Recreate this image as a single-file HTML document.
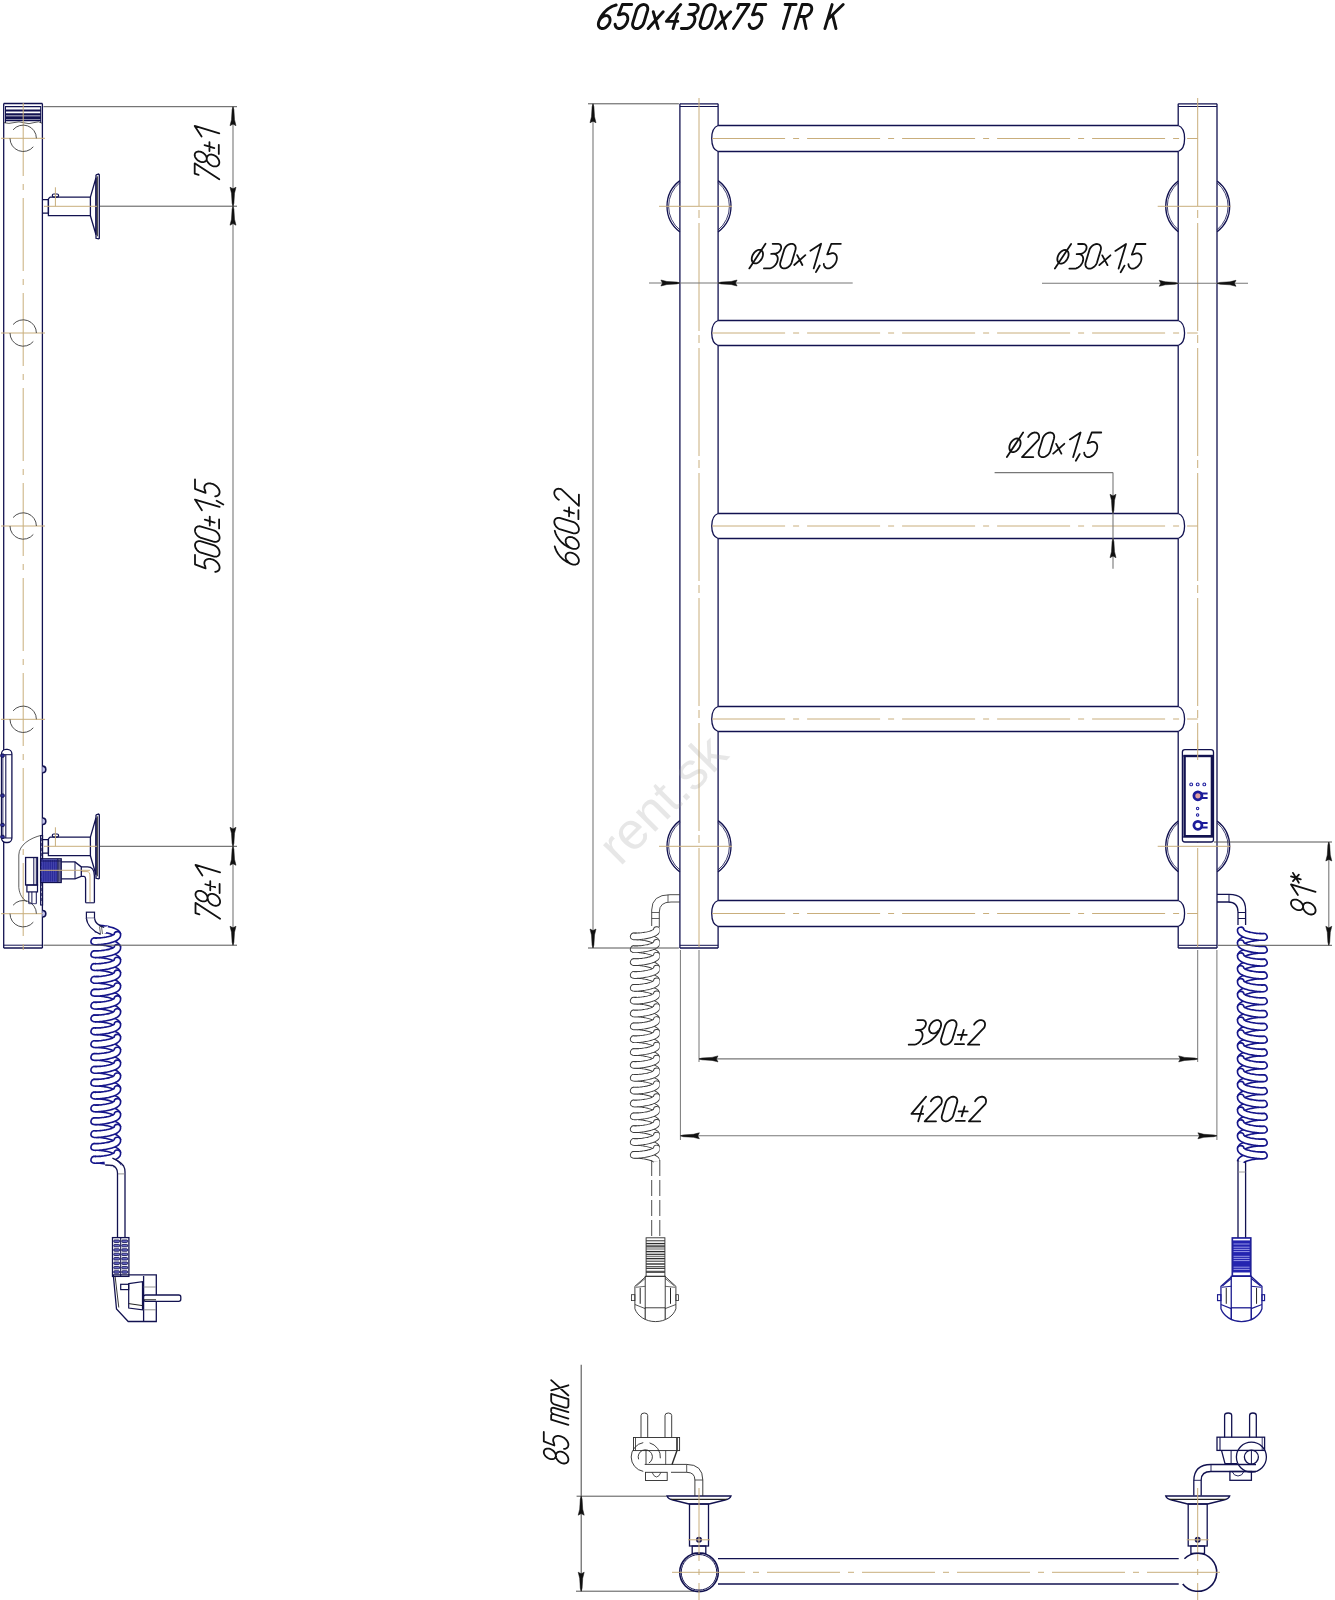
<!DOCTYPE html>
<html><head><meta charset="utf-8"><style>
html,body{margin:0;padding:0;background:#fff;overflow:hidden;}
svg{display:block;}
</style></head><body>
<svg width="1335" height="1600" viewBox="0 0 1335 1600">
<rect width="1335" height="1600" fill="#fff"/>
<defs><clipPath id="hidclip"><rect x="0" y="900" width="659.6" height="300"/></clipPath></defs>
<path d="M598.69,22.07 L599.02,21.17 L599.44,20.28 L599.96,19.43 L600.56,18.64 L601.24,17.90 L601.97,17.25 L602.74,16.70 L603.54,16.25 L604.36,15.91 L605.17,15.69 L605.96,15.59 L606.72,15.63 L607.44,15.78 L608.08,16.06 L608.66,16.46 L609.14,16.96 L609.54,17.57 L609.82,18.26 L610.00,19.03 L610.07,19.85 L610.02,20.72 L609.86,21.62 L609.58,22.52 L609.21,23.42 L608.74,24.29 L608.18,25.11 L607.54,25.88 L606.83,26.57 L606.08,27.18 L605.29,27.68 L604.48,28.08 L603.66,28.36 L602.86,28.51 L602.08,28.55 L601.34,28.45 L600.66,28.23 L600.05,27.89 L599.52,27.44 L599.08,26.89 L598.74,26.24 L598.50,25.50 L598.38,24.71 L598.37,23.86 L598.48,22.97 L598.69,22.07 M598.69,22.07 L599.65,19.46 L600.94,16.92 L602.54,14.48 L604.40,12.22 L606.49,10.17 L608.76,8.39 L611.16,6.91 L613.64,5.78 L616.14,5.00 M631.70,4.55 L622.42,4.55 L618.44,14.87 L620.75,14.46 L621.67,14.05 L622.59,13.78 L623.49,13.67 L624.34,13.72 L625.13,13.92 L625.84,14.28 L626.46,14.78 L626.97,15.41 L627.37,16.16 L627.64,17.02 L627.78,17.97 L627.78,18.98 L627.65,20.03 L627.39,21.11 L627.39,21.11 L627.01,22.17 L626.52,23.20 L625.93,24.19 L625.25,25.12 L624.49,25.97 L623.66,26.72 L622.79,27.36 L621.90,27.87 L620.99,28.24 L620.10,28.47 L619.23,28.55 L618.40,28.48 L617.64,28.26 L616.95,27.90 L616.35,27.39 L615.86,26.77 L615.48,26.02 L615.22,25.18 L615.08,24.25 M636.45,10.55 L632.85,22.55 L632.85,22.55 L632.65,23.40 L632.56,24.24 L632.60,25.04 L632.75,25.79 L633.02,26.48 L633.39,27.08 L633.87,27.60 L634.44,28.01 L635.09,28.31 L635.80,28.49 L636.57,28.55 L637.37,28.49 L638.20,28.31 L639.02,28.01 L639.84,27.60 L640.62,27.08 L641.36,26.48 L642.04,25.79 L642.64,25.04 L643.16,24.24 L643.58,23.40 L643.89,22.55 L647.49,10.55 L647.49,10.55 L647.69,9.70 L647.77,8.86 L647.74,8.06 L647.58,7.31 L647.32,6.62 L646.94,6.02 L646.47,5.50 L645.90,5.09 L645.25,4.79 L644.53,4.61 L643.77,4.55 L642.96,4.61 L642.14,4.79 L641.31,5.09 L640.50,5.50 L639.71,6.02 L638.97,6.62 L638.30,7.31 L637.69,8.06 L637.18,8.86 L636.76,9.70 L636.45,10.55 M653.24,11.75 L658.13,28.55 M663.17,11.75 L648.20,28.55 M680.71,4.55 L666.40,21.35 L677.88,21.35 M677.54,13.67 L673.07,28.55 M689.91,4.55 L694.77,4.55 L694.77,4.55 L695.42,4.60 L696.02,4.74 L696.57,4.98 L697.05,5.31 L697.46,5.72 L697.78,6.21 L698.01,6.75 L698.15,7.36 L698.19,8.00 L698.13,8.67 L697.97,9.35 L697.72,10.03 L697.38,10.70 L696.95,11.34 L696.45,11.95 L695.89,12.49 L695.28,12.98 L694.63,13.39 L693.95,13.72 L693.26,13.96 L692.57,14.10 L691.89,14.15 L688.51,14.39 M688.51,14.39 L690.50,14.39 L690.50,14.39 L691.35,14.46 L692.15,14.68 L692.87,15.03 L693.50,15.51 L694.03,16.12 L694.43,16.83 L694.72,17.64 L694.88,18.53 L694.90,19.48 L694.79,20.46 L694.55,21.47 L694.19,22.48 L693.71,23.46 L693.11,24.41 L692.42,25.30 L691.65,26.11 L690.81,26.82 L689.93,27.43 L689.01,27.91 L688.08,28.26 L687.15,28.48 L686.25,28.55 L681.39,28.55 M703.94,10.55 L700.34,22.55 L700.34,22.55 L700.14,23.40 L700.06,24.24 L700.09,25.04 L700.24,25.79 L700.51,26.48 L700.88,27.08 L701.36,27.60 L701.93,28.01 L702.58,28.31 L703.29,28.49 L704.06,28.55 L704.86,28.49 L705.69,28.31 L706.51,28.01 L707.33,27.60 L708.11,27.08 L708.85,26.48 L709.53,25.79 L710.13,25.04 L710.65,24.24 L711.07,23.40 L711.38,22.55 L714.98,10.55 L714.98,10.55 L715.18,9.70 L715.26,8.86 L715.23,8.06 L715.08,7.31 L714.81,6.62 L714.43,6.02 L713.96,5.50 L713.39,5.09 L712.74,4.79 L712.03,4.61 L711.26,4.55 L710.45,4.61 L709.63,4.79 L708.80,5.09 L707.99,5.50 L707.20,6.02 L706.47,6.62 L705.79,7.31 L705.19,8.06 L704.67,8.86 L704.25,9.70 L703.94,10.55 M720.73,11.75 L725.62,28.55 M730.66,11.75 L715.69,28.55 M737.78,8.39 L738.93,4.55 L749.09,4.55 L733.50,28.55 M765.80,4.55 L756.52,4.55 L752.54,14.87 L754.85,14.46 L755.77,14.05 L756.69,13.78 L757.59,13.67 L758.44,13.72 L759.23,13.92 L759.94,14.28 L760.56,14.78 L761.07,15.41 L761.47,16.16 L761.74,17.02 L761.88,17.97 L761.88,18.98 L761.75,20.03 L761.49,21.11 L761.49,21.11 L761.11,22.17 L760.62,23.20 L760.03,24.19 L759.35,25.12 L758.58,25.97 L757.76,26.72 L756.89,27.36 L756.00,27.87 L755.09,28.24 L754.19,28.47 L753.32,28.55 L752.50,28.48 L751.74,28.26 L751.05,27.90 L750.45,27.39 L749.96,26.77 L749.58,26.02 L749.32,25.18 L749.18,24.25 M785.08,4.55 L796.12,4.55 M790.60,4.55 L783.40,28.55 M795.03,28.55 L802.23,4.55 L807.75,4.55 L807.75,4.55 L808.52,4.61 L809.23,4.79 L809.88,5.09 L810.45,5.50 L810.92,6.02 L811.30,6.62 L811.57,7.31 L811.72,8.06 L811.75,8.86 L811.67,9.70 L811.47,10.55 L811.16,11.40 L810.74,12.24 L810.22,13.04 L809.62,13.79 L808.94,14.48 L808.20,15.08 L807.42,15.60 L806.60,16.01 L805.78,16.31 L804.95,16.49 L804.15,16.55 L798.63,16.55 M803.49,16.55 L806.07,28.55 M832.11,4.55 L824.91,28.55 M843.15,4.55 L827.65,19.43 M832.55,14.87 L835.95,28.55" stroke="#111" stroke-width="2.9" fill="none" stroke-linecap="round" stroke-linejoin="round"/>
<line x1="3.7" y1="103.5" x2="3.7" y2="948" stroke="#121250" stroke-width="1.3" />
<line x1="42.4" y1="103.5" x2="42.4" y2="948" stroke="#121250" stroke-width="1.3" />
<line x1="3.7" y1="103.5" x2="42.4" y2="103.5" stroke="#121250" stroke-width="1.3" />
<line x1="3.7" y1="948" x2="42.4" y2="948" stroke="#121250" stroke-width="1.3" />
<line x1="3.7" y1="945.2" x2="42.4" y2="945.2" stroke="#121250" stroke-width="1" />
<line x1="5.2" y1="106.6" x2="40.9" y2="106.6" stroke="#121250" stroke-width="1.3" />
<line x1="5.2" y1="110.5" x2="40.9" y2="110.5" stroke="#121250" stroke-width="2.2" />
<line x1="5.2" y1="114.4" x2="40.9" y2="114.4" stroke="#121250" stroke-width="2.2" />
<line x1="5.2" y1="117.8" x2="40.9" y2="117.8" stroke="#121250" stroke-width="3.2" />
<line x1="5.2" y1="120.7" x2="40.9" y2="120.7" stroke="#121250" stroke-width="1.3" />
<line x1="40.7" y1="106" x2="40.7" y2="123" stroke="#121250" stroke-width="1" />
<line x1="5.5" y1="106" x2="5.5" y2="123" stroke="#121250" stroke-width="1" />
<path d="M3.7,122.6 Q9,124.2 14,122.6 T24,122.8 T34,122.6 T42.4,123.4" stroke="#333" stroke-width="0.8" fill="none" />
<line x1="23.2" y1="103" x2="23.2" y2="955" stroke="#c9ae7c" stroke-width="1.0" stroke-dasharray="73 8 6 8"/>
<line x1="1" y1="138.3" x2="45" y2="138.3" stroke="#c9ae7c" stroke-width="1.0" stroke-dasharray="73 8 6 8"/>
<path d="M13.09,129.82 A13.2,13.2 0 0 1 36.4,138.3" stroke="#3a3a3a" stroke-width="0.9" fill="none" />
<path d="M33.31,146.78 A13.2,13.2 0 0 1 10,138.3" stroke="#3a3a3a" stroke-width="0.9" fill="none" />
<line x1="1" y1="333" x2="45" y2="333" stroke="#c9ae7c" stroke-width="1.0" stroke-dasharray="73 8 6 8"/>
<path d="M13.09,324.52 A13.2,13.2 0 0 1 36.4,333" stroke="#3a3a3a" stroke-width="0.9" fill="none" />
<path d="M33.31,341.48 A13.2,13.2 0 0 1 10,333" stroke="#3a3a3a" stroke-width="0.9" fill="none" />
<line x1="1" y1="526" x2="45" y2="526" stroke="#c9ae7c" stroke-width="1.0" stroke-dasharray="73 8 6 8"/>
<path d="M13.09,517.52 A13.2,13.2 0 0 1 36.4,526" stroke="#3a3a3a" stroke-width="0.9" fill="none" />
<path d="M33.31,534.48 A13.2,13.2 0 0 1 10,526" stroke="#3a3a3a" stroke-width="0.9" fill="none" />
<line x1="1" y1="719.3" x2="45" y2="719.3" stroke="#c9ae7c" stroke-width="1.0" stroke-dasharray="73 8 6 8"/>
<path d="M13.09,710.82 A13.2,13.2 0 0 1 36.4,719.3" stroke="#3a3a3a" stroke-width="0.9" fill="none" />
<path d="M33.31,727.78 A13.2,13.2 0 0 1 10,719.3" stroke="#3a3a3a" stroke-width="0.9" fill="none" />
<line x1="1" y1="913.7" x2="45" y2="913.7" stroke="#c9ae7c" stroke-width="1.0" stroke-dasharray="73 8 6 8"/>
<path d="M13.09,905.22 A13.2,13.2 0 0 1 36.4,913.7" stroke="#3a3a3a" stroke-width="0.9" fill="none" />
<path d="M33.31,922.18 A13.2,13.2 0 0 1 10,913.7" stroke="#3a3a3a" stroke-width="0.9" fill="none" />
<path d="M42.4,199.7 L48.4,199.7 L48.4,213.1 L42.4,213.1" stroke="#121250" stroke-width="1.3" fill="none" />
<path d="M48.4,198.7 L50.2,197.1 L90.4,197.1 L90.4,215.7 L48.4,215.7 L48.4,198.7" stroke="#121250" stroke-width="1.3" fill="none" />
<path d="M90.4,197.1 L96,177.8 L96,234.8 L90.4,215.7" stroke="#121250" stroke-width="1.3" fill="none" />
<path d="M96,174.8 L98.6,174.1 L99.3,174.8 L99.3,238.3 L98.6,238.8 L96,238.3 L96,174.8" stroke="#121250" stroke-width="1.3" fill="none" />
<line x1="97.4" y1="176.3" x2="97.4" y2="236.3" stroke="#222" stroke-width="0.9" />
<rect x="52.3" y="194" width="6.3" height="3.1" rx="1.5" stroke="#121250" stroke-width="1.2" fill="none"/>
<line x1="55.4" y1="187.3" x2="55.4" y2="206.3" stroke="#c9ae7c" stroke-width="1.0" stroke-dasharray="73 8 6 8"/>
<line x1="44" y1="206.3" x2="97" y2="206.3" stroke="#c9ae7c" stroke-width="1.0" stroke-dasharray="73 8 6 8"/>
<path d="M42.4,839.7 L48.4,839.7 L48.4,853.1 L42.4,853.1" stroke="#121250" stroke-width="1.3" fill="none" />
<path d="M48.4,838.7 L50.2,837.1 L90.4,837.1 L90.4,855.7 L48.4,855.7 L48.4,838.7" stroke="#121250" stroke-width="1.3" fill="none" />
<path d="M90.4,837.1 L96,817.8 L96,874.8 L90.4,855.7" stroke="#121250" stroke-width="1.3" fill="none" />
<path d="M96,814.8 L98.6,814.1 L99.3,814.8 L99.3,878.3 L98.6,878.8 L96,878.3 L96,814.8" stroke="#121250" stroke-width="1.3" fill="none" />
<line x1="97.4" y1="816.3" x2="97.4" y2="876.3" stroke="#222" stroke-width="0.9" />
<rect x="52.3" y="834" width="6.3" height="3.1" rx="1.5" stroke="#121250" stroke-width="1.2" fill="none"/>
<line x1="55.4" y1="827.3" x2="55.4" y2="846.3" stroke="#c9ae7c" stroke-width="1.0" stroke-dasharray="73 8 6 8"/>
<line x1="44" y1="846.3" x2="97" y2="846.3" stroke="#c9ae7c" stroke-width="1.0" stroke-dasharray="73 8 6 8"/>
<rect x="1.5" y="749.4" width="10.4" height="93.1" rx="4.5" stroke="#121250" stroke-width="1.3" fill="#fff"/>
<line x1="1.5" y1="754.7" x2="11.9" y2="754.7" stroke="#121250" stroke-width="1" />
<line x1="1.5" y1="838" x2="11.9" y2="838" stroke="#121250" stroke-width="1" />
<line x1="5.8" y1="754.7" x2="5.8" y2="838" stroke="#121250" stroke-width="1.1" />
<line x1="2.9" y1="754.7" x2="2.9" y2="838" stroke="#121250" stroke-width="0.8" />
<rect x="0.8" y="754" width="3.4" height="3.2" rx="0.8" stroke="#121250" stroke-width="1" fill="#3030a0"/>
<rect x="0.8" y="794" width="3.4" height="3.2" rx="0.8" stroke="#121250" stroke-width="1" fill="#3030a0"/>
<rect x="0.8" y="823.4" width="3.4" height="3.2" rx="0.8" stroke="#121250" stroke-width="1" fill="#3030a0"/>
<rect x="0.8" y="835.3" width="3.4" height="3.2" rx="0.8" stroke="#121250" stroke-width="1" fill="#3030a0"/>
<path d="M42.4,766.1 Q45.8,766.1 45.8,769.4 Q45.8,772.6999999999999 42.4,772.6999999999999" stroke="#121250" stroke-width="1.6" fill="#c8c8f0" />
<path d="M42.4,817.95 Q45.8,817.95 45.8,821.25 Q45.8,824.55 42.4,824.55" stroke="#121250" stroke-width="1.6" fill="#c8c8f0" />
<path d="M42.4,910.45 Q45.8,910.45 45.8,913.75 Q45.8,917.05 42.4,917.05" stroke="#121250" stroke-width="1.6" fill="#c8c8f0" />
<path d="M41.3,835.3 C30,838 19,845 18.8,855 L18.8,887.5 C19.5,895 23,899.5 27,901.5" stroke="#333" stroke-width="0.8" fill="none" />
<rect x="40.6" y="835.6" width="2" height="69.4" rx="0" stroke="#121250" stroke-width="1.1" fill="none"/>
<line x1="41.6" y1="838" x2="41.6" y2="903" stroke="#121250" stroke-width="0.7" stroke-dasharray="3 2"/>
<rect x="25.6" y="857.5" width="11.9" height="27.5" rx="0" stroke="#121250" stroke-width="1.3" fill="none"/>
<line x1="33.8" y1="857.5" x2="33.8" y2="885" stroke="#121250" stroke-width="1" />
<line x1="36.3" y1="857.5" x2="36.3" y2="885" stroke="#121250" stroke-width="1" />
<rect x="26.9" y="885" width="10.6" height="6.9" rx="0" stroke="#121250" stroke-width="1.2" fill="none"/>
<line x1="28.8" y1="891.9" x2="28.8" y2="903.7" stroke="#121250" stroke-width="1" />
<line x1="31.9" y1="891.9" x2="31.9" y2="903.7" stroke="#121250" stroke-width="1" />
<line x1="36.3" y1="891.9" x2="36.3" y2="903.7" stroke="#121250" stroke-width="1" />
<line x1="28.8" y1="903.7" x2="36.3" y2="903.7" stroke="#121250" stroke-width="0.8" />
<rect x="40.6" y="858.8" width="20.6" height="23.7" rx="0" stroke="#121250" stroke-width="1.3" fill="none"/>
<rect x="41.2" y="859.4" width="16.4" height="22.5" rx="0" stroke="none" stroke-width="0" fill="#2a2a98"/>
<line x1="42.6" y1="859.5" x2="42.6" y2="881.8" stroke="#5a5ac0" stroke-width="0.6" />
<line x1="44.8" y1="859.5" x2="44.8" y2="881.8" stroke="#5a5ac0" stroke-width="0.6" />
<line x1="47" y1="859.5" x2="47" y2="881.8" stroke="#5a5ac0" stroke-width="0.6" />
<line x1="49.2" y1="859.5" x2="49.2" y2="881.8" stroke="#5a5ac0" stroke-width="0.6" />
<line x1="51.4" y1="859.5" x2="51.4" y2="881.8" stroke="#5a5ac0" stroke-width="0.6" />
<line x1="53.6" y1="859.5" x2="53.6" y2="881.8" stroke="#5a5ac0" stroke-width="0.6" />
<line x1="55.8" y1="859.5" x2="55.8" y2="881.8" stroke="#5a5ac0" stroke-width="0.6" />
<line x1="58.6" y1="859.5" x2="58.6" y2="881.8" stroke="#121250" stroke-width="0.8" />
<line x1="59.7" y1="859.5" x2="59.7" y2="881.8" stroke="#121250" stroke-width="0.8" />
<line x1="60.8" y1="859.5" x2="60.8" y2="881.8" stroke="#121250" stroke-width="0.8" />
<line x1="57.8" y1="858.8" x2="57.8" y2="882.5" stroke="#121250" stroke-width="1" />
<line x1="40.6" y1="861" x2="61.2" y2="861" stroke="#121250" stroke-width="0.8" />
<path d="M61.2,861.9 L75,861.9 L81.3,866.9 L81.3,876.3 L75,878.8 L61.2,878.8" stroke="#121250" stroke-width="1.3" fill="none" />
<line x1="75" y1="861.9" x2="75" y2="878.8" stroke="#121250" stroke-width="1" />
<line x1="40" y1="870.3" x2="90" y2="870.3" stroke="#c9ae7c" stroke-width="1.0" stroke-dasharray="73 8 6 8"/>
<path d="M81.3,866.9 L87.5,866.9 Q94.4,866.9 94.4,876 L94.4,902.8" stroke="#121250" stroke-width="1.3" fill="none" />
<path d="M81.3,876.3 L84,876.3 Q85.6,876.6 85.6,879 L85.6,902.8" stroke="#121250" stroke-width="1.3" fill="none" />
<line x1="85.6" y1="902.8" x2="94.4" y2="902.8" stroke="#121250" stroke-width="1.1" />
<path d="M82,871.6 L87,871.6 Q90,871.6 90,876 L90,902" stroke="#c9ae7c" stroke-width="1" fill="none" />
<rect x="86.4" y="912.2" width="8.1" height="6.1" rx="0" stroke="#121250" stroke-width="1.2" fill="none"/>
<g>
<path d="M94.3,928.5 L94.36,928.48 L94.52,928.45 L94.8,928.43 L95.18,928.42 L95.66,928.42 L96.24,928.43 L96.91,928.45 L97.67,928.48 L98.5,928.53 L99.41,928.6 L100.38,928.68 L101.4,928.78 L102.46,928.91 L103.56,929.06 L104.67,929.22 L105.8,929.41 L106.93,929.62 L108.04,929.86 L109.14,930.11 L110.2,930.39 L111.22,930.69 L112.19,931 L113.1,931.34 L113.93,931.69 L114.69,932.06 L115.36,932.44 L115.94,932.84 L116.42,933.24 L116.8,933.66 L117.08,934.07 L117.24,934.5 L117.3,934.92" stroke="#15158a" stroke-width="8.2" fill="none" stroke-linecap="butt"/>
<path d="M94.3,941.35 L94.36,941.33 L94.52,941.3 L94.8,941.28 L95.18,941.27 L95.66,941.27 L96.24,941.28 L96.91,941.3 L97.67,941.33 L98.5,941.38 L99.41,941.45 L100.38,941.53 L101.4,941.63 L102.46,941.76 L103.56,941.91 L104.67,942.07 L105.8,942.26 L106.93,942.47 L108.04,942.71 L109.14,942.96 L110.2,943.24 L111.22,943.54 L112.19,943.85 L113.1,944.19 L113.93,944.54 L114.69,944.91 L115.36,945.29 L115.94,945.69 L116.42,946.09 L116.8,946.51 L117.08,946.92 L117.24,947.35 L117.3,947.77" stroke="#15158a" stroke-width="8.2" fill="none" stroke-linecap="butt"/>
<path d="M94.3,954.2 L94.36,954.18 L94.52,954.15 L94.8,954.13 L95.18,954.12 L95.66,954.12 L96.24,954.13 L96.91,954.15 L97.67,954.18 L98.5,954.23 L99.41,954.3 L100.38,954.38 L101.4,954.48 L102.46,954.61 L103.56,954.76 L104.67,954.92 L105.8,955.11 L106.93,955.32 L108.04,955.56 L109.14,955.81 L110.2,956.09 L111.22,956.39 L112.19,956.7 L113.1,957.04 L113.93,957.39 L114.69,957.76 L115.36,958.14 L115.94,958.54 L116.42,958.94 L116.8,959.36 L117.08,959.77 L117.24,960.2 L117.3,960.62" stroke="#15158a" stroke-width="8.2" fill="none" stroke-linecap="butt"/>
<path d="M94.3,967.05 L94.36,967.03 L94.52,967 L94.8,966.98 L95.18,966.97 L95.66,966.97 L96.24,966.98 L96.91,967 L97.67,967.03 L98.5,967.08 L99.41,967.15 L100.38,967.23 L101.4,967.33 L102.46,967.46 L103.56,967.61 L104.67,967.77 L105.8,967.96 L106.93,968.17 L108.04,968.41 L109.14,968.66 L110.2,968.94 L111.22,969.24 L112.19,969.55 L113.1,969.89 L113.93,970.24 L114.69,970.61 L115.36,970.99 L115.94,971.39 L116.42,971.79 L116.8,972.21 L117.08,972.62 L117.24,973.05 L117.3,973.48" stroke="#15158a" stroke-width="8.2" fill="none" stroke-linecap="butt"/>
<path d="M94.3,979.9 L94.36,979.88 L94.52,979.85 L94.8,979.83 L95.18,979.82 L95.66,979.82 L96.24,979.83 L96.91,979.85 L97.67,979.88 L98.5,979.93 L99.41,980 L100.38,980.08 L101.4,980.18 L102.46,980.31 L103.56,980.46 L104.67,980.62 L105.8,980.81 L106.93,981.02 L108.04,981.26 L109.14,981.51 L110.2,981.79 L111.22,982.09 L112.19,982.4 L113.1,982.74 L113.93,983.09 L114.69,983.46 L115.36,983.84 L115.94,984.24 L116.42,984.64 L116.8,985.06 L117.08,985.47 L117.24,985.9 L117.3,986.33" stroke="#15158a" stroke-width="8.2" fill="none" stroke-linecap="butt"/>
<path d="M94.3,992.75 L94.36,992.73 L94.52,992.7 L94.8,992.68 L95.18,992.67 L95.66,992.67 L96.24,992.68 L96.91,992.7 L97.67,992.73 L98.5,992.78 L99.41,992.85 L100.38,992.93 L101.4,993.03 L102.46,993.16 L103.56,993.31 L104.67,993.47 L105.8,993.66 L106.93,993.87 L108.04,994.11 L109.14,994.36 L110.2,994.64 L111.22,994.94 L112.19,995.25 L113.1,995.59 L113.93,995.94 L114.69,996.31 L115.36,996.69 L115.94,997.09 L116.42,997.49 L116.8,997.91 L117.08,998.32 L117.24,998.75 L117.3,999.17" stroke="#15158a" stroke-width="8.2" fill="none" stroke-linecap="butt"/>
<path d="M94.3,1005.6 L94.36,1005.58 L94.52,1005.55 L94.8,1005.53 L95.18,1005.52 L95.66,1005.52 L96.24,1005.53 L96.91,1005.55 L97.67,1005.58 L98.5,1005.63 L99.41,1005.7 L100.38,1005.78 L101.4,1005.88 L102.46,1006.01 L103.56,1006.16 L104.67,1006.32 L105.8,1006.51 L106.93,1006.72 L108.04,1006.96 L109.14,1007.21 L110.2,1007.49 L111.22,1007.79 L112.19,1008.1 L113.1,1008.44 L113.93,1008.79 L114.69,1009.16 L115.36,1009.54 L115.94,1009.94 L116.42,1010.34 L116.8,1010.76 L117.08,1011.17 L117.24,1011.6 L117.3,1012.02" stroke="#15158a" stroke-width="8.2" fill="none" stroke-linecap="butt"/>
<path d="M94.3,1018.45 L94.36,1018.43 L94.52,1018.4 L94.8,1018.38 L95.18,1018.37 L95.66,1018.37 L96.24,1018.38 L96.91,1018.4 L97.67,1018.43 L98.5,1018.48 L99.41,1018.55 L100.38,1018.63 L101.4,1018.73 L102.46,1018.86 L103.56,1019.01 L104.67,1019.17 L105.8,1019.36 L106.93,1019.57 L108.04,1019.81 L109.14,1020.06 L110.2,1020.34 L111.22,1020.64 L112.19,1020.95 L113.1,1021.29 L113.93,1021.64 L114.69,1022.01 L115.36,1022.39 L115.94,1022.79 L116.42,1023.19 L116.8,1023.61 L117.08,1024.02 L117.24,1024.45 L117.3,1024.88" stroke="#15158a" stroke-width="8.2" fill="none" stroke-linecap="butt"/>
<path d="M94.3,1031.3 L94.36,1031.28 L94.52,1031.25 L94.8,1031.23 L95.18,1031.22 L95.66,1031.22 L96.24,1031.23 L96.91,1031.25 L97.67,1031.28 L98.5,1031.33 L99.41,1031.4 L100.38,1031.48 L101.4,1031.58 L102.46,1031.71 L103.56,1031.86 L104.67,1032.02 L105.8,1032.21 L106.93,1032.42 L108.04,1032.66 L109.14,1032.91 L110.2,1033.19 L111.22,1033.49 L112.19,1033.8 L113.1,1034.14 L113.93,1034.49 L114.69,1034.86 L115.36,1035.24 L115.94,1035.64 L116.42,1036.04 L116.8,1036.46 L117.08,1036.87 L117.24,1037.3 L117.3,1037.72" stroke="#15158a" stroke-width="8.2" fill="none" stroke-linecap="butt"/>
<path d="M94.3,1044.15 L94.36,1044.13 L94.52,1044.1 L94.8,1044.08 L95.18,1044.07 L95.66,1044.07 L96.24,1044.08 L96.91,1044.1 L97.67,1044.13 L98.5,1044.18 L99.41,1044.25 L100.38,1044.33 L101.4,1044.43 L102.46,1044.56 L103.56,1044.71 L104.67,1044.87 L105.8,1045.06 L106.93,1045.27 L108.04,1045.51 L109.14,1045.76 L110.2,1046.04 L111.22,1046.34 L112.19,1046.65 L113.1,1046.99 L113.93,1047.34 L114.69,1047.71 L115.36,1048.09 L115.94,1048.49 L116.42,1048.89 L116.8,1049.31 L117.08,1049.72 L117.24,1050.15 L117.3,1050.58" stroke="#15158a" stroke-width="8.2" fill="none" stroke-linecap="butt"/>
<path d="M94.3,1057 L94.36,1056.98 L94.52,1056.95 L94.8,1056.93 L95.18,1056.92 L95.66,1056.92 L96.24,1056.93 L96.91,1056.95 L97.67,1056.98 L98.5,1057.03 L99.41,1057.1 L100.38,1057.18 L101.4,1057.28 L102.46,1057.41 L103.56,1057.56 L104.67,1057.72 L105.8,1057.91 L106.93,1058.12 L108.04,1058.36 L109.14,1058.61 L110.2,1058.89 L111.22,1059.19 L112.19,1059.5 L113.1,1059.84 L113.93,1060.19 L114.69,1060.56 L115.36,1060.94 L115.94,1061.34 L116.42,1061.74 L116.8,1062.16 L117.08,1062.57 L117.24,1063 L117.3,1063.42" stroke="#15158a" stroke-width="8.2" fill="none" stroke-linecap="butt"/>
<path d="M94.3,1069.85 L94.36,1069.83 L94.52,1069.8 L94.8,1069.78 L95.18,1069.77 L95.66,1069.77 L96.24,1069.78 L96.91,1069.8 L97.67,1069.83 L98.5,1069.88 L99.41,1069.95 L100.38,1070.03 L101.4,1070.13 L102.46,1070.26 L103.56,1070.41 L104.67,1070.57 L105.8,1070.76 L106.93,1070.97 L108.04,1071.21 L109.14,1071.46 L110.2,1071.74 L111.22,1072.04 L112.19,1072.35 L113.1,1072.69 L113.93,1073.04 L114.69,1073.41 L115.36,1073.79 L115.94,1074.19 L116.42,1074.59 L116.8,1075.01 L117.08,1075.42 L117.24,1075.85 L117.3,1076.28" stroke="#15158a" stroke-width="8.2" fill="none" stroke-linecap="butt"/>
<path d="M94.3,1082.7 L94.36,1082.68 L94.52,1082.65 L94.8,1082.63 L95.18,1082.62 L95.66,1082.62 L96.24,1082.63 L96.91,1082.65 L97.67,1082.68 L98.5,1082.73 L99.41,1082.8 L100.38,1082.88 L101.4,1082.98 L102.46,1083.11 L103.56,1083.26 L104.67,1083.42 L105.8,1083.61 L106.93,1083.82 L108.04,1084.06 L109.14,1084.31 L110.2,1084.59 L111.22,1084.89 L112.19,1085.2 L113.1,1085.54 L113.93,1085.89 L114.69,1086.26 L115.36,1086.64 L115.94,1087.04 L116.42,1087.44 L116.8,1087.86 L117.08,1088.27 L117.24,1088.7 L117.3,1089.12" stroke="#15158a" stroke-width="8.2" fill="none" stroke-linecap="butt"/>
<path d="M94.3,1095.55 L94.36,1095.53 L94.52,1095.5 L94.8,1095.48 L95.18,1095.47 L95.66,1095.47 L96.24,1095.48 L96.91,1095.5 L97.67,1095.53 L98.5,1095.58 L99.41,1095.65 L100.38,1095.73 L101.4,1095.83 L102.46,1095.96 L103.56,1096.11 L104.67,1096.27 L105.8,1096.46 L106.93,1096.67 L108.04,1096.91 L109.14,1097.16 L110.2,1097.44 L111.22,1097.74 L112.19,1098.05 L113.1,1098.39 L113.93,1098.74 L114.69,1099.11 L115.36,1099.49 L115.94,1099.89 L116.42,1100.29 L116.8,1100.71 L117.08,1101.12 L117.24,1101.55 L117.3,1101.97" stroke="#15158a" stroke-width="8.2" fill="none" stroke-linecap="butt"/>
<path d="M94.3,1108.4 L94.36,1108.38 L94.52,1108.35 L94.8,1108.33 L95.18,1108.32 L95.66,1108.32 L96.24,1108.33 L96.91,1108.35 L97.67,1108.38 L98.5,1108.43 L99.41,1108.5 L100.38,1108.58 L101.4,1108.68 L102.46,1108.81 L103.56,1108.96 L104.67,1109.12 L105.8,1109.31 L106.93,1109.52 L108.04,1109.76 L109.14,1110.01 L110.2,1110.29 L111.22,1110.59 L112.19,1110.9 L113.1,1111.24 L113.93,1111.59 L114.69,1111.96 L115.36,1112.34 L115.94,1112.74 L116.42,1113.14 L116.8,1113.56 L117.08,1113.97 L117.24,1114.4 L117.3,1114.83" stroke="#15158a" stroke-width="8.2" fill="none" stroke-linecap="butt"/>
<path d="M94.3,1121.25 L94.36,1121.23 L94.52,1121.2 L94.8,1121.18 L95.18,1121.17 L95.66,1121.17 L96.24,1121.18 L96.91,1121.2 L97.67,1121.23 L98.5,1121.28 L99.41,1121.35 L100.38,1121.43 L101.4,1121.53 L102.46,1121.66 L103.56,1121.81 L104.67,1121.97 L105.8,1122.16 L106.93,1122.37 L108.04,1122.61 L109.14,1122.86 L110.2,1123.14 L111.22,1123.44 L112.19,1123.75 L113.1,1124.09 L113.93,1124.44 L114.69,1124.81 L115.36,1125.19 L115.94,1125.59 L116.42,1125.99 L116.8,1126.41 L117.08,1126.82 L117.24,1127.25 L117.3,1127.67" stroke="#15158a" stroke-width="8.2" fill="none" stroke-linecap="butt"/>
<path d="M94.3,1134.1 L94.36,1134.08 L94.52,1134.05 L94.8,1134.03 L95.18,1134.02 L95.66,1134.02 L96.24,1134.03 L96.91,1134.05 L97.67,1134.08 L98.5,1134.13 L99.41,1134.2 L100.38,1134.28 L101.4,1134.38 L102.46,1134.51 L103.56,1134.66 L104.67,1134.82 L105.8,1135.01 L106.93,1135.22 L108.04,1135.46 L109.14,1135.71 L110.2,1135.99 L111.22,1136.29 L112.19,1136.6 L113.1,1136.94 L113.93,1137.29 L114.69,1137.66 L115.36,1138.04 L115.94,1138.44 L116.42,1138.84 L116.8,1139.26 L117.08,1139.67 L117.24,1140.1 L117.3,1140.53" stroke="#15158a" stroke-width="8.2" fill="none" stroke-linecap="butt"/>
<path d="M94.3,1146.95 L94.36,1146.93 L94.52,1146.9 L94.8,1146.88 L95.18,1146.87 L95.66,1146.87 L96.24,1146.88 L96.91,1146.9 L97.67,1146.93 L98.5,1146.98 L99.41,1147.05 L100.38,1147.13 L101.4,1147.23 L102.46,1147.36 L103.56,1147.51 L104.67,1147.67 L105.8,1147.86 L106.93,1148.07 L108.04,1148.31 L109.14,1148.56 L110.2,1148.84 L111.22,1149.14 L112.19,1149.45 L113.1,1149.79 L113.93,1150.14 L114.69,1150.51 L115.36,1150.89 L115.94,1151.29 L116.42,1151.69 L116.8,1152.11 L117.08,1152.52 L117.24,1152.95 L117.3,1153.38" stroke="#15158a" stroke-width="8.2" fill="none" stroke-linecap="butt"/>
<path d="M94.3,1159.8 L94.36,1159.78 L94.52,1159.75 L94.8,1159.73 L95.18,1159.72 L95.66,1159.72 L96.24,1159.73 L96.91,1159.75 L97.67,1159.78 L98.5,1159.83 L99.41,1159.9 L100.38,1159.98 L101.4,1160.08 L102.46,1160.21 L103.56,1160.36 L104.67,1160.52 L105.8,1160.71 L106.93,1160.92 L108.04,1161.16 L109.14,1161.41 L110.2,1161.69 L111.22,1161.99 L112.19,1162.3 L113.1,1162.64 L113.93,1162.99 L114.69,1163.36 L115.36,1163.74 L115.94,1164.14 L116.42,1164.54 L116.8,1164.96 L117.08,1165.37 L117.24,1165.8 L117.3,1166.22" stroke="#15158a" stroke-width="8.2" fill="none" stroke-linecap="butt"/>
<path d="M94.3,928.5 L94.36,928.48 L94.52,928.45 L94.8,928.43 L95.18,928.42 L95.66,928.42 L96.24,928.43 L96.91,928.45 L97.67,928.48 L98.5,928.53 L99.41,928.6 L100.38,928.68 L101.4,928.78 L102.46,928.91 L103.56,929.06 L104.67,929.22 L105.8,929.41 L106.93,929.62 L108.04,929.86 L109.14,930.11 L110.2,930.39 L111.22,930.69 L112.19,931 L113.1,931.34 L113.93,931.69 L114.69,932.06 L115.36,932.44 L115.94,932.84 L116.42,933.24 L116.8,933.66 L117.08,934.07 L117.24,934.5 L117.3,934.92" stroke="#fff" stroke-width="5.0" fill="none" stroke-linecap="butt"/>
<path d="M94.3,941.35 L94.36,941.33 L94.52,941.3 L94.8,941.28 L95.18,941.27 L95.66,941.27 L96.24,941.28 L96.91,941.3 L97.67,941.33 L98.5,941.38 L99.41,941.45 L100.38,941.53 L101.4,941.63 L102.46,941.76 L103.56,941.91 L104.67,942.07 L105.8,942.26 L106.93,942.47 L108.04,942.71 L109.14,942.96 L110.2,943.24 L111.22,943.54 L112.19,943.85 L113.1,944.19 L113.93,944.54 L114.69,944.91 L115.36,945.29 L115.94,945.69 L116.42,946.09 L116.8,946.51 L117.08,946.92 L117.24,947.35 L117.3,947.77" stroke="#fff" stroke-width="5.0" fill="none" stroke-linecap="butt"/>
<path d="M94.3,954.2 L94.36,954.18 L94.52,954.15 L94.8,954.13 L95.18,954.12 L95.66,954.12 L96.24,954.13 L96.91,954.15 L97.67,954.18 L98.5,954.23 L99.41,954.3 L100.38,954.38 L101.4,954.48 L102.46,954.61 L103.56,954.76 L104.67,954.92 L105.8,955.11 L106.93,955.32 L108.04,955.56 L109.14,955.81 L110.2,956.09 L111.22,956.39 L112.19,956.7 L113.1,957.04 L113.93,957.39 L114.69,957.76 L115.36,958.14 L115.94,958.54 L116.42,958.94 L116.8,959.36 L117.08,959.77 L117.24,960.2 L117.3,960.62" stroke="#fff" stroke-width="5.0" fill="none" stroke-linecap="butt"/>
<path d="M94.3,967.05 L94.36,967.03 L94.52,967 L94.8,966.98 L95.18,966.97 L95.66,966.97 L96.24,966.98 L96.91,967 L97.67,967.03 L98.5,967.08 L99.41,967.15 L100.38,967.23 L101.4,967.33 L102.46,967.46 L103.56,967.61 L104.67,967.77 L105.8,967.96 L106.93,968.17 L108.04,968.41 L109.14,968.66 L110.2,968.94 L111.22,969.24 L112.19,969.55 L113.1,969.89 L113.93,970.24 L114.69,970.61 L115.36,970.99 L115.94,971.39 L116.42,971.79 L116.8,972.21 L117.08,972.62 L117.24,973.05 L117.3,973.48" stroke="#fff" stroke-width="5.0" fill="none" stroke-linecap="butt"/>
<path d="M94.3,979.9 L94.36,979.88 L94.52,979.85 L94.8,979.83 L95.18,979.82 L95.66,979.82 L96.24,979.83 L96.91,979.85 L97.67,979.88 L98.5,979.93 L99.41,980 L100.38,980.08 L101.4,980.18 L102.46,980.31 L103.56,980.46 L104.67,980.62 L105.8,980.81 L106.93,981.02 L108.04,981.26 L109.14,981.51 L110.2,981.79 L111.22,982.09 L112.19,982.4 L113.1,982.74 L113.93,983.09 L114.69,983.46 L115.36,983.84 L115.94,984.24 L116.42,984.64 L116.8,985.06 L117.08,985.47 L117.24,985.9 L117.3,986.33" stroke="#fff" stroke-width="5.0" fill="none" stroke-linecap="butt"/>
<path d="M94.3,992.75 L94.36,992.73 L94.52,992.7 L94.8,992.68 L95.18,992.67 L95.66,992.67 L96.24,992.68 L96.91,992.7 L97.67,992.73 L98.5,992.78 L99.41,992.85 L100.38,992.93 L101.4,993.03 L102.46,993.16 L103.56,993.31 L104.67,993.47 L105.8,993.66 L106.93,993.87 L108.04,994.11 L109.14,994.36 L110.2,994.64 L111.22,994.94 L112.19,995.25 L113.1,995.59 L113.93,995.94 L114.69,996.31 L115.36,996.69 L115.94,997.09 L116.42,997.49 L116.8,997.91 L117.08,998.32 L117.24,998.75 L117.3,999.17" stroke="#fff" stroke-width="5.0" fill="none" stroke-linecap="butt"/>
<path d="M94.3,1005.6 L94.36,1005.58 L94.52,1005.55 L94.8,1005.53 L95.18,1005.52 L95.66,1005.52 L96.24,1005.53 L96.91,1005.55 L97.67,1005.58 L98.5,1005.63 L99.41,1005.7 L100.38,1005.78 L101.4,1005.88 L102.46,1006.01 L103.56,1006.16 L104.67,1006.32 L105.8,1006.51 L106.93,1006.72 L108.04,1006.96 L109.14,1007.21 L110.2,1007.49 L111.22,1007.79 L112.19,1008.1 L113.1,1008.44 L113.93,1008.79 L114.69,1009.16 L115.36,1009.54 L115.94,1009.94 L116.42,1010.34 L116.8,1010.76 L117.08,1011.17 L117.24,1011.6 L117.3,1012.02" stroke="#fff" stroke-width="5.0" fill="none" stroke-linecap="butt"/>
<path d="M94.3,1018.45 L94.36,1018.43 L94.52,1018.4 L94.8,1018.38 L95.18,1018.37 L95.66,1018.37 L96.24,1018.38 L96.91,1018.4 L97.67,1018.43 L98.5,1018.48 L99.41,1018.55 L100.38,1018.63 L101.4,1018.73 L102.46,1018.86 L103.56,1019.01 L104.67,1019.17 L105.8,1019.36 L106.93,1019.57 L108.04,1019.81 L109.14,1020.06 L110.2,1020.34 L111.22,1020.64 L112.19,1020.95 L113.1,1021.29 L113.93,1021.64 L114.69,1022.01 L115.36,1022.39 L115.94,1022.79 L116.42,1023.19 L116.8,1023.61 L117.08,1024.02 L117.24,1024.45 L117.3,1024.88" stroke="#fff" stroke-width="5.0" fill="none" stroke-linecap="butt"/>
<path d="M94.3,1031.3 L94.36,1031.28 L94.52,1031.25 L94.8,1031.23 L95.18,1031.22 L95.66,1031.22 L96.24,1031.23 L96.91,1031.25 L97.67,1031.28 L98.5,1031.33 L99.41,1031.4 L100.38,1031.48 L101.4,1031.58 L102.46,1031.71 L103.56,1031.86 L104.67,1032.02 L105.8,1032.21 L106.93,1032.42 L108.04,1032.66 L109.14,1032.91 L110.2,1033.19 L111.22,1033.49 L112.19,1033.8 L113.1,1034.14 L113.93,1034.49 L114.69,1034.86 L115.36,1035.24 L115.94,1035.64 L116.42,1036.04 L116.8,1036.46 L117.08,1036.87 L117.24,1037.3 L117.3,1037.72" stroke="#fff" stroke-width="5.0" fill="none" stroke-linecap="butt"/>
<path d="M94.3,1044.15 L94.36,1044.13 L94.52,1044.1 L94.8,1044.08 L95.18,1044.07 L95.66,1044.07 L96.24,1044.08 L96.91,1044.1 L97.67,1044.13 L98.5,1044.18 L99.41,1044.25 L100.38,1044.33 L101.4,1044.43 L102.46,1044.56 L103.56,1044.71 L104.67,1044.87 L105.8,1045.06 L106.93,1045.27 L108.04,1045.51 L109.14,1045.76 L110.2,1046.04 L111.22,1046.34 L112.19,1046.65 L113.1,1046.99 L113.93,1047.34 L114.69,1047.71 L115.36,1048.09 L115.94,1048.49 L116.42,1048.89 L116.8,1049.31 L117.08,1049.72 L117.24,1050.15 L117.3,1050.58" stroke="#fff" stroke-width="5.0" fill="none" stroke-linecap="butt"/>
<path d="M94.3,1057 L94.36,1056.98 L94.52,1056.95 L94.8,1056.93 L95.18,1056.92 L95.66,1056.92 L96.24,1056.93 L96.91,1056.95 L97.67,1056.98 L98.5,1057.03 L99.41,1057.1 L100.38,1057.18 L101.4,1057.28 L102.46,1057.41 L103.56,1057.56 L104.67,1057.72 L105.8,1057.91 L106.93,1058.12 L108.04,1058.36 L109.14,1058.61 L110.2,1058.89 L111.22,1059.19 L112.19,1059.5 L113.1,1059.84 L113.93,1060.19 L114.69,1060.56 L115.36,1060.94 L115.94,1061.34 L116.42,1061.74 L116.8,1062.16 L117.08,1062.57 L117.24,1063 L117.3,1063.42" stroke="#fff" stroke-width="5.0" fill="none" stroke-linecap="butt"/>
<path d="M94.3,1069.85 L94.36,1069.83 L94.52,1069.8 L94.8,1069.78 L95.18,1069.77 L95.66,1069.77 L96.24,1069.78 L96.91,1069.8 L97.67,1069.83 L98.5,1069.88 L99.41,1069.95 L100.38,1070.03 L101.4,1070.13 L102.46,1070.26 L103.56,1070.41 L104.67,1070.57 L105.8,1070.76 L106.93,1070.97 L108.04,1071.21 L109.14,1071.46 L110.2,1071.74 L111.22,1072.04 L112.19,1072.35 L113.1,1072.69 L113.93,1073.04 L114.69,1073.41 L115.36,1073.79 L115.94,1074.19 L116.42,1074.59 L116.8,1075.01 L117.08,1075.42 L117.24,1075.85 L117.3,1076.28" stroke="#fff" stroke-width="5.0" fill="none" stroke-linecap="butt"/>
<path d="M94.3,1082.7 L94.36,1082.68 L94.52,1082.65 L94.8,1082.63 L95.18,1082.62 L95.66,1082.62 L96.24,1082.63 L96.91,1082.65 L97.67,1082.68 L98.5,1082.73 L99.41,1082.8 L100.38,1082.88 L101.4,1082.98 L102.46,1083.11 L103.56,1083.26 L104.67,1083.42 L105.8,1083.61 L106.93,1083.82 L108.04,1084.06 L109.14,1084.31 L110.2,1084.59 L111.22,1084.89 L112.19,1085.2 L113.1,1085.54 L113.93,1085.89 L114.69,1086.26 L115.36,1086.64 L115.94,1087.04 L116.42,1087.44 L116.8,1087.86 L117.08,1088.27 L117.24,1088.7 L117.3,1089.12" stroke="#fff" stroke-width="5.0" fill="none" stroke-linecap="butt"/>
<path d="M94.3,1095.55 L94.36,1095.53 L94.52,1095.5 L94.8,1095.48 L95.18,1095.47 L95.66,1095.47 L96.24,1095.48 L96.91,1095.5 L97.67,1095.53 L98.5,1095.58 L99.41,1095.65 L100.38,1095.73 L101.4,1095.83 L102.46,1095.96 L103.56,1096.11 L104.67,1096.27 L105.8,1096.46 L106.93,1096.67 L108.04,1096.91 L109.14,1097.16 L110.2,1097.44 L111.22,1097.74 L112.19,1098.05 L113.1,1098.39 L113.93,1098.74 L114.69,1099.11 L115.36,1099.49 L115.94,1099.89 L116.42,1100.29 L116.8,1100.71 L117.08,1101.12 L117.24,1101.55 L117.3,1101.97" stroke="#fff" stroke-width="5.0" fill="none" stroke-linecap="butt"/>
<path d="M94.3,1108.4 L94.36,1108.38 L94.52,1108.35 L94.8,1108.33 L95.18,1108.32 L95.66,1108.32 L96.24,1108.33 L96.91,1108.35 L97.67,1108.38 L98.5,1108.43 L99.41,1108.5 L100.38,1108.58 L101.4,1108.68 L102.46,1108.81 L103.56,1108.96 L104.67,1109.12 L105.8,1109.31 L106.93,1109.52 L108.04,1109.76 L109.14,1110.01 L110.2,1110.29 L111.22,1110.59 L112.19,1110.9 L113.1,1111.24 L113.93,1111.59 L114.69,1111.96 L115.36,1112.34 L115.94,1112.74 L116.42,1113.14 L116.8,1113.56 L117.08,1113.97 L117.24,1114.4 L117.3,1114.83" stroke="#fff" stroke-width="5.0" fill="none" stroke-linecap="butt"/>
<path d="M94.3,1121.25 L94.36,1121.23 L94.52,1121.2 L94.8,1121.18 L95.18,1121.17 L95.66,1121.17 L96.24,1121.18 L96.91,1121.2 L97.67,1121.23 L98.5,1121.28 L99.41,1121.35 L100.38,1121.43 L101.4,1121.53 L102.46,1121.66 L103.56,1121.81 L104.67,1121.97 L105.8,1122.16 L106.93,1122.37 L108.04,1122.61 L109.14,1122.86 L110.2,1123.14 L111.22,1123.44 L112.19,1123.75 L113.1,1124.09 L113.93,1124.44 L114.69,1124.81 L115.36,1125.19 L115.94,1125.59 L116.42,1125.99 L116.8,1126.41 L117.08,1126.82 L117.24,1127.25 L117.3,1127.67" stroke="#fff" stroke-width="5.0" fill="none" stroke-linecap="butt"/>
<path d="M94.3,1134.1 L94.36,1134.08 L94.52,1134.05 L94.8,1134.03 L95.18,1134.02 L95.66,1134.02 L96.24,1134.03 L96.91,1134.05 L97.67,1134.08 L98.5,1134.13 L99.41,1134.2 L100.38,1134.28 L101.4,1134.38 L102.46,1134.51 L103.56,1134.66 L104.67,1134.82 L105.8,1135.01 L106.93,1135.22 L108.04,1135.46 L109.14,1135.71 L110.2,1135.99 L111.22,1136.29 L112.19,1136.6 L113.1,1136.94 L113.93,1137.29 L114.69,1137.66 L115.36,1138.04 L115.94,1138.44 L116.42,1138.84 L116.8,1139.26 L117.08,1139.67 L117.24,1140.1 L117.3,1140.53" stroke="#fff" stroke-width="5.0" fill="none" stroke-linecap="butt"/>
<path d="M94.3,1146.95 L94.36,1146.93 L94.52,1146.9 L94.8,1146.88 L95.18,1146.87 L95.66,1146.87 L96.24,1146.88 L96.91,1146.9 L97.67,1146.93 L98.5,1146.98 L99.41,1147.05 L100.38,1147.13 L101.4,1147.23 L102.46,1147.36 L103.56,1147.51 L104.67,1147.67 L105.8,1147.86 L106.93,1148.07 L108.04,1148.31 L109.14,1148.56 L110.2,1148.84 L111.22,1149.14 L112.19,1149.45 L113.1,1149.79 L113.93,1150.14 L114.69,1150.51 L115.36,1150.89 L115.94,1151.29 L116.42,1151.69 L116.8,1152.11 L117.08,1152.52 L117.24,1152.95 L117.3,1153.38" stroke="#fff" stroke-width="5.0" fill="none" stroke-linecap="butt"/>
<path d="M94.3,1159.8 L94.36,1159.78 L94.52,1159.75 L94.8,1159.73 L95.18,1159.72 L95.66,1159.72 L96.24,1159.73 L96.91,1159.75 L97.67,1159.78 L98.5,1159.83 L99.41,1159.9 L100.38,1159.98 L101.4,1160.08 L102.46,1160.21 L103.56,1160.36 L104.67,1160.52 L105.8,1160.71 L106.93,1160.92 L108.04,1161.16 L109.14,1161.41 L110.2,1161.69 L111.22,1161.99 L112.19,1162.3 L113.1,1162.64 L113.93,1162.99 L114.69,1163.36 L115.36,1163.74 L115.94,1164.14 L116.42,1164.54 L116.8,1164.96 L117.08,1165.37 L117.24,1165.8 L117.3,1166.22" stroke="#fff" stroke-width="5.0" fill="none" stroke-linecap="butt"/>
<path d="M117.3,934.92 L117.24,935.35 L117.08,935.78 L116.8,936.19 L116.42,936.61 L115.94,937.01 L115.36,937.41 L114.69,937.79 L113.93,938.16 L113.1,938.51 L112.19,938.85 L111.22,939.16 L110.2,939.46 L109.14,939.74 L108.04,939.99 L106.93,940.23 L105.8,940.44 L104.67,940.63 L103.56,940.79 L102.46,940.94 L101.4,941.07 L100.38,941.17 L99.41,941.25 L98.5,941.32 L97.67,941.37 L96.91,941.4 L96.24,941.42 L95.66,941.43 L95.18,941.43 L94.8,941.42 L94.52,941.4 L94.36,941.37 L94.3,941.35" stroke="#15158a" stroke-width="8.2" fill="none" stroke-linecap="round"/>
<path d="M117.3,934.92 L117.24,935.35 L117.08,935.78 L116.8,936.19 L116.42,936.61 L115.94,937.01 L115.36,937.41 L114.69,937.79 L113.93,938.16 L113.1,938.51 L112.19,938.85 L111.22,939.16 L110.2,939.46 L109.14,939.74 L108.04,939.99 L106.93,940.23 L105.8,940.44 L104.67,940.63 L103.56,940.79 L102.46,940.94 L101.4,941.07 L100.38,941.17 L99.41,941.25 L98.5,941.32 L97.67,941.37 L96.91,941.4 L96.24,941.42 L95.66,941.43 L95.18,941.43 L94.8,941.42 L94.52,941.4 L94.36,941.37 L94.3,941.35" stroke="#fff" stroke-width="5.0" fill="none" stroke-linecap="round"/>
<path d="M117.3,947.77 L117.24,948.2 L117.08,948.63 L116.8,949.04 L116.42,949.46 L115.94,949.86 L115.36,950.26 L114.69,950.64 L113.93,951.01 L113.1,951.36 L112.19,951.7 L111.22,952.01 L110.2,952.31 L109.14,952.59 L108.04,952.84 L106.93,953.08 L105.8,953.29 L104.67,953.48 L103.56,953.64 L102.46,953.79 L101.4,953.92 L100.38,954.02 L99.41,954.1 L98.5,954.17 L97.67,954.22 L96.91,954.25 L96.24,954.27 L95.66,954.28 L95.18,954.28 L94.8,954.27 L94.52,954.25 L94.36,954.22 L94.3,954.2" stroke="#15158a" stroke-width="8.2" fill="none" stroke-linecap="round"/>
<path d="M117.3,947.77 L117.24,948.2 L117.08,948.63 L116.8,949.04 L116.42,949.46 L115.94,949.86 L115.36,950.26 L114.69,950.64 L113.93,951.01 L113.1,951.36 L112.19,951.7 L111.22,952.01 L110.2,952.31 L109.14,952.59 L108.04,952.84 L106.93,953.08 L105.8,953.29 L104.67,953.48 L103.56,953.64 L102.46,953.79 L101.4,953.92 L100.38,954.02 L99.41,954.1 L98.5,954.17 L97.67,954.22 L96.91,954.25 L96.24,954.27 L95.66,954.28 L95.18,954.28 L94.8,954.27 L94.52,954.25 L94.36,954.22 L94.3,954.2" stroke="#fff" stroke-width="5.0" fill="none" stroke-linecap="round"/>
<path d="M117.3,960.62 L117.24,961.05 L117.08,961.48 L116.8,961.89 L116.42,962.31 L115.94,962.71 L115.36,963.11 L114.69,963.49 L113.93,963.86 L113.1,964.21 L112.19,964.55 L111.22,964.86 L110.2,965.16 L109.14,965.44 L108.04,965.69 L106.93,965.93 L105.8,966.14 L104.67,966.33 L103.56,966.49 L102.46,966.64 L101.4,966.77 L100.38,966.87 L99.41,966.95 L98.5,967.02 L97.67,967.07 L96.91,967.1 L96.24,967.12 L95.66,967.13 L95.18,967.13 L94.8,967.12 L94.52,967.1 L94.36,967.07 L94.3,967.05" stroke="#15158a" stroke-width="8.2" fill="none" stroke-linecap="round"/>
<path d="M117.3,960.62 L117.24,961.05 L117.08,961.48 L116.8,961.89 L116.42,962.31 L115.94,962.71 L115.36,963.11 L114.69,963.49 L113.93,963.86 L113.1,964.21 L112.19,964.55 L111.22,964.86 L110.2,965.16 L109.14,965.44 L108.04,965.69 L106.93,965.93 L105.8,966.14 L104.67,966.33 L103.56,966.49 L102.46,966.64 L101.4,966.77 L100.38,966.87 L99.41,966.95 L98.5,967.02 L97.67,967.07 L96.91,967.1 L96.24,967.12 L95.66,967.13 L95.18,967.13 L94.8,967.12 L94.52,967.1 L94.36,967.07 L94.3,967.05" stroke="#fff" stroke-width="5.0" fill="none" stroke-linecap="round"/>
<path d="M117.3,973.48 L117.24,973.9 L117.08,974.33 L116.8,974.74 L116.42,975.16 L115.94,975.56 L115.36,975.96 L114.69,976.34 L113.93,976.71 L113.1,977.06 L112.19,977.4 L111.22,977.71 L110.2,978.01 L109.14,978.29 L108.04,978.54 L106.93,978.78 L105.8,978.99 L104.67,979.18 L103.56,979.34 L102.46,979.49 L101.4,979.62 L100.38,979.72 L99.41,979.8 L98.5,979.87 L97.67,979.92 L96.91,979.95 L96.24,979.97 L95.66,979.98 L95.18,979.98 L94.8,979.97 L94.52,979.95 L94.36,979.92 L94.3,979.9" stroke="#15158a" stroke-width="8.2" fill="none" stroke-linecap="round"/>
<path d="M117.3,973.48 L117.24,973.9 L117.08,974.33 L116.8,974.74 L116.42,975.16 L115.94,975.56 L115.36,975.96 L114.69,976.34 L113.93,976.71 L113.1,977.06 L112.19,977.4 L111.22,977.71 L110.2,978.01 L109.14,978.29 L108.04,978.54 L106.93,978.78 L105.8,978.99 L104.67,979.18 L103.56,979.34 L102.46,979.49 L101.4,979.62 L100.38,979.72 L99.41,979.8 L98.5,979.87 L97.67,979.92 L96.91,979.95 L96.24,979.97 L95.66,979.98 L95.18,979.98 L94.8,979.97 L94.52,979.95 L94.36,979.92 L94.3,979.9" stroke="#fff" stroke-width="5.0" fill="none" stroke-linecap="round"/>
<path d="M117.3,986.33 L117.24,986.75 L117.08,987.18 L116.8,987.59 L116.42,988.01 L115.94,988.41 L115.36,988.81 L114.69,989.19 L113.93,989.56 L113.1,989.91 L112.19,990.25 L111.22,990.56 L110.2,990.86 L109.14,991.14 L108.04,991.39 L106.93,991.63 L105.8,991.84 L104.67,992.03 L103.56,992.19 L102.46,992.34 L101.4,992.47 L100.38,992.57 L99.41,992.65 L98.5,992.72 L97.67,992.77 L96.91,992.8 L96.24,992.82 L95.66,992.83 L95.18,992.83 L94.8,992.82 L94.52,992.8 L94.36,992.77 L94.3,992.75" stroke="#15158a" stroke-width="8.2" fill="none" stroke-linecap="round"/>
<path d="M117.3,986.33 L117.24,986.75 L117.08,987.18 L116.8,987.59 L116.42,988.01 L115.94,988.41 L115.36,988.81 L114.69,989.19 L113.93,989.56 L113.1,989.91 L112.19,990.25 L111.22,990.56 L110.2,990.86 L109.14,991.14 L108.04,991.39 L106.93,991.63 L105.8,991.84 L104.67,992.03 L103.56,992.19 L102.46,992.34 L101.4,992.47 L100.38,992.57 L99.41,992.65 L98.5,992.72 L97.67,992.77 L96.91,992.8 L96.24,992.82 L95.66,992.83 L95.18,992.83 L94.8,992.82 L94.52,992.8 L94.36,992.77 L94.3,992.75" stroke="#fff" stroke-width="5.0" fill="none" stroke-linecap="round"/>
<path d="M117.3,999.17 L117.24,999.6 L117.08,1000.03 L116.8,1000.44 L116.42,1000.86 L115.94,1001.26 L115.36,1001.66 L114.69,1002.04 L113.93,1002.41 L113.1,1002.76 L112.19,1003.1 L111.22,1003.41 L110.2,1003.71 L109.14,1003.99 L108.04,1004.24 L106.93,1004.48 L105.8,1004.69 L104.67,1004.88 L103.56,1005.04 L102.46,1005.19 L101.4,1005.32 L100.38,1005.42 L99.41,1005.5 L98.5,1005.57 L97.67,1005.62 L96.91,1005.65 L96.24,1005.67 L95.66,1005.68 L95.18,1005.68 L94.8,1005.67 L94.52,1005.65 L94.36,1005.62 L94.3,1005.6" stroke="#15158a" stroke-width="8.2" fill="none" stroke-linecap="round"/>
<path d="M117.3,999.17 L117.24,999.6 L117.08,1000.03 L116.8,1000.44 L116.42,1000.86 L115.94,1001.26 L115.36,1001.66 L114.69,1002.04 L113.93,1002.41 L113.1,1002.76 L112.19,1003.1 L111.22,1003.41 L110.2,1003.71 L109.14,1003.99 L108.04,1004.24 L106.93,1004.48 L105.8,1004.69 L104.67,1004.88 L103.56,1005.04 L102.46,1005.19 L101.4,1005.32 L100.38,1005.42 L99.41,1005.5 L98.5,1005.57 L97.67,1005.62 L96.91,1005.65 L96.24,1005.67 L95.66,1005.68 L95.18,1005.68 L94.8,1005.67 L94.52,1005.65 L94.36,1005.62 L94.3,1005.6" stroke="#fff" stroke-width="5.0" fill="none" stroke-linecap="round"/>
<path d="M117.3,1012.02 L117.24,1012.45 L117.08,1012.88 L116.8,1013.29 L116.42,1013.71 L115.94,1014.11 L115.36,1014.51 L114.69,1014.89 L113.93,1015.26 L113.1,1015.61 L112.19,1015.95 L111.22,1016.26 L110.2,1016.56 L109.14,1016.84 L108.04,1017.09 L106.93,1017.33 L105.8,1017.54 L104.67,1017.73 L103.56,1017.89 L102.46,1018.04 L101.4,1018.17 L100.38,1018.27 L99.41,1018.35 L98.5,1018.42 L97.67,1018.47 L96.91,1018.5 L96.24,1018.52 L95.66,1018.53 L95.18,1018.53 L94.8,1018.52 L94.52,1018.5 L94.36,1018.47 L94.3,1018.45" stroke="#15158a" stroke-width="8.2" fill="none" stroke-linecap="round"/>
<path d="M117.3,1012.02 L117.24,1012.45 L117.08,1012.88 L116.8,1013.29 L116.42,1013.71 L115.94,1014.11 L115.36,1014.51 L114.69,1014.89 L113.93,1015.26 L113.1,1015.61 L112.19,1015.95 L111.22,1016.26 L110.2,1016.56 L109.14,1016.84 L108.04,1017.09 L106.93,1017.33 L105.8,1017.54 L104.67,1017.73 L103.56,1017.89 L102.46,1018.04 L101.4,1018.17 L100.38,1018.27 L99.41,1018.35 L98.5,1018.42 L97.67,1018.47 L96.91,1018.5 L96.24,1018.52 L95.66,1018.53 L95.18,1018.53 L94.8,1018.52 L94.52,1018.5 L94.36,1018.47 L94.3,1018.45" stroke="#fff" stroke-width="5.0" fill="none" stroke-linecap="round"/>
<path d="M117.3,1024.88 L117.24,1025.3 L117.08,1025.73 L116.8,1026.14 L116.42,1026.56 L115.94,1026.96 L115.36,1027.36 L114.69,1027.74 L113.93,1028.11 L113.1,1028.46 L112.19,1028.8 L111.22,1029.11 L110.2,1029.41 L109.14,1029.69 L108.04,1029.94 L106.93,1030.18 L105.8,1030.39 L104.67,1030.58 L103.56,1030.74 L102.46,1030.89 L101.4,1031.02 L100.38,1031.12 L99.41,1031.2 L98.5,1031.27 L97.67,1031.32 L96.91,1031.35 L96.24,1031.37 L95.66,1031.38 L95.18,1031.38 L94.8,1031.37 L94.52,1031.35 L94.36,1031.32 L94.3,1031.3" stroke="#15158a" stroke-width="8.2" fill="none" stroke-linecap="round"/>
<path d="M117.3,1024.88 L117.24,1025.3 L117.08,1025.73 L116.8,1026.14 L116.42,1026.56 L115.94,1026.96 L115.36,1027.36 L114.69,1027.74 L113.93,1028.11 L113.1,1028.46 L112.19,1028.8 L111.22,1029.11 L110.2,1029.41 L109.14,1029.69 L108.04,1029.94 L106.93,1030.18 L105.8,1030.39 L104.67,1030.58 L103.56,1030.74 L102.46,1030.89 L101.4,1031.02 L100.38,1031.12 L99.41,1031.2 L98.5,1031.27 L97.67,1031.32 L96.91,1031.35 L96.24,1031.37 L95.66,1031.38 L95.18,1031.38 L94.8,1031.37 L94.52,1031.35 L94.36,1031.32 L94.3,1031.3" stroke="#fff" stroke-width="5.0" fill="none" stroke-linecap="round"/>
<path d="M117.3,1037.72 L117.24,1038.15 L117.08,1038.58 L116.8,1038.99 L116.42,1039.41 L115.94,1039.81 L115.36,1040.21 L114.69,1040.59 L113.93,1040.96 L113.1,1041.31 L112.19,1041.65 L111.22,1041.96 L110.2,1042.26 L109.14,1042.54 L108.04,1042.79 L106.93,1043.03 L105.8,1043.24 L104.67,1043.43 L103.56,1043.59 L102.46,1043.74 L101.4,1043.87 L100.38,1043.97 L99.41,1044.05 L98.5,1044.12 L97.67,1044.17 L96.91,1044.2 L96.24,1044.22 L95.66,1044.23 L95.18,1044.23 L94.8,1044.22 L94.52,1044.2 L94.36,1044.17 L94.3,1044.15" stroke="#15158a" stroke-width="8.2" fill="none" stroke-linecap="round"/>
<path d="M117.3,1037.72 L117.24,1038.15 L117.08,1038.58 L116.8,1038.99 L116.42,1039.41 L115.94,1039.81 L115.36,1040.21 L114.69,1040.59 L113.93,1040.96 L113.1,1041.31 L112.19,1041.65 L111.22,1041.96 L110.2,1042.26 L109.14,1042.54 L108.04,1042.79 L106.93,1043.03 L105.8,1043.24 L104.67,1043.43 L103.56,1043.59 L102.46,1043.74 L101.4,1043.87 L100.38,1043.97 L99.41,1044.05 L98.5,1044.12 L97.67,1044.17 L96.91,1044.2 L96.24,1044.22 L95.66,1044.23 L95.18,1044.23 L94.8,1044.22 L94.52,1044.2 L94.36,1044.17 L94.3,1044.15" stroke="#fff" stroke-width="5.0" fill="none" stroke-linecap="round"/>
<path d="M117.3,1050.58 L117.24,1051 L117.08,1051.43 L116.8,1051.84 L116.42,1052.26 L115.94,1052.66 L115.36,1053.06 L114.69,1053.44 L113.93,1053.81 L113.1,1054.16 L112.19,1054.5 L111.22,1054.81 L110.2,1055.11 L109.14,1055.39 L108.04,1055.64 L106.93,1055.88 L105.8,1056.09 L104.67,1056.28 L103.56,1056.44 L102.46,1056.59 L101.4,1056.72 L100.38,1056.82 L99.41,1056.9 L98.5,1056.97 L97.67,1057.02 L96.91,1057.05 L96.24,1057.07 L95.66,1057.08 L95.18,1057.08 L94.8,1057.07 L94.52,1057.05 L94.36,1057.02 L94.3,1057" stroke="#15158a" stroke-width="8.2" fill="none" stroke-linecap="round"/>
<path d="M117.3,1050.58 L117.24,1051 L117.08,1051.43 L116.8,1051.84 L116.42,1052.26 L115.94,1052.66 L115.36,1053.06 L114.69,1053.44 L113.93,1053.81 L113.1,1054.16 L112.19,1054.5 L111.22,1054.81 L110.2,1055.11 L109.14,1055.39 L108.04,1055.64 L106.93,1055.88 L105.8,1056.09 L104.67,1056.28 L103.56,1056.44 L102.46,1056.59 L101.4,1056.72 L100.38,1056.82 L99.41,1056.9 L98.5,1056.97 L97.67,1057.02 L96.91,1057.05 L96.24,1057.07 L95.66,1057.08 L95.18,1057.08 L94.8,1057.07 L94.52,1057.05 L94.36,1057.02 L94.3,1057" stroke="#fff" stroke-width="5.0" fill="none" stroke-linecap="round"/>
<path d="M117.3,1063.42 L117.24,1063.85 L117.08,1064.28 L116.8,1064.69 L116.42,1065.11 L115.94,1065.51 L115.36,1065.91 L114.69,1066.29 L113.93,1066.66 L113.1,1067.01 L112.19,1067.35 L111.22,1067.66 L110.2,1067.96 L109.14,1068.24 L108.04,1068.49 L106.93,1068.73 L105.8,1068.94 L104.67,1069.13 L103.56,1069.29 L102.46,1069.44 L101.4,1069.57 L100.38,1069.67 L99.41,1069.75 L98.5,1069.82 L97.67,1069.87 L96.91,1069.9 L96.24,1069.92 L95.66,1069.93 L95.18,1069.93 L94.8,1069.92 L94.52,1069.9 L94.36,1069.87 L94.3,1069.85" stroke="#15158a" stroke-width="8.2" fill="none" stroke-linecap="round"/>
<path d="M117.3,1063.42 L117.24,1063.85 L117.08,1064.28 L116.8,1064.69 L116.42,1065.11 L115.94,1065.51 L115.36,1065.91 L114.69,1066.29 L113.93,1066.66 L113.1,1067.01 L112.19,1067.35 L111.22,1067.66 L110.2,1067.96 L109.14,1068.24 L108.04,1068.49 L106.93,1068.73 L105.8,1068.94 L104.67,1069.13 L103.56,1069.29 L102.46,1069.44 L101.4,1069.57 L100.38,1069.67 L99.41,1069.75 L98.5,1069.82 L97.67,1069.87 L96.91,1069.9 L96.24,1069.92 L95.66,1069.93 L95.18,1069.93 L94.8,1069.92 L94.52,1069.9 L94.36,1069.87 L94.3,1069.85" stroke="#fff" stroke-width="5.0" fill="none" stroke-linecap="round"/>
<path d="M117.3,1076.28 L117.24,1076.7 L117.08,1077.13 L116.8,1077.54 L116.42,1077.96 L115.94,1078.36 L115.36,1078.76 L114.69,1079.14 L113.93,1079.51 L113.1,1079.86 L112.19,1080.2 L111.22,1080.51 L110.2,1080.81 L109.14,1081.09 L108.04,1081.34 L106.93,1081.58 L105.8,1081.79 L104.67,1081.98 L103.56,1082.14 L102.46,1082.29 L101.4,1082.42 L100.38,1082.52 L99.41,1082.6 L98.5,1082.67 L97.67,1082.72 L96.91,1082.75 L96.24,1082.77 L95.66,1082.78 L95.18,1082.78 L94.8,1082.77 L94.52,1082.75 L94.36,1082.72 L94.3,1082.7" stroke="#15158a" stroke-width="8.2" fill="none" stroke-linecap="round"/>
<path d="M117.3,1076.28 L117.24,1076.7 L117.08,1077.13 L116.8,1077.54 L116.42,1077.96 L115.94,1078.36 L115.36,1078.76 L114.69,1079.14 L113.93,1079.51 L113.1,1079.86 L112.19,1080.2 L111.22,1080.51 L110.2,1080.81 L109.14,1081.09 L108.04,1081.34 L106.93,1081.58 L105.8,1081.79 L104.67,1081.98 L103.56,1082.14 L102.46,1082.29 L101.4,1082.42 L100.38,1082.52 L99.41,1082.6 L98.5,1082.67 L97.67,1082.72 L96.91,1082.75 L96.24,1082.77 L95.66,1082.78 L95.18,1082.78 L94.8,1082.77 L94.52,1082.75 L94.36,1082.72 L94.3,1082.7" stroke="#fff" stroke-width="5.0" fill="none" stroke-linecap="round"/>
<path d="M117.3,1089.12 L117.24,1089.55 L117.08,1089.98 L116.8,1090.39 L116.42,1090.81 L115.94,1091.21 L115.36,1091.61 L114.69,1091.99 L113.93,1092.36 L113.1,1092.71 L112.19,1093.05 L111.22,1093.36 L110.2,1093.66 L109.14,1093.94 L108.04,1094.19 L106.93,1094.43 L105.8,1094.64 L104.67,1094.83 L103.56,1094.99 L102.46,1095.14 L101.4,1095.27 L100.38,1095.37 L99.41,1095.45 L98.5,1095.52 L97.67,1095.57 L96.91,1095.6 L96.24,1095.62 L95.66,1095.63 L95.18,1095.63 L94.8,1095.62 L94.52,1095.6 L94.36,1095.57 L94.3,1095.55" stroke="#15158a" stroke-width="8.2" fill="none" stroke-linecap="round"/>
<path d="M117.3,1089.12 L117.24,1089.55 L117.08,1089.98 L116.8,1090.39 L116.42,1090.81 L115.94,1091.21 L115.36,1091.61 L114.69,1091.99 L113.93,1092.36 L113.1,1092.71 L112.19,1093.05 L111.22,1093.36 L110.2,1093.66 L109.14,1093.94 L108.04,1094.19 L106.93,1094.43 L105.8,1094.64 L104.67,1094.83 L103.56,1094.99 L102.46,1095.14 L101.4,1095.27 L100.38,1095.37 L99.41,1095.45 L98.5,1095.52 L97.67,1095.57 L96.91,1095.6 L96.24,1095.62 L95.66,1095.63 L95.18,1095.63 L94.8,1095.62 L94.52,1095.6 L94.36,1095.57 L94.3,1095.55" stroke="#fff" stroke-width="5.0" fill="none" stroke-linecap="round"/>
<path d="M117.3,1101.97 L117.24,1102.4 L117.08,1102.83 L116.8,1103.24 L116.42,1103.66 L115.94,1104.06 L115.36,1104.46 L114.69,1104.84 L113.93,1105.21 L113.1,1105.56 L112.19,1105.9 L111.22,1106.21 L110.2,1106.51 L109.14,1106.79 L108.04,1107.04 L106.93,1107.28 L105.8,1107.49 L104.67,1107.68 L103.56,1107.84 L102.46,1107.99 L101.4,1108.12 L100.38,1108.22 L99.41,1108.3 L98.5,1108.37 L97.67,1108.42 L96.91,1108.45 L96.24,1108.47 L95.66,1108.48 L95.18,1108.48 L94.8,1108.47 L94.52,1108.45 L94.36,1108.42 L94.3,1108.4" stroke="#15158a" stroke-width="8.2" fill="none" stroke-linecap="round"/>
<path d="M117.3,1101.97 L117.24,1102.4 L117.08,1102.83 L116.8,1103.24 L116.42,1103.66 L115.94,1104.06 L115.36,1104.46 L114.69,1104.84 L113.93,1105.21 L113.1,1105.56 L112.19,1105.9 L111.22,1106.21 L110.2,1106.51 L109.14,1106.79 L108.04,1107.04 L106.93,1107.28 L105.8,1107.49 L104.67,1107.68 L103.56,1107.84 L102.46,1107.99 L101.4,1108.12 L100.38,1108.22 L99.41,1108.3 L98.5,1108.37 L97.67,1108.42 L96.91,1108.45 L96.24,1108.47 L95.66,1108.48 L95.18,1108.48 L94.8,1108.47 L94.52,1108.45 L94.36,1108.42 L94.3,1108.4" stroke="#fff" stroke-width="5.0" fill="none" stroke-linecap="round"/>
<path d="M117.3,1114.83 L117.24,1115.25 L117.08,1115.68 L116.8,1116.09 L116.42,1116.51 L115.94,1116.91 L115.36,1117.31 L114.69,1117.69 L113.93,1118.06 L113.1,1118.41 L112.19,1118.75 L111.22,1119.06 L110.2,1119.36 L109.14,1119.64 L108.04,1119.89 L106.93,1120.13 L105.8,1120.34 L104.67,1120.53 L103.56,1120.69 L102.46,1120.84 L101.4,1120.97 L100.38,1121.07 L99.41,1121.15 L98.5,1121.22 L97.67,1121.27 L96.91,1121.3 L96.24,1121.32 L95.66,1121.33 L95.18,1121.33 L94.8,1121.32 L94.52,1121.3 L94.36,1121.27 L94.3,1121.25" stroke="#15158a" stroke-width="8.2" fill="none" stroke-linecap="round"/>
<path d="M117.3,1114.83 L117.24,1115.25 L117.08,1115.68 L116.8,1116.09 L116.42,1116.51 L115.94,1116.91 L115.36,1117.31 L114.69,1117.69 L113.93,1118.06 L113.1,1118.41 L112.19,1118.75 L111.22,1119.06 L110.2,1119.36 L109.14,1119.64 L108.04,1119.89 L106.93,1120.13 L105.8,1120.34 L104.67,1120.53 L103.56,1120.69 L102.46,1120.84 L101.4,1120.97 L100.38,1121.07 L99.41,1121.15 L98.5,1121.22 L97.67,1121.27 L96.91,1121.3 L96.24,1121.32 L95.66,1121.33 L95.18,1121.33 L94.8,1121.32 L94.52,1121.3 L94.36,1121.27 L94.3,1121.25" stroke="#fff" stroke-width="5.0" fill="none" stroke-linecap="round"/>
<path d="M117.3,1127.67 L117.24,1128.1 L117.08,1128.53 L116.8,1128.94 L116.42,1129.36 L115.94,1129.76 L115.36,1130.16 L114.69,1130.54 L113.93,1130.91 L113.1,1131.26 L112.19,1131.6 L111.22,1131.91 L110.2,1132.21 L109.14,1132.49 L108.04,1132.74 L106.93,1132.98 L105.8,1133.19 L104.67,1133.38 L103.56,1133.54 L102.46,1133.69 L101.4,1133.82 L100.38,1133.92 L99.41,1134 L98.5,1134.07 L97.67,1134.12 L96.91,1134.15 L96.24,1134.17 L95.66,1134.18 L95.18,1134.18 L94.8,1134.17 L94.52,1134.15 L94.36,1134.12 L94.3,1134.1" stroke="#15158a" stroke-width="8.2" fill="none" stroke-linecap="round"/>
<path d="M117.3,1127.67 L117.24,1128.1 L117.08,1128.53 L116.8,1128.94 L116.42,1129.36 L115.94,1129.76 L115.36,1130.16 L114.69,1130.54 L113.93,1130.91 L113.1,1131.26 L112.19,1131.6 L111.22,1131.91 L110.2,1132.21 L109.14,1132.49 L108.04,1132.74 L106.93,1132.98 L105.8,1133.19 L104.67,1133.38 L103.56,1133.54 L102.46,1133.69 L101.4,1133.82 L100.38,1133.92 L99.41,1134 L98.5,1134.07 L97.67,1134.12 L96.91,1134.15 L96.24,1134.17 L95.66,1134.18 L95.18,1134.18 L94.8,1134.17 L94.52,1134.15 L94.36,1134.12 L94.3,1134.1" stroke="#fff" stroke-width="5.0" fill="none" stroke-linecap="round"/>
<path d="M117.3,1140.53 L117.24,1140.95 L117.08,1141.38 L116.8,1141.79 L116.42,1142.21 L115.94,1142.61 L115.36,1143.01 L114.69,1143.39 L113.93,1143.76 L113.1,1144.11 L112.19,1144.45 L111.22,1144.76 L110.2,1145.06 L109.14,1145.34 L108.04,1145.59 L106.93,1145.83 L105.8,1146.04 L104.67,1146.23 L103.56,1146.39 L102.46,1146.54 L101.4,1146.67 L100.38,1146.77 L99.41,1146.85 L98.5,1146.92 L97.67,1146.97 L96.91,1147 L96.24,1147.02 L95.66,1147.03 L95.18,1147.03 L94.8,1147.02 L94.52,1147 L94.36,1146.97 L94.3,1146.95" stroke="#15158a" stroke-width="8.2" fill="none" stroke-linecap="round"/>
<path d="M117.3,1140.53 L117.24,1140.95 L117.08,1141.38 L116.8,1141.79 L116.42,1142.21 L115.94,1142.61 L115.36,1143.01 L114.69,1143.39 L113.93,1143.76 L113.1,1144.11 L112.19,1144.45 L111.22,1144.76 L110.2,1145.06 L109.14,1145.34 L108.04,1145.59 L106.93,1145.83 L105.8,1146.04 L104.67,1146.23 L103.56,1146.39 L102.46,1146.54 L101.4,1146.67 L100.38,1146.77 L99.41,1146.85 L98.5,1146.92 L97.67,1146.97 L96.91,1147 L96.24,1147.02 L95.66,1147.03 L95.18,1147.03 L94.8,1147.02 L94.52,1147 L94.36,1146.97 L94.3,1146.95" stroke="#fff" stroke-width="5.0" fill="none" stroke-linecap="round"/>
<path d="M117.3,1153.38 L117.24,1153.8 L117.08,1154.23 L116.8,1154.64 L116.42,1155.06 L115.94,1155.46 L115.36,1155.86 L114.69,1156.24 L113.93,1156.61 L113.1,1156.96 L112.19,1157.3 L111.22,1157.61 L110.2,1157.91 L109.14,1158.19 L108.04,1158.44 L106.93,1158.68 L105.8,1158.89 L104.67,1159.08 L103.56,1159.24 L102.46,1159.39 L101.4,1159.52 L100.38,1159.62 L99.41,1159.7 L98.5,1159.77 L97.67,1159.82 L96.91,1159.85 L96.24,1159.87 L95.66,1159.88 L95.18,1159.88 L94.8,1159.87 L94.52,1159.85 L94.36,1159.82 L94.3,1159.8" stroke="#15158a" stroke-width="8.2" fill="none" stroke-linecap="round"/>
<path d="M117.3,1153.38 L117.24,1153.8 L117.08,1154.23 L116.8,1154.64 L116.42,1155.06 L115.94,1155.46 L115.36,1155.86 L114.69,1156.24 L113.93,1156.61 L113.1,1156.96 L112.19,1157.3 L111.22,1157.61 L110.2,1157.91 L109.14,1158.19 L108.04,1158.44 L106.93,1158.68 L105.8,1158.89 L104.67,1159.08 L103.56,1159.24 L102.46,1159.39 L101.4,1159.52 L100.38,1159.62 L99.41,1159.7 L98.5,1159.77 L97.67,1159.82 L96.91,1159.85 L96.24,1159.87 L95.66,1159.88 L95.18,1159.88 L94.8,1159.87 L94.52,1159.85 L94.36,1159.82 L94.3,1159.8" stroke="#fff" stroke-width="5.0" fill="none" stroke-linecap="round"/>
</g>
<path d="M86.4,918.3 C87,925 93,931 101,934.5 L106,933 L108,926 L104,927.3 C98,925.5 95,922 94.5,918.3 Z" fill="#fff" stroke="none"/>
<path d="M86.4,918.3 C87,925 93,931 100.6,934.3" stroke="#121250" stroke-width="1.3" fill="none" />
<path d="M94.5,918.3 C95,922 97.5,925.5 104.2,927.3" stroke="#121250" stroke-width="1.3" fill="none" />
<line x1="99.5" y1="926.5" x2="100.5" y2="934" stroke="#444" stroke-width="0.8" />
<line x1="101.5" y1="926.8" x2="102.5" y2="934" stroke="#444" stroke-width="0.8" />
<path d="M104,1158 L112.4,1158.2 Q120.4,1162.2 124.9,1171.7 L124.9,1238 L117.5,1238 L117.5,1172 Q115,1166 105,1165 Z" fill="#fff" stroke="none"/>
<path d="M112.4,1158.2 Q120.4,1161.5 123.6,1166 Q125,1168.5 125,1172 L125,1237.6" stroke="#121250" stroke-width="1.3" fill="none" />
<path d="M105.2,1165 L112.4,1165.4 Q117.5,1167.5 117.5,1173 L117.5,1237.6" stroke="#121250" stroke-width="1.3" fill="none" />
<line x1="118" y1="1173.9" x2="124.4" y2="1173.9" stroke="#888" stroke-width="0.9" />
<rect x="112.5" y="1237.6" width="16.4" height="38.8" rx="0" stroke="#121250" stroke-width="1.3" fill="none"/>
<line x1="120.7" y1="1237.6" x2="120.7" y2="1276.4" stroke="#121250" stroke-width="1.1" />
<rect x="113.8" y="1240" width="5.8" height="2.4" rx="0.8" stroke="#121250" stroke-width="0.9" fill="#6a6ac8"/>
<rect x="121.8" y="1240" width="5.8" height="2.4" rx="0.8" stroke="#121250" stroke-width="0.9" fill="#6a6ac8"/>
<rect x="113.8" y="1244.4" width="5.8" height="2.4" rx="0.8" stroke="#121250" stroke-width="0.9" fill="#6a6ac8"/>
<rect x="121.8" y="1244.4" width="5.8" height="2.4" rx="0.8" stroke="#121250" stroke-width="0.9" fill="#6a6ac8"/>
<rect x="113.8" y="1248.8" width="5.8" height="2.4" rx="0.8" stroke="#121250" stroke-width="0.9" fill="#6a6ac8"/>
<rect x="121.8" y="1248.8" width="5.8" height="2.4" rx="0.8" stroke="#121250" stroke-width="0.9" fill="#6a6ac8"/>
<rect x="113.8" y="1253.2" width="5.8" height="2.4" rx="0.8" stroke="#121250" stroke-width="0.9" fill="#6a6ac8"/>
<rect x="121.8" y="1253.2" width="5.8" height="2.4" rx="0.8" stroke="#121250" stroke-width="0.9" fill="#6a6ac8"/>
<rect x="113.8" y="1257.6" width="5.8" height="2.4" rx="0.8" stroke="#121250" stroke-width="0.9" fill="#6a6ac8"/>
<rect x="121.8" y="1257.6" width="5.8" height="2.4" rx="0.8" stroke="#121250" stroke-width="0.9" fill="#6a6ac8"/>
<rect x="113.8" y="1262" width="5.8" height="2.4" rx="0.8" stroke="#121250" stroke-width="0.9" fill="#6a6ac8"/>
<rect x="121.8" y="1262" width="5.8" height="2.4" rx="0.8" stroke="#121250" stroke-width="0.9" fill="#6a6ac8"/>
<rect x="113.8" y="1266.4" width="5.8" height="2.4" rx="0.8" stroke="#121250" stroke-width="0.9" fill="#6a6ac8"/>
<rect x="121.8" y="1266.4" width="5.8" height="2.4" rx="0.8" stroke="#121250" stroke-width="0.9" fill="#6a6ac8"/>
<rect x="113.8" y="1270.8" width="5.8" height="2.4" rx="0.8" stroke="#121250" stroke-width="0.9" fill="#6a6ac8"/>
<rect x="121.8" y="1270.8" width="5.8" height="2.4" rx="0.8" stroke="#121250" stroke-width="0.9" fill="#6a6ac8"/>
<path d="M113.3,1274.8 L156.3,1274.8 L156.3,1321.5 L128.2,1321.5 L116.5,1309 L113.3,1274.8 Z" stroke="#121250" stroke-width="1.3" fill="none" />
<line x1="115.2" y1="1277" x2="118.8" y2="1307.5" stroke="#222" stroke-width="0.9" />
<line x1="143.6" y1="1276" x2="143.6" y2="1321.5" stroke="#121250" stroke-width="1.3" />
<path d="M128.7,1283.6 L142.5,1281.6 L142.5,1309.8 L128.7,1308 Z" stroke="#121250" stroke-width="1.2" fill="none" />
<rect x="120.7" y="1284.3" width="8" height="5.3" rx="0" stroke="#121250" stroke-width="1.2" fill="none"/>
<line x1="128.7" y1="1303.6" x2="142.5" y2="1305.6" stroke="#222" stroke-width="1" />
<line x1="143.6" y1="1287" x2="156" y2="1287" stroke="#888" stroke-width="0.9" />
<line x1="143.6" y1="1309.8" x2="156" y2="1309.8" stroke="#888" stroke-width="0.9" />
<rect x="143.6" y="1295" width="37.2" height="6.3" rx="2" stroke="#121250" stroke-width="1.3" fill="#fff"/>
<line x1="143.6" y1="1299.8" x2="156" y2="1299.8" stroke="#222" stroke-width="1" />
<line x1="43.4" y1="106.7" x2="237" y2="106.7" stroke="#555" stroke-width="1" />
<line x1="100" y1="206.2" x2="237" y2="206.2" stroke="#555" stroke-width="1" />
<line x1="100" y1="846.3" x2="237" y2="846.3" stroke="#555" stroke-width="1" />
<line x1="43.4" y1="945.2" x2="237" y2="945.2" stroke="#555" stroke-width="1" />
<line x1="233" y1="106.7" x2="233" y2="945.2" stroke="#777" stroke-width="1.1" />
<path d="M233,106.7 L232.1,109.7 L231.5,119.7 L230.3,124.5 L230,125.7 L233,124.1 L236,125.7 L235.7,124.5 L234.5,119.7 L233.9,109.7 Z" stroke="#111" stroke-width="0.5" fill="#111" />
<path d="M233,206.2 L232.1,203.2 L231.5,193.2 L230.3,188.4 L230,187.2 L233,188.8 L236,187.2 L235.7,188.4 L234.5,193.2 L233.9,203.2 Z" stroke="#111" stroke-width="0.5" fill="#111" />
<path d="M233,206.2 L232.1,209.2 L231.5,219.2 L230.3,224 L230,225.2 L233,223.6 L236,225.2 L235.7,224 L234.5,219.2 L233.9,209.2 Z" stroke="#111" stroke-width="0.5" fill="#111" />
<path d="M233,846.3 L232.1,843.3 L231.5,833.3 L230.3,828.5 L230,827.3 L233,828.9 L236,827.3 L235.7,828.5 L234.5,833.3 L233.9,843.3 Z" stroke="#111" stroke-width="0.5" fill="#111" />
<path d="M233,846.3 L232.1,849.3 L231.5,859.3 L230.3,864.1 L230,865.3 L233,863.7 L236,865.3 L235.7,864.1 L234.5,859.3 L233.9,849.3 Z" stroke="#111" stroke-width="0.5" fill="#111" />
<path d="M233,945.2 L232.1,942.2 L231.5,932.2 L230.3,927.4 L230,926.2 L233,927.8 L236,926.2 L235.7,927.4 L234.5,932.2 L233.9,942.2 Z" stroke="#111" stroke-width="0.5" fill="#111" />
<path d="M198.64,174.90 L194.70,173.72 L194.70,163.31 L219.30,179.29 M206.75,158.60 L206.70,159.28 L206.52,159.91 L206.23,160.47 L205.84,160.97 L205.34,161.38 L204.76,161.71 L204.10,161.94 L203.37,162.06 L202.59,162.09 L201.77,162.01 L200.94,161.84 L200.10,161.56 L199.27,161.19 L198.47,160.74 L197.71,160.20 L197.02,159.61 L196.39,158.95 L195.85,158.26 L195.41,157.54 L195.06,156.80 L194.83,156.06 L194.71,155.34 L194.71,154.65 L194.83,153.99 L195.06,153.39 L195.41,152.86 L195.85,152.41 L196.39,152.04 L197.02,151.76 L197.71,151.58 L198.47,151.50 L199.27,151.53 L200.10,151.66 L200.94,151.88 L201.77,152.21 L202.59,152.62 L203.37,153.11 L204.10,153.68 L204.76,154.31 L205.34,154.98 L205.84,155.69 L206.23,156.42 L206.52,157.16 L206.70,157.89 L206.75,158.60 M206.75,158.60 L206.82,157.84 L207.00,157.12 L207.30,156.47 L207.71,155.89 L208.22,155.41 L208.83,155.02 L209.52,154.74 L210.28,154.58 L211.09,154.52 L211.94,154.59 L212.81,154.77 L213.68,155.06 L214.54,155.45 L215.38,155.95 L216.16,156.53 L216.89,157.19 L217.54,157.91 L218.10,158.68 L218.57,159.49 L218.92,160.32 L219.16,161.15 L219.28,161.97 L219.28,162.76 L219.16,163.50 L218.92,164.19 L218.57,164.80 L218.10,165.33 L217.54,165.77 L216.89,166.10 L216.16,166.33 L215.38,166.44 L214.54,166.43 L213.68,166.31 L212.81,166.08 L211.94,165.73 L211.09,165.29 L210.28,164.75 L209.52,164.13 L208.83,163.43 L208.22,162.68 L207.71,161.89 L207.30,161.07 L207.00,160.24 L206.82,159.41 L206.75,158.60 M204.54,145.09 L214.38,148.05 M209.46,151.10 L209.46,142.04 M218.81,153.90 L218.81,144.85 M201.59,136.57 L194.70,125.90 L219.30,133.28" stroke="#111" stroke-width="1.8" fill="none" stroke-linecap="round" stroke-linejoin="round"/>
<path d="M195.00,554.86 L195.00,564.36 L205.58,568.44 L205.16,566.08 L204.74,565.13 L204.46,564.19 L204.35,563.27 L204.40,562.40 L204.61,561.59 L204.97,560.86 L205.48,560.23 L206.13,559.70 L206.90,559.29 L207.78,559.02 L208.75,558.88 L209.79,558.87 L210.87,559.00 L211.97,559.27 L211.97,559.27 L213.06,559.66 L214.12,560.16 L215.13,560.77 L216.09,561.47 L216.96,562.25 L217.72,563.09 L218.38,563.98 L218.90,564.90 L219.28,565.83 L219.52,566.75 L219.60,567.64 L219.53,568.49 L219.30,569.27 L218.93,569.97 L218.42,570.58 L217.77,571.09 L217.01,571.48 L216.15,571.75 L215.20,571.89 M201.15,552.72 L213.45,556.41 L213.45,556.41 L214.33,556.61 L215.18,556.70 L216.00,556.66 L216.77,556.51 L217.48,556.23 L218.10,555.85 L218.62,555.36 L219.04,554.78 L219.35,554.11 L219.54,553.38 L219.60,552.59 L219.54,551.77 L219.35,550.93 L219.04,550.08 L218.62,549.24 L218.10,548.44 L217.48,547.68 L216.77,546.99 L216.00,546.37 L215.18,545.84 L214.33,545.41 L213.45,545.09 L201.15,541.40 L201.15,541.40 L200.27,541.20 L199.42,541.11 L198.60,541.15 L197.83,541.30 L197.12,541.58 L196.50,541.96 L195.98,542.45 L195.56,543.03 L195.25,543.70 L195.06,544.43 L195.00,545.21 L195.06,546.04 L195.25,546.88 L195.56,547.73 L195.98,548.57 L196.50,549.37 L197.12,550.13 L197.83,550.82 L198.60,551.44 L199.42,551.97 L200.27,552.40 L201.15,552.72 M201.15,537.87 L213.45,541.56 L213.45,541.56 L214.33,541.77 L215.18,541.85 L216.00,541.82 L216.77,541.66 L217.48,541.39 L218.10,541.00 L218.62,540.51 L219.04,539.93 L219.35,539.27 L219.54,538.53 L219.60,537.75 L219.54,536.92 L219.35,536.08 L219.04,535.23 L218.62,534.40 L218.10,533.59 L217.48,532.83 L216.77,532.14 L216.00,531.52 L215.18,530.99 L214.33,530.56 L213.45,530.24 L201.15,526.55 L201.15,526.55 L200.27,526.35 L199.42,526.26 L198.60,526.30 L197.83,526.46 L197.12,526.73 L196.50,527.11 L195.98,527.60 L195.56,528.18 L195.25,528.85 L195.06,529.58 L195.00,530.37 L195.06,531.19 L195.25,532.04 L195.56,532.88 L195.98,533.72 L196.50,534.52 L197.12,535.28 L197.83,535.97 L198.60,536.59 L199.42,537.12 L200.27,537.55 L201.15,537.87 M204.84,519.60 L214.68,522.56 M209.76,525.61 L209.76,516.55 M219.11,528.41 L219.11,519.36 M201.89,510.21 L195.00,499.54 L219.60,506.92 M216.65,500.69 L223.29,504.50 M195.00,479.35 L195.00,488.86 L205.58,492.94 L205.16,490.57 L204.74,489.63 L204.46,488.68 L204.35,487.77 L204.40,486.89 L204.61,486.09 L204.97,485.36 L205.48,484.72 L206.13,484.20 L206.90,483.79 L207.78,483.51 L208.75,483.37 L209.79,483.37 L210.87,483.50 L211.97,483.77 L211.97,483.77 L213.06,484.15 L214.12,484.65 L215.13,485.26 L216.09,485.96 L216.96,486.74 L217.72,487.59 L218.38,488.48 L218.90,489.40 L219.28,490.33 L219.52,491.24 L219.60,492.14 L219.53,492.98 L219.30,493.76 L218.93,494.47 L218.42,495.08 L217.77,495.59 L217.01,495.98 L216.15,496.24 L215.20,496.38" stroke="#111" stroke-width="1.8" fill="none" stroke-linecap="round" stroke-linejoin="round"/>
<path d="M199.44,914.40 L195.50,913.22 L195.50,902.81 L220.10,918.79 M207.55,897.94 L207.50,898.61 L207.32,899.24 L207.03,899.81 L206.64,900.30 L206.14,900.72 L205.56,901.04 L204.90,901.27 L204.17,901.40 L203.39,901.42 L202.57,901.35 L201.74,901.17 L200.90,900.89 L200.07,900.52 L199.27,900.07 L198.51,899.54 L197.82,898.94 L197.19,898.29 L196.65,897.59 L196.21,896.87 L195.86,896.13 L195.63,895.40 L195.51,894.67 L195.51,893.98 L195.63,893.33 L195.86,892.73 L196.21,892.20 L196.65,891.74 L197.19,891.37 L197.82,891.09 L198.51,890.91 L199.27,890.84 L200.07,890.86 L200.90,890.99 L201.74,891.22 L202.57,891.54 L203.39,891.95 L204.17,892.45 L204.90,893.01 L205.56,893.64 L206.14,894.31 L206.64,895.03 L207.03,895.76 L207.32,896.50 L207.50,897.23 L207.55,897.94 M207.55,897.94 L207.62,897.17 L207.80,896.45 L208.10,895.80 L208.51,895.23 L209.02,894.74 L209.63,894.36 L210.32,894.08 L211.08,893.91 L211.89,893.86 L212.74,893.92 L213.61,894.10 L214.48,894.39 L215.34,894.79 L216.18,895.28 L216.96,895.86 L217.69,896.52 L218.34,897.24 L218.90,898.02 L219.37,898.83 L219.72,899.65 L219.96,900.48 L220.08,901.30 L220.08,902.09 L219.96,902.84 L219.72,903.52 L219.37,904.14 L218.90,904.67 L218.34,905.10 L217.69,905.44 L216.96,905.66 L216.18,905.77 L215.34,905.77 L214.48,905.64 L213.61,905.41 L212.74,905.07 L211.89,904.62 L211.08,904.08 L210.32,903.46 L209.63,902.77 L209.02,902.02 L208.51,901.22 L208.10,900.40 L207.80,899.57 L207.62,898.74 L207.55,897.94 M205.34,884.26 L215.18,887.21 M210.26,890.26 L210.26,881.21 M219.61,893.07 L219.61,884.01 M202.39,875.57 L195.50,864.90 L220.10,872.28" stroke="#111" stroke-width="1.8" fill="none" stroke-linecap="round" stroke-linejoin="round"/>
<line x1="679.9" y1="103.8" x2="679.9" y2="948" stroke="#121250" stroke-width="1.3" />
<line x1="718.1" y1="103.8" x2="718.1" y2="125.5" stroke="#121250" stroke-width="1.3" />
<line x1="718.1" y1="151.5" x2="718.1" y2="320.5" stroke="#121250" stroke-width="1.3" />
<line x1="718.1" y1="345.5" x2="718.1" y2="513.5" stroke="#121250" stroke-width="1.3" />
<line x1="718.1" y1="538.5" x2="718.1" y2="706.5" stroke="#121250" stroke-width="1.3" />
<line x1="718.1" y1="731.5" x2="718.1" y2="900.5" stroke="#121250" stroke-width="1.3" />
<line x1="718.1" y1="926.5" x2="718.1" y2="948" stroke="#121250" stroke-width="1.3" />
<line x1="679.9" y1="103.8" x2="718.1" y2="103.8" stroke="#121250" stroke-width="1.3" />
<line x1="679.9" y1="106.5" x2="718.1" y2="106.5" stroke="#121250" stroke-width="1" />
<line x1="679.9" y1="948" x2="718.1" y2="948" stroke="#121250" stroke-width="1.3" />
<line x1="679.9" y1="945.3" x2="718.1" y2="945.3" stroke="#121250" stroke-width="1" />
<line x1="1217" y1="103.8" x2="1217" y2="948" stroke="#121250" stroke-width="1.3" />
<line x1="1178.2" y1="103.8" x2="1178.2" y2="125.5" stroke="#121250" stroke-width="1.3" />
<line x1="1178.2" y1="151.5" x2="1178.2" y2="320.5" stroke="#121250" stroke-width="1.3" />
<line x1="1178.2" y1="345.5" x2="1178.2" y2="513.5" stroke="#121250" stroke-width="1.3" />
<line x1="1178.2" y1="538.5" x2="1178.2" y2="706.5" stroke="#121250" stroke-width="1.3" />
<line x1="1178.2" y1="731.5" x2="1178.2" y2="900.5" stroke="#121250" stroke-width="1.3" />
<line x1="1178.2" y1="926.5" x2="1178.2" y2="948" stroke="#121250" stroke-width="1.3" />
<line x1="1178.2" y1="103.8" x2="1217" y2="103.8" stroke="#121250" stroke-width="1.3" />
<line x1="1178.2" y1="106.5" x2="1217" y2="106.5" stroke="#121250" stroke-width="1" />
<line x1="1178.2" y1="948" x2="1217" y2="948" stroke="#121250" stroke-width="1.3" />
<line x1="1178.2" y1="945.3" x2="1217" y2="945.3" stroke="#121250" stroke-width="1" />
<line x1="699" y1="98" x2="699" y2="947" stroke="#c9ae7c" stroke-width="1.0" stroke-dasharray="108 4 8 5"/>
<line x1="1197.7" y1="98" x2="1197.7" y2="947" stroke="#c9ae7c" stroke-width="1.0" stroke-dasharray="108 4 8 5"/>
<line x1="718.1" y1="125.5" x2="1178.2" y2="125.5" stroke="#121250" stroke-width="1.3" />
<line x1="718.1" y1="151.5" x2="1178.2" y2="151.5" stroke="#121250" stroke-width="1.3" />
<path d="M718.1,125.5 C709.6,128.5 709.6,148.5 718.1,151.5" stroke="#121250" stroke-width="1.3" fill="none" />
<path d="M1178.2,125.5 C1186.7,128.5 1186.7,148.5 1178.2,151.5" stroke="#121250" stroke-width="1.3" fill="none" />
<line x1="712.1" y1="138.5" x2="1197.7" y2="138.5" stroke="#c9ae7c" stroke-width="1.0" stroke-dasharray="73 8 6 8"/>
<line x1="718.1" y1="320.5" x2="1178.2" y2="320.5" stroke="#121250" stroke-width="1.3" />
<line x1="718.1" y1="345.5" x2="1178.2" y2="345.5" stroke="#121250" stroke-width="1.3" />
<path d="M718.1,320.5 C709.6,323.5 709.6,342.5 718.1,345.5" stroke="#121250" stroke-width="1.3" fill="none" />
<path d="M1178.2,320.5 C1186.7,323.5 1186.7,342.5 1178.2,345.5" stroke="#121250" stroke-width="1.3" fill="none" />
<line x1="712.1" y1="333" x2="1197.7" y2="333" stroke="#c9ae7c" stroke-width="1.0" stroke-dasharray="73 8 6 8"/>
<line x1="718.1" y1="513.5" x2="1178.2" y2="513.5" stroke="#121250" stroke-width="1.3" />
<line x1="718.1" y1="538.5" x2="1178.2" y2="538.5" stroke="#121250" stroke-width="1.3" />
<path d="M718.1,513.5 C709.6,516.5 709.6,535.5 718.1,538.5" stroke="#121250" stroke-width="1.3" fill="none" />
<path d="M1178.2,513.5 C1186.7,516.5 1186.7,535.5 1178.2,538.5" stroke="#121250" stroke-width="1.3" fill="none" />
<line x1="712.1" y1="526" x2="1197.7" y2="526" stroke="#c9ae7c" stroke-width="1.0" stroke-dasharray="73 8 6 8"/>
<line x1="718.1" y1="706.5" x2="1178.2" y2="706.5" stroke="#121250" stroke-width="1.3" />
<line x1="718.1" y1="731.5" x2="1178.2" y2="731.5" stroke="#121250" stroke-width="1.3" />
<path d="M718.1,706.5 C709.6,709.5 709.6,728.5 718.1,731.5" stroke="#121250" stroke-width="1.3" fill="none" />
<path d="M1178.2,706.5 C1186.7,709.5 1186.7,728.5 1178.2,731.5" stroke="#121250" stroke-width="1.3" fill="none" />
<line x1="712.1" y1="719" x2="1197.7" y2="719" stroke="#c9ae7c" stroke-width="1.0" stroke-dasharray="73 8 6 8"/>
<line x1="718.1" y1="900.5" x2="1178.2" y2="900.5" stroke="#121250" stroke-width="1.3" />
<line x1="718.1" y1="926.5" x2="1178.2" y2="926.5" stroke="#121250" stroke-width="1.3" />
<path d="M718.1,900.5 C709.6,903.5 709.6,923.5 718.1,926.5" stroke="#121250" stroke-width="1.3" fill="none" />
<path d="M1178.2,900.5 C1186.7,903.5 1186.7,923.5 1178.2,926.5" stroke="#121250" stroke-width="1.3" fill="none" />
<line x1="712.1" y1="913.5" x2="1197.7" y2="913.5" stroke="#c9ae7c" stroke-width="1.0" stroke-dasharray="73 8 6 8"/>
<path d="M679.9,231.97 A32,32 0 0 1 679.9,180.63" stroke="#121250" stroke-width="1.3" fill="none" />
<path d="M718.1,180.63 A32,32 0 0 1 718.1,231.97" stroke="#121250" stroke-width="1.3" fill="none" />
<path d="M679.9,229.95 A30.4,30.4 0 0 1 679.9,182.65" stroke="#121250" stroke-width="0.8" fill="none" />
<path d="M718.1,182.65 A30.4,30.4 0 0 1 718.1,229.95" stroke="#121250" stroke-width="0.8" fill="none" />
<line x1="659" y1="206.3" x2="739" y2="206.3" stroke="#c9ae7c" stroke-width="1.0" stroke-dasharray="73 8 6 8"/>
<path d="M1178.2,231.67 A32,32 0 0 1 1178.2,180.93" stroke="#121250" stroke-width="1.3" fill="none" />
<path d="M1217.2,180.93 A32,32 0 0 1 1217.2,231.67" stroke="#121250" stroke-width="1.3" fill="none" />
<path d="M1178.2,229.62 A30.4,30.4 0 0 1 1178.2,182.98" stroke="#121250" stroke-width="0.8" fill="none" />
<path d="M1217.2,182.98 A30.4,30.4 0 0 1 1217.2,229.62" stroke="#121250" stroke-width="0.8" fill="none" />
<line x1="1157.7" y1="206.3" x2="1237.7" y2="206.3" stroke="#c9ae7c" stroke-width="1.0" stroke-dasharray="73 8 6 8"/>
<path d="M679.9,871.97 A32,32 0 0 1 679.9,820.63" stroke="#121250" stroke-width="1.3" fill="none" />
<path d="M718.1,820.63 A32,32 0 0 1 718.1,871.97" stroke="#121250" stroke-width="1.3" fill="none" />
<path d="M679.9,869.95 A30.4,30.4 0 0 1 679.9,822.65" stroke="#121250" stroke-width="0.8" fill="none" />
<path d="M718.1,822.65 A30.4,30.4 0 0 1 718.1,869.95" stroke="#121250" stroke-width="0.8" fill="none" />
<line x1="659" y1="846.3" x2="739" y2="846.3" stroke="#c9ae7c" stroke-width="1.0" stroke-dasharray="73 8 6 8"/>
<path d="M1178.2,871.67 A32,32 0 0 1 1178.2,820.93" stroke="#121250" stroke-width="1.3" fill="none" />
<path d="M1217.2,820.93 A32,32 0 0 1 1217.2,871.67" stroke="#121250" stroke-width="1.3" fill="none" />
<path d="M1178.2,869.62 A30.4,30.4 0 0 1 1178.2,822.98" stroke="#121250" stroke-width="0.8" fill="none" />
<path d="M1217.2,822.98 A30.4,30.4 0 0 1 1217.2,869.62" stroke="#121250" stroke-width="0.8" fill="none" />
<line x1="1157.7" y1="846.3" x2="1237.7" y2="846.3" stroke="#c9ae7c" stroke-width="1.0" stroke-dasharray="73 8 6 8"/>
<rect x="1182.4" y="749.6" width="31.1" height="92.4" rx="2.5" stroke="#121250" stroke-width="1.3" fill="#fff"/>
<rect x="1184.6" y="756" width="27.3" height="80.2" rx="0" stroke="#121250" stroke-width="2.4" fill="none"/>
<line x1="1182.4" y1="756" x2="1213.5" y2="756" stroke="#121250" stroke-width="1" />
<line x1="1182.4" y1="837" x2="1213.5" y2="837" stroke="#121250" stroke-width="1" />
<circle cx="1191.2" cy="784.4" r="1.4" stroke="#2020a0" stroke-width="1.1" fill="none"/>
<circle cx="1197.7" cy="784.4" r="1.4" stroke="#2020a0" stroke-width="1.1" fill="none"/>
<circle cx="1204.3" cy="784.4" r="1.4" stroke="#2020a0" stroke-width="1.1" fill="none"/>
<circle cx="1197.9" cy="795.8" r="4" stroke="#1c1c9a" stroke-width="2.8" fill="#e0a0a0"/>
<path d="M1200.5,793.5999999999999 L1207.6,793.5999999999999 M1200.5,798.0 L1207.6,798.0" stroke="#1c1c9a" stroke-width="2.0" fill="none" />
<circle cx="1197.9" cy="825.3" r="4" stroke="#1c1c9a" stroke-width="2.8" fill="#ffffff"/>
<path d="M1200.5,823.0999999999999 L1207.6,823.0999999999999 M1200.5,827.5 L1207.6,827.5" stroke="#1c1c9a" stroke-width="2.0" fill="none" />
<circle cx="1197.6" cy="808.5" r="1.2" stroke="#2020a0" stroke-width="1.1" fill="none"/>
<circle cx="1197.6" cy="815" r="1.2" stroke="#2020a0" stroke-width="1.1" fill="none"/>
<line x1="1197.7" y1="740" x2="1197.7" y2="760" stroke="#c9ae7c" stroke-width="1.0" stroke-dasharray="73 8 6 8"/>
<path d="M1217,894.3 L1229,894.3 Q1245.6,894.3 1245.6,910 L1245.6,925" stroke="#121250" stroke-width="1.3" fill="none" />
<path d="M1217,902 L1228,902 Q1238,902 1238,912 L1238,925" stroke="#121250" stroke-width="1.3" fill="none" />
<line x1="1229" y1="894.3" x2="1229" y2="902" stroke="#121250" stroke-width="1" />
<line x1="1238" y1="912.5" x2="1245.6" y2="912.5" stroke="#121250" stroke-width="1" />
<line x1="1238" y1="918.5" x2="1245.6" y2="918.5" stroke="#121250" stroke-width="1" />
<g>
<path d="M1263.8,936.92 L1263.74,936.9 L1263.58,936.88 L1263.3,936.86 L1262.92,936.85 L1262.44,936.84 L1261.86,936.85 L1261.19,936.87 L1260.43,936.9 L1259.6,936.95 L1258.69,937.02 L1257.72,937.11 L1256.7,937.21 L1255.64,937.33 L1254.54,937.48 L1253.43,937.65 L1252.3,937.84 L1251.17,938.05 L1250.06,938.28 L1248.96,938.54 L1247.9,938.82 L1246.88,939.11 L1245.91,939.43 L1245,939.77 L1244.17,940.12 L1243.41,940.49 L1242.74,940.87 L1242.16,941.26 L1241.68,941.67 L1241.3,942.08 L1241.02,942.5 L1240.86,942.92 L1240.8,943.35" stroke="#15158a" stroke-width="8.2" fill="none" stroke-linecap="butt"/>
<path d="M1263.8,949.77 L1263.74,949.75 L1263.58,949.73 L1263.3,949.71 L1262.92,949.7 L1262.44,949.69 L1261.86,949.7 L1261.19,949.72 L1260.43,949.75 L1259.6,949.8 L1258.69,949.87 L1257.72,949.96 L1256.7,950.06 L1255.64,950.18 L1254.54,950.33 L1253.43,950.5 L1252.3,950.69 L1251.17,950.9 L1250.06,951.13 L1248.96,951.39 L1247.9,951.67 L1246.88,951.96 L1245.91,952.28 L1245,952.62 L1244.17,952.97 L1243.41,953.34 L1242.74,953.72 L1242.16,954.11 L1241.68,954.52 L1241.3,954.93 L1241.02,955.35 L1240.86,955.77 L1240.8,956.2" stroke="#15158a" stroke-width="8.2" fill="none" stroke-linecap="butt"/>
<path d="M1263.8,962.62 L1263.74,962.6 L1263.58,962.58 L1263.3,962.56 L1262.92,962.55 L1262.44,962.54 L1261.86,962.55 L1261.19,962.57 L1260.43,962.6 L1259.6,962.65 L1258.69,962.72 L1257.72,962.81 L1256.7,962.91 L1255.64,963.03 L1254.54,963.18 L1253.43,963.35 L1252.3,963.54 L1251.17,963.75 L1250.06,963.98 L1248.96,964.24 L1247.9,964.52 L1246.88,964.81 L1245.91,965.13 L1245,965.47 L1244.17,965.82 L1243.41,966.19 L1242.74,966.57 L1242.16,966.96 L1241.68,967.37 L1241.3,967.78 L1241.02,968.2 L1240.86,968.62 L1240.8,969.05" stroke="#15158a" stroke-width="8.2" fill="none" stroke-linecap="butt"/>
<path d="M1263.8,975.48 L1263.74,975.45 L1263.58,975.43 L1263.3,975.41 L1262.92,975.4 L1262.44,975.39 L1261.86,975.4 L1261.19,975.42 L1260.43,975.45 L1259.6,975.5 L1258.69,975.57 L1257.72,975.66 L1256.7,975.76 L1255.64,975.88 L1254.54,976.03 L1253.43,976.2 L1252.3,976.39 L1251.17,976.6 L1250.06,976.83 L1248.96,977.09 L1247.9,977.37 L1246.88,977.66 L1245.91,977.98 L1245,978.32 L1244.17,978.67 L1243.41,979.04 L1242.74,979.42 L1242.16,979.81 L1241.68,980.22 L1241.3,980.63 L1241.02,981.05 L1240.86,981.47 L1240.8,981.9" stroke="#15158a" stroke-width="8.2" fill="none" stroke-linecap="butt"/>
<path d="M1263.8,988.33 L1263.74,988.3 L1263.58,988.28 L1263.3,988.26 L1262.92,988.25 L1262.44,988.24 L1261.86,988.25 L1261.19,988.27 L1260.43,988.3 L1259.6,988.35 L1258.69,988.42 L1257.72,988.51 L1256.7,988.61 L1255.64,988.73 L1254.54,988.88 L1253.43,989.05 L1252.3,989.24 L1251.17,989.45 L1250.06,989.68 L1248.96,989.94 L1247.9,990.22 L1246.88,990.51 L1245.91,990.83 L1245,991.17 L1244.17,991.52 L1243.41,991.89 L1242.74,992.27 L1242.16,992.66 L1241.68,993.07 L1241.3,993.48 L1241.02,993.9 L1240.86,994.32 L1240.8,994.75" stroke="#15158a" stroke-width="8.2" fill="none" stroke-linecap="butt"/>
<path d="M1263.8,1001.17 L1263.74,1001.15 L1263.58,1001.13 L1263.3,1001.11 L1262.92,1001.1 L1262.44,1001.09 L1261.86,1001.1 L1261.19,1001.12 L1260.43,1001.15 L1259.6,1001.2 L1258.69,1001.27 L1257.72,1001.36 L1256.7,1001.46 L1255.64,1001.58 L1254.54,1001.73 L1253.43,1001.9 L1252.3,1002.09 L1251.17,1002.3 L1250.06,1002.53 L1248.96,1002.79 L1247.9,1003.07 L1246.88,1003.36 L1245.91,1003.68 L1245,1004.02 L1244.17,1004.37 L1243.41,1004.74 L1242.74,1005.12 L1242.16,1005.51 L1241.68,1005.92 L1241.3,1006.33 L1241.02,1006.75 L1240.86,1007.17 L1240.8,1007.6" stroke="#15158a" stroke-width="8.2" fill="none" stroke-linecap="butt"/>
<path d="M1263.8,1014.02 L1263.74,1014 L1263.58,1013.98 L1263.3,1013.96 L1262.92,1013.95 L1262.44,1013.94 L1261.86,1013.95 L1261.19,1013.97 L1260.43,1014 L1259.6,1014.05 L1258.69,1014.12 L1257.72,1014.21 L1256.7,1014.31 L1255.64,1014.43 L1254.54,1014.58 L1253.43,1014.75 L1252.3,1014.94 L1251.17,1015.15 L1250.06,1015.38 L1248.96,1015.64 L1247.9,1015.92 L1246.88,1016.21 L1245.91,1016.53 L1245,1016.87 L1244.17,1017.22 L1243.41,1017.59 L1242.74,1017.97 L1242.16,1018.36 L1241.68,1018.77 L1241.3,1019.18 L1241.02,1019.6 L1240.86,1020.02 L1240.8,1020.45" stroke="#15158a" stroke-width="8.2" fill="none" stroke-linecap="butt"/>
<path d="M1263.8,1026.88 L1263.74,1026.85 L1263.58,1026.83 L1263.3,1026.81 L1262.92,1026.8 L1262.44,1026.79 L1261.86,1026.8 L1261.19,1026.82 L1260.43,1026.85 L1259.6,1026.9 L1258.69,1026.97 L1257.72,1027.06 L1256.7,1027.16 L1255.64,1027.28 L1254.54,1027.43 L1253.43,1027.6 L1252.3,1027.79 L1251.17,1028 L1250.06,1028.23 L1248.96,1028.49 L1247.9,1028.77 L1246.88,1029.06 L1245.91,1029.38 L1245,1029.72 L1244.17,1030.07 L1243.41,1030.44 L1242.74,1030.82 L1242.16,1031.21 L1241.68,1031.62 L1241.3,1032.03 L1241.02,1032.45 L1240.86,1032.87 L1240.8,1033.3" stroke="#15158a" stroke-width="8.2" fill="none" stroke-linecap="butt"/>
<path d="M1263.8,1039.72 L1263.74,1039.7 L1263.58,1039.68 L1263.3,1039.66 L1262.92,1039.65 L1262.44,1039.64 L1261.86,1039.65 L1261.19,1039.67 L1260.43,1039.7 L1259.6,1039.75 L1258.69,1039.82 L1257.72,1039.91 L1256.7,1040.01 L1255.64,1040.13 L1254.54,1040.28 L1253.43,1040.45 L1252.3,1040.64 L1251.17,1040.85 L1250.06,1041.08 L1248.96,1041.34 L1247.9,1041.62 L1246.88,1041.91 L1245.91,1042.23 L1245,1042.57 L1244.17,1042.92 L1243.41,1043.29 L1242.74,1043.67 L1242.16,1044.06 L1241.68,1044.47 L1241.3,1044.88 L1241.02,1045.3 L1240.86,1045.72 L1240.8,1046.15" stroke="#15158a" stroke-width="8.2" fill="none" stroke-linecap="butt"/>
<path d="M1263.8,1052.58 L1263.74,1052.55 L1263.58,1052.53 L1263.3,1052.51 L1262.92,1052.5 L1262.44,1052.49 L1261.86,1052.5 L1261.19,1052.52 L1260.43,1052.55 L1259.6,1052.6 L1258.69,1052.67 L1257.72,1052.76 L1256.7,1052.86 L1255.64,1052.98 L1254.54,1053.13 L1253.43,1053.3 L1252.3,1053.49 L1251.17,1053.7 L1250.06,1053.93 L1248.96,1054.19 L1247.9,1054.47 L1246.88,1054.76 L1245.91,1055.08 L1245,1055.42 L1244.17,1055.77 L1243.41,1056.14 L1242.74,1056.52 L1242.16,1056.91 L1241.68,1057.32 L1241.3,1057.73 L1241.02,1058.15 L1240.86,1058.57 L1240.8,1059" stroke="#15158a" stroke-width="8.2" fill="none" stroke-linecap="butt"/>
<path d="M1263.8,1065.42 L1263.74,1065.4 L1263.58,1065.38 L1263.3,1065.36 L1262.92,1065.35 L1262.44,1065.34 L1261.86,1065.35 L1261.19,1065.37 L1260.43,1065.4 L1259.6,1065.45 L1258.69,1065.52 L1257.72,1065.61 L1256.7,1065.71 L1255.64,1065.83 L1254.54,1065.98 L1253.43,1066.15 L1252.3,1066.34 L1251.17,1066.55 L1250.06,1066.78 L1248.96,1067.04 L1247.9,1067.32 L1246.88,1067.61 L1245.91,1067.93 L1245,1068.27 L1244.17,1068.62 L1243.41,1068.99 L1242.74,1069.37 L1242.16,1069.76 L1241.68,1070.17 L1241.3,1070.58 L1241.02,1071 L1240.86,1071.42 L1240.8,1071.85" stroke="#15158a" stroke-width="8.2" fill="none" stroke-linecap="butt"/>
<path d="M1263.8,1078.28 L1263.74,1078.25 L1263.58,1078.23 L1263.3,1078.21 L1262.92,1078.2 L1262.44,1078.19 L1261.86,1078.2 L1261.19,1078.22 L1260.43,1078.25 L1259.6,1078.3 L1258.69,1078.37 L1257.72,1078.46 L1256.7,1078.56 L1255.64,1078.68 L1254.54,1078.83 L1253.43,1079 L1252.3,1079.19 L1251.17,1079.4 L1250.06,1079.63 L1248.96,1079.89 L1247.9,1080.17 L1246.88,1080.46 L1245.91,1080.78 L1245,1081.12 L1244.17,1081.47 L1243.41,1081.84 L1242.74,1082.22 L1242.16,1082.61 L1241.68,1083.02 L1241.3,1083.43 L1241.02,1083.85 L1240.86,1084.27 L1240.8,1084.7" stroke="#15158a" stroke-width="8.2" fill="none" stroke-linecap="butt"/>
<path d="M1263.8,1091.12 L1263.74,1091.1 L1263.58,1091.08 L1263.3,1091.06 L1262.92,1091.05 L1262.44,1091.04 L1261.86,1091.05 L1261.19,1091.07 L1260.43,1091.1 L1259.6,1091.15 L1258.69,1091.22 L1257.72,1091.31 L1256.7,1091.41 L1255.64,1091.53 L1254.54,1091.68 L1253.43,1091.85 L1252.3,1092.04 L1251.17,1092.25 L1250.06,1092.48 L1248.96,1092.74 L1247.9,1093.02 L1246.88,1093.31 L1245.91,1093.63 L1245,1093.97 L1244.17,1094.32 L1243.41,1094.69 L1242.74,1095.07 L1242.16,1095.46 L1241.68,1095.87 L1241.3,1096.28 L1241.02,1096.7 L1240.86,1097.12 L1240.8,1097.55" stroke="#15158a" stroke-width="8.2" fill="none" stroke-linecap="butt"/>
<path d="M1263.8,1103.97 L1263.74,1103.95 L1263.58,1103.93 L1263.3,1103.91 L1262.92,1103.9 L1262.44,1103.89 L1261.86,1103.9 L1261.19,1103.92 L1260.43,1103.95 L1259.6,1104 L1258.69,1104.07 L1257.72,1104.16 L1256.7,1104.26 L1255.64,1104.38 L1254.54,1104.53 L1253.43,1104.7 L1252.3,1104.89 L1251.17,1105.1 L1250.06,1105.33 L1248.96,1105.59 L1247.9,1105.87 L1246.88,1106.16 L1245.91,1106.48 L1245,1106.82 L1244.17,1107.17 L1243.41,1107.54 L1242.74,1107.92 L1242.16,1108.31 L1241.68,1108.72 L1241.3,1109.13 L1241.02,1109.55 L1240.86,1109.97 L1240.8,1110.4" stroke="#15158a" stroke-width="8.2" fill="none" stroke-linecap="butt"/>
<path d="M1263.8,1116.83 L1263.74,1116.8 L1263.58,1116.78 L1263.3,1116.76 L1262.92,1116.75 L1262.44,1116.74 L1261.86,1116.75 L1261.19,1116.77 L1260.43,1116.8 L1259.6,1116.85 L1258.69,1116.92 L1257.72,1117.01 L1256.7,1117.11 L1255.64,1117.23 L1254.54,1117.38 L1253.43,1117.55 L1252.3,1117.74 L1251.17,1117.95 L1250.06,1118.18 L1248.96,1118.44 L1247.9,1118.72 L1246.88,1119.01 L1245.91,1119.33 L1245,1119.67 L1244.17,1120.02 L1243.41,1120.39 L1242.74,1120.77 L1242.16,1121.16 L1241.68,1121.57 L1241.3,1121.98 L1241.02,1122.4 L1240.86,1122.82 L1240.8,1123.25" stroke="#15158a" stroke-width="8.2" fill="none" stroke-linecap="butt"/>
<path d="M1263.8,1129.67 L1263.74,1129.65 L1263.58,1129.63 L1263.3,1129.61 L1262.92,1129.6 L1262.44,1129.59 L1261.86,1129.6 L1261.19,1129.62 L1260.43,1129.65 L1259.6,1129.7 L1258.69,1129.77 L1257.72,1129.86 L1256.7,1129.96 L1255.64,1130.08 L1254.54,1130.23 L1253.43,1130.4 L1252.3,1130.59 L1251.17,1130.8 L1250.06,1131.03 L1248.96,1131.29 L1247.9,1131.57 L1246.88,1131.86 L1245.91,1132.18 L1245,1132.52 L1244.17,1132.87 L1243.41,1133.24 L1242.74,1133.62 L1242.16,1134.01 L1241.68,1134.42 L1241.3,1134.83 L1241.02,1135.25 L1240.86,1135.67 L1240.8,1136.1" stroke="#15158a" stroke-width="8.2" fill="none" stroke-linecap="butt"/>
<path d="M1263.8,1142.53 L1263.74,1142.5 L1263.58,1142.48 L1263.3,1142.46 L1262.92,1142.45 L1262.44,1142.44 L1261.86,1142.45 L1261.19,1142.47 L1260.43,1142.5 L1259.6,1142.55 L1258.69,1142.62 L1257.72,1142.71 L1256.7,1142.81 L1255.64,1142.93 L1254.54,1143.08 L1253.43,1143.25 L1252.3,1143.44 L1251.17,1143.65 L1250.06,1143.88 L1248.96,1144.14 L1247.9,1144.42 L1246.88,1144.71 L1245.91,1145.03 L1245,1145.37 L1244.17,1145.72 L1243.41,1146.09 L1242.74,1146.47 L1242.16,1146.86 L1241.68,1147.27 L1241.3,1147.68 L1241.02,1148.1 L1240.86,1148.52 L1240.8,1148.95" stroke="#15158a" stroke-width="8.2" fill="none" stroke-linecap="butt"/>
<path d="M1263.8,1155.38 L1263.74,1155.35 L1263.58,1155.33 L1263.3,1155.31 L1262.92,1155.3 L1262.44,1155.29 L1261.86,1155.3 L1261.19,1155.32 L1260.43,1155.35 L1259.6,1155.4 L1258.69,1155.47 L1257.72,1155.56 L1256.7,1155.66 L1255.64,1155.78 L1254.54,1155.93 L1253.43,1156.1 L1252.3,1156.29 L1251.17,1156.5 L1250.06,1156.73 L1248.96,1156.99 L1247.9,1157.27 L1246.88,1157.56 L1245.91,1157.88 L1245,1158.22 L1244.17,1158.57 L1243.41,1158.94 L1242.74,1159.32 L1242.16,1159.71 L1241.68,1160.12 L1241.3,1160.53 L1241.02,1160.95 L1240.86,1161.37 L1240.8,1161.8" stroke="#15158a" stroke-width="8.2" fill="none" stroke-linecap="butt"/>
<path d="M1263.8,936.92 L1263.74,936.9 L1263.58,936.88 L1263.3,936.86 L1262.92,936.85 L1262.44,936.84 L1261.86,936.85 L1261.19,936.87 L1260.43,936.9 L1259.6,936.95 L1258.69,937.02 L1257.72,937.11 L1256.7,937.21 L1255.64,937.33 L1254.54,937.48 L1253.43,937.65 L1252.3,937.84 L1251.17,938.05 L1250.06,938.28 L1248.96,938.54 L1247.9,938.82 L1246.88,939.11 L1245.91,939.43 L1245,939.77 L1244.17,940.12 L1243.41,940.49 L1242.74,940.87 L1242.16,941.26 L1241.68,941.67 L1241.3,942.08 L1241.02,942.5 L1240.86,942.92 L1240.8,943.35" stroke="#fff" stroke-width="5.0" fill="none" stroke-linecap="butt"/>
<path d="M1263.8,949.77 L1263.74,949.75 L1263.58,949.73 L1263.3,949.71 L1262.92,949.7 L1262.44,949.69 L1261.86,949.7 L1261.19,949.72 L1260.43,949.75 L1259.6,949.8 L1258.69,949.87 L1257.72,949.96 L1256.7,950.06 L1255.64,950.18 L1254.54,950.33 L1253.43,950.5 L1252.3,950.69 L1251.17,950.9 L1250.06,951.13 L1248.96,951.39 L1247.9,951.67 L1246.88,951.96 L1245.91,952.28 L1245,952.62 L1244.17,952.97 L1243.41,953.34 L1242.74,953.72 L1242.16,954.11 L1241.68,954.52 L1241.3,954.93 L1241.02,955.35 L1240.86,955.77 L1240.8,956.2" stroke="#fff" stroke-width="5.0" fill="none" stroke-linecap="butt"/>
<path d="M1263.8,962.62 L1263.74,962.6 L1263.58,962.58 L1263.3,962.56 L1262.92,962.55 L1262.44,962.54 L1261.86,962.55 L1261.19,962.57 L1260.43,962.6 L1259.6,962.65 L1258.69,962.72 L1257.72,962.81 L1256.7,962.91 L1255.64,963.03 L1254.54,963.18 L1253.43,963.35 L1252.3,963.54 L1251.17,963.75 L1250.06,963.98 L1248.96,964.24 L1247.9,964.52 L1246.88,964.81 L1245.91,965.13 L1245,965.47 L1244.17,965.82 L1243.41,966.19 L1242.74,966.57 L1242.16,966.96 L1241.68,967.37 L1241.3,967.78 L1241.02,968.2 L1240.86,968.62 L1240.8,969.05" stroke="#fff" stroke-width="5.0" fill="none" stroke-linecap="butt"/>
<path d="M1263.8,975.48 L1263.74,975.45 L1263.58,975.43 L1263.3,975.41 L1262.92,975.4 L1262.44,975.39 L1261.86,975.4 L1261.19,975.42 L1260.43,975.45 L1259.6,975.5 L1258.69,975.57 L1257.72,975.66 L1256.7,975.76 L1255.64,975.88 L1254.54,976.03 L1253.43,976.2 L1252.3,976.39 L1251.17,976.6 L1250.06,976.83 L1248.96,977.09 L1247.9,977.37 L1246.88,977.66 L1245.91,977.98 L1245,978.32 L1244.17,978.67 L1243.41,979.04 L1242.74,979.42 L1242.16,979.81 L1241.68,980.22 L1241.3,980.63 L1241.02,981.05 L1240.86,981.47 L1240.8,981.9" stroke="#fff" stroke-width="5.0" fill="none" stroke-linecap="butt"/>
<path d="M1263.8,988.33 L1263.74,988.3 L1263.58,988.28 L1263.3,988.26 L1262.92,988.25 L1262.44,988.24 L1261.86,988.25 L1261.19,988.27 L1260.43,988.3 L1259.6,988.35 L1258.69,988.42 L1257.72,988.51 L1256.7,988.61 L1255.64,988.73 L1254.54,988.88 L1253.43,989.05 L1252.3,989.24 L1251.17,989.45 L1250.06,989.68 L1248.96,989.94 L1247.9,990.22 L1246.88,990.51 L1245.91,990.83 L1245,991.17 L1244.17,991.52 L1243.41,991.89 L1242.74,992.27 L1242.16,992.66 L1241.68,993.07 L1241.3,993.48 L1241.02,993.9 L1240.86,994.32 L1240.8,994.75" stroke="#fff" stroke-width="5.0" fill="none" stroke-linecap="butt"/>
<path d="M1263.8,1001.17 L1263.74,1001.15 L1263.58,1001.13 L1263.3,1001.11 L1262.92,1001.1 L1262.44,1001.09 L1261.86,1001.1 L1261.19,1001.12 L1260.43,1001.15 L1259.6,1001.2 L1258.69,1001.27 L1257.72,1001.36 L1256.7,1001.46 L1255.64,1001.58 L1254.54,1001.73 L1253.43,1001.9 L1252.3,1002.09 L1251.17,1002.3 L1250.06,1002.53 L1248.96,1002.79 L1247.9,1003.07 L1246.88,1003.36 L1245.91,1003.68 L1245,1004.02 L1244.17,1004.37 L1243.41,1004.74 L1242.74,1005.12 L1242.16,1005.51 L1241.68,1005.92 L1241.3,1006.33 L1241.02,1006.75 L1240.86,1007.17 L1240.8,1007.6" stroke="#fff" stroke-width="5.0" fill="none" stroke-linecap="butt"/>
<path d="M1263.8,1014.02 L1263.74,1014 L1263.58,1013.98 L1263.3,1013.96 L1262.92,1013.95 L1262.44,1013.94 L1261.86,1013.95 L1261.19,1013.97 L1260.43,1014 L1259.6,1014.05 L1258.69,1014.12 L1257.72,1014.21 L1256.7,1014.31 L1255.64,1014.43 L1254.54,1014.58 L1253.43,1014.75 L1252.3,1014.94 L1251.17,1015.15 L1250.06,1015.38 L1248.96,1015.64 L1247.9,1015.92 L1246.88,1016.21 L1245.91,1016.53 L1245,1016.87 L1244.17,1017.22 L1243.41,1017.59 L1242.74,1017.97 L1242.16,1018.36 L1241.68,1018.77 L1241.3,1019.18 L1241.02,1019.6 L1240.86,1020.02 L1240.8,1020.45" stroke="#fff" stroke-width="5.0" fill="none" stroke-linecap="butt"/>
<path d="M1263.8,1026.88 L1263.74,1026.85 L1263.58,1026.83 L1263.3,1026.81 L1262.92,1026.8 L1262.44,1026.79 L1261.86,1026.8 L1261.19,1026.82 L1260.43,1026.85 L1259.6,1026.9 L1258.69,1026.97 L1257.72,1027.06 L1256.7,1027.16 L1255.64,1027.28 L1254.54,1027.43 L1253.43,1027.6 L1252.3,1027.79 L1251.17,1028 L1250.06,1028.23 L1248.96,1028.49 L1247.9,1028.77 L1246.88,1029.06 L1245.91,1029.38 L1245,1029.72 L1244.17,1030.07 L1243.41,1030.44 L1242.74,1030.82 L1242.16,1031.21 L1241.68,1031.62 L1241.3,1032.03 L1241.02,1032.45 L1240.86,1032.87 L1240.8,1033.3" stroke="#fff" stroke-width="5.0" fill="none" stroke-linecap="butt"/>
<path d="M1263.8,1039.72 L1263.74,1039.7 L1263.58,1039.68 L1263.3,1039.66 L1262.92,1039.65 L1262.44,1039.64 L1261.86,1039.65 L1261.19,1039.67 L1260.43,1039.7 L1259.6,1039.75 L1258.69,1039.82 L1257.72,1039.91 L1256.7,1040.01 L1255.64,1040.13 L1254.54,1040.28 L1253.43,1040.45 L1252.3,1040.64 L1251.17,1040.85 L1250.06,1041.08 L1248.96,1041.34 L1247.9,1041.62 L1246.88,1041.91 L1245.91,1042.23 L1245,1042.57 L1244.17,1042.92 L1243.41,1043.29 L1242.74,1043.67 L1242.16,1044.06 L1241.68,1044.47 L1241.3,1044.88 L1241.02,1045.3 L1240.86,1045.72 L1240.8,1046.15" stroke="#fff" stroke-width="5.0" fill="none" stroke-linecap="butt"/>
<path d="M1263.8,1052.58 L1263.74,1052.55 L1263.58,1052.53 L1263.3,1052.51 L1262.92,1052.5 L1262.44,1052.49 L1261.86,1052.5 L1261.19,1052.52 L1260.43,1052.55 L1259.6,1052.6 L1258.69,1052.67 L1257.72,1052.76 L1256.7,1052.86 L1255.64,1052.98 L1254.54,1053.13 L1253.43,1053.3 L1252.3,1053.49 L1251.17,1053.7 L1250.06,1053.93 L1248.96,1054.19 L1247.9,1054.47 L1246.88,1054.76 L1245.91,1055.08 L1245,1055.42 L1244.17,1055.77 L1243.41,1056.14 L1242.74,1056.52 L1242.16,1056.91 L1241.68,1057.32 L1241.3,1057.73 L1241.02,1058.15 L1240.86,1058.57 L1240.8,1059" stroke="#fff" stroke-width="5.0" fill="none" stroke-linecap="butt"/>
<path d="M1263.8,1065.42 L1263.74,1065.4 L1263.58,1065.38 L1263.3,1065.36 L1262.92,1065.35 L1262.44,1065.34 L1261.86,1065.35 L1261.19,1065.37 L1260.43,1065.4 L1259.6,1065.45 L1258.69,1065.52 L1257.72,1065.61 L1256.7,1065.71 L1255.64,1065.83 L1254.54,1065.98 L1253.43,1066.15 L1252.3,1066.34 L1251.17,1066.55 L1250.06,1066.78 L1248.96,1067.04 L1247.9,1067.32 L1246.88,1067.61 L1245.91,1067.93 L1245,1068.27 L1244.17,1068.62 L1243.41,1068.99 L1242.74,1069.37 L1242.16,1069.76 L1241.68,1070.17 L1241.3,1070.58 L1241.02,1071 L1240.86,1071.42 L1240.8,1071.85" stroke="#fff" stroke-width="5.0" fill="none" stroke-linecap="butt"/>
<path d="M1263.8,1078.28 L1263.74,1078.25 L1263.58,1078.23 L1263.3,1078.21 L1262.92,1078.2 L1262.44,1078.19 L1261.86,1078.2 L1261.19,1078.22 L1260.43,1078.25 L1259.6,1078.3 L1258.69,1078.37 L1257.72,1078.46 L1256.7,1078.56 L1255.64,1078.68 L1254.54,1078.83 L1253.43,1079 L1252.3,1079.19 L1251.17,1079.4 L1250.06,1079.63 L1248.96,1079.89 L1247.9,1080.17 L1246.88,1080.46 L1245.91,1080.78 L1245,1081.12 L1244.17,1081.47 L1243.41,1081.84 L1242.74,1082.22 L1242.16,1082.61 L1241.68,1083.02 L1241.3,1083.43 L1241.02,1083.85 L1240.86,1084.27 L1240.8,1084.7" stroke="#fff" stroke-width="5.0" fill="none" stroke-linecap="butt"/>
<path d="M1263.8,1091.12 L1263.74,1091.1 L1263.58,1091.08 L1263.3,1091.06 L1262.92,1091.05 L1262.44,1091.04 L1261.86,1091.05 L1261.19,1091.07 L1260.43,1091.1 L1259.6,1091.15 L1258.69,1091.22 L1257.72,1091.31 L1256.7,1091.41 L1255.64,1091.53 L1254.54,1091.68 L1253.43,1091.85 L1252.3,1092.04 L1251.17,1092.25 L1250.06,1092.48 L1248.96,1092.74 L1247.9,1093.02 L1246.88,1093.31 L1245.91,1093.63 L1245,1093.97 L1244.17,1094.32 L1243.41,1094.69 L1242.74,1095.07 L1242.16,1095.46 L1241.68,1095.87 L1241.3,1096.28 L1241.02,1096.7 L1240.86,1097.12 L1240.8,1097.55" stroke="#fff" stroke-width="5.0" fill="none" stroke-linecap="butt"/>
<path d="M1263.8,1103.97 L1263.74,1103.95 L1263.58,1103.93 L1263.3,1103.91 L1262.92,1103.9 L1262.44,1103.89 L1261.86,1103.9 L1261.19,1103.92 L1260.43,1103.95 L1259.6,1104 L1258.69,1104.07 L1257.72,1104.16 L1256.7,1104.26 L1255.64,1104.38 L1254.54,1104.53 L1253.43,1104.7 L1252.3,1104.89 L1251.17,1105.1 L1250.06,1105.33 L1248.96,1105.59 L1247.9,1105.87 L1246.88,1106.16 L1245.91,1106.48 L1245,1106.82 L1244.17,1107.17 L1243.41,1107.54 L1242.74,1107.92 L1242.16,1108.31 L1241.68,1108.72 L1241.3,1109.13 L1241.02,1109.55 L1240.86,1109.97 L1240.8,1110.4" stroke="#fff" stroke-width="5.0" fill="none" stroke-linecap="butt"/>
<path d="M1263.8,1116.83 L1263.74,1116.8 L1263.58,1116.78 L1263.3,1116.76 L1262.92,1116.75 L1262.44,1116.74 L1261.86,1116.75 L1261.19,1116.77 L1260.43,1116.8 L1259.6,1116.85 L1258.69,1116.92 L1257.72,1117.01 L1256.7,1117.11 L1255.64,1117.23 L1254.54,1117.38 L1253.43,1117.55 L1252.3,1117.74 L1251.17,1117.95 L1250.06,1118.18 L1248.96,1118.44 L1247.9,1118.72 L1246.88,1119.01 L1245.91,1119.33 L1245,1119.67 L1244.17,1120.02 L1243.41,1120.39 L1242.74,1120.77 L1242.16,1121.16 L1241.68,1121.57 L1241.3,1121.98 L1241.02,1122.4 L1240.86,1122.82 L1240.8,1123.25" stroke="#fff" stroke-width="5.0" fill="none" stroke-linecap="butt"/>
<path d="M1263.8,1129.67 L1263.74,1129.65 L1263.58,1129.63 L1263.3,1129.61 L1262.92,1129.6 L1262.44,1129.59 L1261.86,1129.6 L1261.19,1129.62 L1260.43,1129.65 L1259.6,1129.7 L1258.69,1129.77 L1257.72,1129.86 L1256.7,1129.96 L1255.64,1130.08 L1254.54,1130.23 L1253.43,1130.4 L1252.3,1130.59 L1251.17,1130.8 L1250.06,1131.03 L1248.96,1131.29 L1247.9,1131.57 L1246.88,1131.86 L1245.91,1132.18 L1245,1132.52 L1244.17,1132.87 L1243.41,1133.24 L1242.74,1133.62 L1242.16,1134.01 L1241.68,1134.42 L1241.3,1134.83 L1241.02,1135.25 L1240.86,1135.67 L1240.8,1136.1" stroke="#fff" stroke-width="5.0" fill="none" stroke-linecap="butt"/>
<path d="M1263.8,1142.53 L1263.74,1142.5 L1263.58,1142.48 L1263.3,1142.46 L1262.92,1142.45 L1262.44,1142.44 L1261.86,1142.45 L1261.19,1142.47 L1260.43,1142.5 L1259.6,1142.55 L1258.69,1142.62 L1257.72,1142.71 L1256.7,1142.81 L1255.64,1142.93 L1254.54,1143.08 L1253.43,1143.25 L1252.3,1143.44 L1251.17,1143.65 L1250.06,1143.88 L1248.96,1144.14 L1247.9,1144.42 L1246.88,1144.71 L1245.91,1145.03 L1245,1145.37 L1244.17,1145.72 L1243.41,1146.09 L1242.74,1146.47 L1242.16,1146.86 L1241.68,1147.27 L1241.3,1147.68 L1241.02,1148.1 L1240.86,1148.52 L1240.8,1148.95" stroke="#fff" stroke-width="5.0" fill="none" stroke-linecap="butt"/>
<path d="M1263.8,1155.38 L1263.74,1155.35 L1263.58,1155.33 L1263.3,1155.31 L1262.92,1155.3 L1262.44,1155.29 L1261.86,1155.3 L1261.19,1155.32 L1260.43,1155.35 L1259.6,1155.4 L1258.69,1155.47 L1257.72,1155.56 L1256.7,1155.66 L1255.64,1155.78 L1254.54,1155.93 L1253.43,1156.1 L1252.3,1156.29 L1251.17,1156.5 L1250.06,1156.73 L1248.96,1156.99 L1247.9,1157.27 L1246.88,1157.56 L1245.91,1157.88 L1245,1158.22 L1244.17,1158.57 L1243.41,1158.94 L1242.74,1159.32 L1242.16,1159.71 L1241.68,1160.12 L1241.3,1160.53 L1241.02,1160.95 L1240.86,1161.37 L1240.8,1161.8" stroke="#fff" stroke-width="5.0" fill="none" stroke-linecap="butt"/>
<path d="M1240.8,930.5 L1240.86,930.93 L1241.02,931.35 L1241.3,931.77 L1241.68,932.18 L1242.16,932.59 L1242.74,932.98 L1243.41,933.36 L1244.17,933.73 L1245,934.08 L1245.91,934.42 L1246.88,934.74 L1247.9,935.03 L1248.96,935.31 L1250.06,935.57 L1251.17,935.8 L1252.3,936.01 L1253.43,936.2 L1254.54,936.37 L1255.64,936.52 L1256.7,936.64 L1257.72,936.74 L1258.69,936.83 L1259.6,936.9 L1260.43,936.95 L1261.19,936.98 L1261.86,937 L1262.44,937.01 L1262.92,937 L1263.3,936.99 L1263.58,936.97 L1263.74,936.95 L1263.8,936.92" stroke="#15158a" stroke-width="8.2" fill="none" stroke-linecap="round"/>
<path d="M1240.8,930.5 L1240.86,930.93 L1241.02,931.35 L1241.3,931.77 L1241.68,932.18 L1242.16,932.59 L1242.74,932.98 L1243.41,933.36 L1244.17,933.73 L1245,934.08 L1245.91,934.42 L1246.88,934.74 L1247.9,935.03 L1248.96,935.31 L1250.06,935.57 L1251.17,935.8 L1252.3,936.01 L1253.43,936.2 L1254.54,936.37 L1255.64,936.52 L1256.7,936.64 L1257.72,936.74 L1258.69,936.83 L1259.6,936.9 L1260.43,936.95 L1261.19,936.98 L1261.86,937 L1262.44,937.01 L1262.92,937 L1263.3,936.99 L1263.58,936.97 L1263.74,936.95 L1263.8,936.92" stroke="#fff" stroke-width="5.0" fill="none" stroke-linecap="round"/>
<path d="M1240.8,943.35 L1240.86,943.78 L1241.02,944.2 L1241.3,944.62 L1241.68,945.03 L1242.16,945.44 L1242.74,945.83 L1243.41,946.21 L1244.17,946.58 L1245,946.93 L1245.91,947.27 L1246.88,947.59 L1247.9,947.88 L1248.96,948.16 L1250.06,948.42 L1251.17,948.65 L1252.3,948.86 L1253.43,949.05 L1254.54,949.22 L1255.64,949.37 L1256.7,949.49 L1257.72,949.59 L1258.69,949.68 L1259.6,949.75 L1260.43,949.8 L1261.19,949.83 L1261.86,949.85 L1262.44,949.86 L1262.92,949.85 L1263.3,949.84 L1263.58,949.82 L1263.74,949.8 L1263.8,949.77" stroke="#15158a" stroke-width="8.2" fill="none" stroke-linecap="round"/>
<path d="M1240.8,943.35 L1240.86,943.78 L1241.02,944.2 L1241.3,944.62 L1241.68,945.03 L1242.16,945.44 L1242.74,945.83 L1243.41,946.21 L1244.17,946.58 L1245,946.93 L1245.91,947.27 L1246.88,947.59 L1247.9,947.88 L1248.96,948.16 L1250.06,948.42 L1251.17,948.65 L1252.3,948.86 L1253.43,949.05 L1254.54,949.22 L1255.64,949.37 L1256.7,949.49 L1257.72,949.59 L1258.69,949.68 L1259.6,949.75 L1260.43,949.8 L1261.19,949.83 L1261.86,949.85 L1262.44,949.86 L1262.92,949.85 L1263.3,949.84 L1263.58,949.82 L1263.74,949.8 L1263.8,949.77" stroke="#fff" stroke-width="5.0" fill="none" stroke-linecap="round"/>
<path d="M1240.8,956.2 L1240.86,956.63 L1241.02,957.05 L1241.3,957.47 L1241.68,957.88 L1242.16,958.29 L1242.74,958.68 L1243.41,959.06 L1244.17,959.43 L1245,959.78 L1245.91,960.12 L1246.88,960.44 L1247.9,960.73 L1248.96,961.01 L1250.06,961.27 L1251.17,961.5 L1252.3,961.71 L1253.43,961.9 L1254.54,962.07 L1255.64,962.22 L1256.7,962.34 L1257.72,962.44 L1258.69,962.53 L1259.6,962.6 L1260.43,962.65 L1261.19,962.68 L1261.86,962.7 L1262.44,962.71 L1262.92,962.7 L1263.3,962.69 L1263.58,962.67 L1263.74,962.65 L1263.8,962.62" stroke="#15158a" stroke-width="8.2" fill="none" stroke-linecap="round"/>
<path d="M1240.8,956.2 L1240.86,956.63 L1241.02,957.05 L1241.3,957.47 L1241.68,957.88 L1242.16,958.29 L1242.74,958.68 L1243.41,959.06 L1244.17,959.43 L1245,959.78 L1245.91,960.12 L1246.88,960.44 L1247.9,960.73 L1248.96,961.01 L1250.06,961.27 L1251.17,961.5 L1252.3,961.71 L1253.43,961.9 L1254.54,962.07 L1255.64,962.22 L1256.7,962.34 L1257.72,962.44 L1258.69,962.53 L1259.6,962.6 L1260.43,962.65 L1261.19,962.68 L1261.86,962.7 L1262.44,962.71 L1262.92,962.7 L1263.3,962.69 L1263.58,962.67 L1263.74,962.65 L1263.8,962.62" stroke="#fff" stroke-width="5.0" fill="none" stroke-linecap="round"/>
<path d="M1240.8,969.05 L1240.86,969.48 L1241.02,969.9 L1241.3,970.32 L1241.68,970.73 L1242.16,971.14 L1242.74,971.53 L1243.41,971.91 L1244.17,972.28 L1245,972.63 L1245.91,972.97 L1246.88,973.29 L1247.9,973.58 L1248.96,973.86 L1250.06,974.12 L1251.17,974.35 L1252.3,974.56 L1253.43,974.75 L1254.54,974.92 L1255.64,975.07 L1256.7,975.19 L1257.72,975.29 L1258.69,975.38 L1259.6,975.45 L1260.43,975.5 L1261.19,975.53 L1261.86,975.55 L1262.44,975.56 L1262.92,975.55 L1263.3,975.54 L1263.58,975.52 L1263.74,975.5 L1263.8,975.48" stroke="#15158a" stroke-width="8.2" fill="none" stroke-linecap="round"/>
<path d="M1240.8,969.05 L1240.86,969.48 L1241.02,969.9 L1241.3,970.32 L1241.68,970.73 L1242.16,971.14 L1242.74,971.53 L1243.41,971.91 L1244.17,972.28 L1245,972.63 L1245.91,972.97 L1246.88,973.29 L1247.9,973.58 L1248.96,973.86 L1250.06,974.12 L1251.17,974.35 L1252.3,974.56 L1253.43,974.75 L1254.54,974.92 L1255.64,975.07 L1256.7,975.19 L1257.72,975.29 L1258.69,975.38 L1259.6,975.45 L1260.43,975.5 L1261.19,975.53 L1261.86,975.55 L1262.44,975.56 L1262.92,975.55 L1263.3,975.54 L1263.58,975.52 L1263.74,975.5 L1263.8,975.48" stroke="#fff" stroke-width="5.0" fill="none" stroke-linecap="round"/>
<path d="M1240.8,981.9 L1240.86,982.33 L1241.02,982.75 L1241.3,983.17 L1241.68,983.58 L1242.16,983.99 L1242.74,984.38 L1243.41,984.76 L1244.17,985.13 L1245,985.48 L1245.91,985.82 L1246.88,986.14 L1247.9,986.43 L1248.96,986.71 L1250.06,986.97 L1251.17,987.2 L1252.3,987.41 L1253.43,987.6 L1254.54,987.77 L1255.64,987.92 L1256.7,988.04 L1257.72,988.14 L1258.69,988.23 L1259.6,988.3 L1260.43,988.35 L1261.19,988.38 L1261.86,988.4 L1262.44,988.41 L1262.92,988.4 L1263.3,988.39 L1263.58,988.37 L1263.74,988.35 L1263.8,988.33" stroke="#15158a" stroke-width="8.2" fill="none" stroke-linecap="round"/>
<path d="M1240.8,981.9 L1240.86,982.33 L1241.02,982.75 L1241.3,983.17 L1241.68,983.58 L1242.16,983.99 L1242.74,984.38 L1243.41,984.76 L1244.17,985.13 L1245,985.48 L1245.91,985.82 L1246.88,986.14 L1247.9,986.43 L1248.96,986.71 L1250.06,986.97 L1251.17,987.2 L1252.3,987.41 L1253.43,987.6 L1254.54,987.77 L1255.64,987.92 L1256.7,988.04 L1257.72,988.14 L1258.69,988.23 L1259.6,988.3 L1260.43,988.35 L1261.19,988.38 L1261.86,988.4 L1262.44,988.41 L1262.92,988.4 L1263.3,988.39 L1263.58,988.37 L1263.74,988.35 L1263.8,988.33" stroke="#fff" stroke-width="5.0" fill="none" stroke-linecap="round"/>
<path d="M1240.8,994.75 L1240.86,995.18 L1241.02,995.6 L1241.3,996.02 L1241.68,996.43 L1242.16,996.84 L1242.74,997.23 L1243.41,997.61 L1244.17,997.98 L1245,998.33 L1245.91,998.67 L1246.88,998.99 L1247.9,999.28 L1248.96,999.56 L1250.06,999.82 L1251.17,1000.05 L1252.3,1000.26 L1253.43,1000.45 L1254.54,1000.62 L1255.64,1000.77 L1256.7,1000.89 L1257.72,1000.99 L1258.69,1001.08 L1259.6,1001.15 L1260.43,1001.2 L1261.19,1001.23 L1261.86,1001.25 L1262.44,1001.26 L1262.92,1001.25 L1263.3,1001.24 L1263.58,1001.22 L1263.74,1001.2 L1263.8,1001.17" stroke="#15158a" stroke-width="8.2" fill="none" stroke-linecap="round"/>
<path d="M1240.8,994.75 L1240.86,995.18 L1241.02,995.6 L1241.3,996.02 L1241.68,996.43 L1242.16,996.84 L1242.74,997.23 L1243.41,997.61 L1244.17,997.98 L1245,998.33 L1245.91,998.67 L1246.88,998.99 L1247.9,999.28 L1248.96,999.56 L1250.06,999.82 L1251.17,1000.05 L1252.3,1000.26 L1253.43,1000.45 L1254.54,1000.62 L1255.64,1000.77 L1256.7,1000.89 L1257.72,1000.99 L1258.69,1001.08 L1259.6,1001.15 L1260.43,1001.2 L1261.19,1001.23 L1261.86,1001.25 L1262.44,1001.26 L1262.92,1001.25 L1263.3,1001.24 L1263.58,1001.22 L1263.74,1001.2 L1263.8,1001.17" stroke="#fff" stroke-width="5.0" fill="none" stroke-linecap="round"/>
<path d="M1240.8,1007.6 L1240.86,1008.03 L1241.02,1008.45 L1241.3,1008.87 L1241.68,1009.28 L1242.16,1009.69 L1242.74,1010.08 L1243.41,1010.46 L1244.17,1010.83 L1245,1011.18 L1245.91,1011.52 L1246.88,1011.84 L1247.9,1012.13 L1248.96,1012.41 L1250.06,1012.67 L1251.17,1012.9 L1252.3,1013.11 L1253.43,1013.3 L1254.54,1013.47 L1255.64,1013.62 L1256.7,1013.74 L1257.72,1013.84 L1258.69,1013.93 L1259.6,1014 L1260.43,1014.05 L1261.19,1014.08 L1261.86,1014.1 L1262.44,1014.11 L1262.92,1014.1 L1263.3,1014.09 L1263.58,1014.07 L1263.74,1014.05 L1263.8,1014.02" stroke="#15158a" stroke-width="8.2" fill="none" stroke-linecap="round"/>
<path d="M1240.8,1007.6 L1240.86,1008.03 L1241.02,1008.45 L1241.3,1008.87 L1241.68,1009.28 L1242.16,1009.69 L1242.74,1010.08 L1243.41,1010.46 L1244.17,1010.83 L1245,1011.18 L1245.91,1011.52 L1246.88,1011.84 L1247.9,1012.13 L1248.96,1012.41 L1250.06,1012.67 L1251.17,1012.9 L1252.3,1013.11 L1253.43,1013.3 L1254.54,1013.47 L1255.64,1013.62 L1256.7,1013.74 L1257.72,1013.84 L1258.69,1013.93 L1259.6,1014 L1260.43,1014.05 L1261.19,1014.08 L1261.86,1014.1 L1262.44,1014.11 L1262.92,1014.1 L1263.3,1014.09 L1263.58,1014.07 L1263.74,1014.05 L1263.8,1014.02" stroke="#fff" stroke-width="5.0" fill="none" stroke-linecap="round"/>
<path d="M1240.8,1020.45 L1240.86,1020.88 L1241.02,1021.3 L1241.3,1021.72 L1241.68,1022.13 L1242.16,1022.54 L1242.74,1022.93 L1243.41,1023.31 L1244.17,1023.68 L1245,1024.03 L1245.91,1024.37 L1246.88,1024.69 L1247.9,1024.98 L1248.96,1025.26 L1250.06,1025.52 L1251.17,1025.75 L1252.3,1025.96 L1253.43,1026.15 L1254.54,1026.32 L1255.64,1026.47 L1256.7,1026.59 L1257.72,1026.69 L1258.69,1026.78 L1259.6,1026.85 L1260.43,1026.9 L1261.19,1026.93 L1261.86,1026.95 L1262.44,1026.96 L1262.92,1026.95 L1263.3,1026.94 L1263.58,1026.92 L1263.74,1026.9 L1263.8,1026.88" stroke="#15158a" stroke-width="8.2" fill="none" stroke-linecap="round"/>
<path d="M1240.8,1020.45 L1240.86,1020.88 L1241.02,1021.3 L1241.3,1021.72 L1241.68,1022.13 L1242.16,1022.54 L1242.74,1022.93 L1243.41,1023.31 L1244.17,1023.68 L1245,1024.03 L1245.91,1024.37 L1246.88,1024.69 L1247.9,1024.98 L1248.96,1025.26 L1250.06,1025.52 L1251.17,1025.75 L1252.3,1025.96 L1253.43,1026.15 L1254.54,1026.32 L1255.64,1026.47 L1256.7,1026.59 L1257.72,1026.69 L1258.69,1026.78 L1259.6,1026.85 L1260.43,1026.9 L1261.19,1026.93 L1261.86,1026.95 L1262.44,1026.96 L1262.92,1026.95 L1263.3,1026.94 L1263.58,1026.92 L1263.74,1026.9 L1263.8,1026.88" stroke="#fff" stroke-width="5.0" fill="none" stroke-linecap="round"/>
<path d="M1240.8,1033.3 L1240.86,1033.73 L1241.02,1034.15 L1241.3,1034.57 L1241.68,1034.98 L1242.16,1035.39 L1242.74,1035.78 L1243.41,1036.16 L1244.17,1036.53 L1245,1036.88 L1245.91,1037.22 L1246.88,1037.54 L1247.9,1037.83 L1248.96,1038.11 L1250.06,1038.37 L1251.17,1038.6 L1252.3,1038.81 L1253.43,1039 L1254.54,1039.17 L1255.64,1039.32 L1256.7,1039.44 L1257.72,1039.54 L1258.69,1039.63 L1259.6,1039.7 L1260.43,1039.75 L1261.19,1039.78 L1261.86,1039.8 L1262.44,1039.81 L1262.92,1039.8 L1263.3,1039.79 L1263.58,1039.77 L1263.74,1039.75 L1263.8,1039.72" stroke="#15158a" stroke-width="8.2" fill="none" stroke-linecap="round"/>
<path d="M1240.8,1033.3 L1240.86,1033.73 L1241.02,1034.15 L1241.3,1034.57 L1241.68,1034.98 L1242.16,1035.39 L1242.74,1035.78 L1243.41,1036.16 L1244.17,1036.53 L1245,1036.88 L1245.91,1037.22 L1246.88,1037.54 L1247.9,1037.83 L1248.96,1038.11 L1250.06,1038.37 L1251.17,1038.6 L1252.3,1038.81 L1253.43,1039 L1254.54,1039.17 L1255.64,1039.32 L1256.7,1039.44 L1257.72,1039.54 L1258.69,1039.63 L1259.6,1039.7 L1260.43,1039.75 L1261.19,1039.78 L1261.86,1039.8 L1262.44,1039.81 L1262.92,1039.8 L1263.3,1039.79 L1263.58,1039.77 L1263.74,1039.75 L1263.8,1039.72" stroke="#fff" stroke-width="5.0" fill="none" stroke-linecap="round"/>
<path d="M1240.8,1046.15 L1240.86,1046.58 L1241.02,1047 L1241.3,1047.42 L1241.68,1047.83 L1242.16,1048.24 L1242.74,1048.63 L1243.41,1049.01 L1244.17,1049.38 L1245,1049.73 L1245.91,1050.07 L1246.88,1050.39 L1247.9,1050.68 L1248.96,1050.96 L1250.06,1051.22 L1251.17,1051.45 L1252.3,1051.66 L1253.43,1051.85 L1254.54,1052.02 L1255.64,1052.17 L1256.7,1052.29 L1257.72,1052.39 L1258.69,1052.48 L1259.6,1052.55 L1260.43,1052.6 L1261.19,1052.63 L1261.86,1052.65 L1262.44,1052.66 L1262.92,1052.65 L1263.3,1052.64 L1263.58,1052.62 L1263.74,1052.6 L1263.8,1052.58" stroke="#15158a" stroke-width="8.2" fill="none" stroke-linecap="round"/>
<path d="M1240.8,1046.15 L1240.86,1046.58 L1241.02,1047 L1241.3,1047.42 L1241.68,1047.83 L1242.16,1048.24 L1242.74,1048.63 L1243.41,1049.01 L1244.17,1049.38 L1245,1049.73 L1245.91,1050.07 L1246.88,1050.39 L1247.9,1050.68 L1248.96,1050.96 L1250.06,1051.22 L1251.17,1051.45 L1252.3,1051.66 L1253.43,1051.85 L1254.54,1052.02 L1255.64,1052.17 L1256.7,1052.29 L1257.72,1052.39 L1258.69,1052.48 L1259.6,1052.55 L1260.43,1052.6 L1261.19,1052.63 L1261.86,1052.65 L1262.44,1052.66 L1262.92,1052.65 L1263.3,1052.64 L1263.58,1052.62 L1263.74,1052.6 L1263.8,1052.58" stroke="#fff" stroke-width="5.0" fill="none" stroke-linecap="round"/>
<path d="M1240.8,1059 L1240.86,1059.43 L1241.02,1059.85 L1241.3,1060.27 L1241.68,1060.68 L1242.16,1061.09 L1242.74,1061.48 L1243.41,1061.86 L1244.17,1062.23 L1245,1062.58 L1245.91,1062.92 L1246.88,1063.24 L1247.9,1063.53 L1248.96,1063.81 L1250.06,1064.07 L1251.17,1064.3 L1252.3,1064.51 L1253.43,1064.7 L1254.54,1064.87 L1255.64,1065.02 L1256.7,1065.14 L1257.72,1065.24 L1258.69,1065.33 L1259.6,1065.4 L1260.43,1065.45 L1261.19,1065.48 L1261.86,1065.5 L1262.44,1065.51 L1262.92,1065.5 L1263.3,1065.49 L1263.58,1065.47 L1263.74,1065.45 L1263.8,1065.42" stroke="#15158a" stroke-width="8.2" fill="none" stroke-linecap="round"/>
<path d="M1240.8,1059 L1240.86,1059.43 L1241.02,1059.85 L1241.3,1060.27 L1241.68,1060.68 L1242.16,1061.09 L1242.74,1061.48 L1243.41,1061.86 L1244.17,1062.23 L1245,1062.58 L1245.91,1062.92 L1246.88,1063.24 L1247.9,1063.53 L1248.96,1063.81 L1250.06,1064.07 L1251.17,1064.3 L1252.3,1064.51 L1253.43,1064.7 L1254.54,1064.87 L1255.64,1065.02 L1256.7,1065.14 L1257.72,1065.24 L1258.69,1065.33 L1259.6,1065.4 L1260.43,1065.45 L1261.19,1065.48 L1261.86,1065.5 L1262.44,1065.51 L1262.92,1065.5 L1263.3,1065.49 L1263.58,1065.47 L1263.74,1065.45 L1263.8,1065.42" stroke="#fff" stroke-width="5.0" fill="none" stroke-linecap="round"/>
<path d="M1240.8,1071.85 L1240.86,1072.28 L1241.02,1072.7 L1241.3,1073.12 L1241.68,1073.53 L1242.16,1073.94 L1242.74,1074.33 L1243.41,1074.71 L1244.17,1075.08 L1245,1075.43 L1245.91,1075.77 L1246.88,1076.09 L1247.9,1076.38 L1248.96,1076.66 L1250.06,1076.92 L1251.17,1077.15 L1252.3,1077.36 L1253.43,1077.55 L1254.54,1077.72 L1255.64,1077.87 L1256.7,1077.99 L1257.72,1078.09 L1258.69,1078.18 L1259.6,1078.25 L1260.43,1078.3 L1261.19,1078.33 L1261.86,1078.35 L1262.44,1078.36 L1262.92,1078.35 L1263.3,1078.34 L1263.58,1078.32 L1263.74,1078.3 L1263.8,1078.28" stroke="#15158a" stroke-width="8.2" fill="none" stroke-linecap="round"/>
<path d="M1240.8,1071.85 L1240.86,1072.28 L1241.02,1072.7 L1241.3,1073.12 L1241.68,1073.53 L1242.16,1073.94 L1242.74,1074.33 L1243.41,1074.71 L1244.17,1075.08 L1245,1075.43 L1245.91,1075.77 L1246.88,1076.09 L1247.9,1076.38 L1248.96,1076.66 L1250.06,1076.92 L1251.17,1077.15 L1252.3,1077.36 L1253.43,1077.55 L1254.54,1077.72 L1255.64,1077.87 L1256.7,1077.99 L1257.72,1078.09 L1258.69,1078.18 L1259.6,1078.25 L1260.43,1078.3 L1261.19,1078.33 L1261.86,1078.35 L1262.44,1078.36 L1262.92,1078.35 L1263.3,1078.34 L1263.58,1078.32 L1263.74,1078.3 L1263.8,1078.28" stroke="#fff" stroke-width="5.0" fill="none" stroke-linecap="round"/>
<path d="M1240.8,1084.7 L1240.86,1085.13 L1241.02,1085.55 L1241.3,1085.97 L1241.68,1086.38 L1242.16,1086.79 L1242.74,1087.18 L1243.41,1087.56 L1244.17,1087.93 L1245,1088.28 L1245.91,1088.62 L1246.88,1088.94 L1247.9,1089.23 L1248.96,1089.51 L1250.06,1089.77 L1251.17,1090 L1252.3,1090.21 L1253.43,1090.4 L1254.54,1090.57 L1255.64,1090.72 L1256.7,1090.84 L1257.72,1090.94 L1258.69,1091.03 L1259.6,1091.1 L1260.43,1091.15 L1261.19,1091.18 L1261.86,1091.2 L1262.44,1091.21 L1262.92,1091.2 L1263.3,1091.19 L1263.58,1091.17 L1263.74,1091.15 L1263.8,1091.12" stroke="#15158a" stroke-width="8.2" fill="none" stroke-linecap="round"/>
<path d="M1240.8,1084.7 L1240.86,1085.13 L1241.02,1085.55 L1241.3,1085.97 L1241.68,1086.38 L1242.16,1086.79 L1242.74,1087.18 L1243.41,1087.56 L1244.17,1087.93 L1245,1088.28 L1245.91,1088.62 L1246.88,1088.94 L1247.9,1089.23 L1248.96,1089.51 L1250.06,1089.77 L1251.17,1090 L1252.3,1090.21 L1253.43,1090.4 L1254.54,1090.57 L1255.64,1090.72 L1256.7,1090.84 L1257.72,1090.94 L1258.69,1091.03 L1259.6,1091.1 L1260.43,1091.15 L1261.19,1091.18 L1261.86,1091.2 L1262.44,1091.21 L1262.92,1091.2 L1263.3,1091.19 L1263.58,1091.17 L1263.74,1091.15 L1263.8,1091.12" stroke="#fff" stroke-width="5.0" fill="none" stroke-linecap="round"/>
<path d="M1240.8,1097.55 L1240.86,1097.98 L1241.02,1098.4 L1241.3,1098.82 L1241.68,1099.23 L1242.16,1099.64 L1242.74,1100.03 L1243.41,1100.41 L1244.17,1100.78 L1245,1101.13 L1245.91,1101.47 L1246.88,1101.79 L1247.9,1102.08 L1248.96,1102.36 L1250.06,1102.62 L1251.17,1102.85 L1252.3,1103.06 L1253.43,1103.25 L1254.54,1103.42 L1255.64,1103.57 L1256.7,1103.69 L1257.72,1103.79 L1258.69,1103.88 L1259.6,1103.95 L1260.43,1104 L1261.19,1104.03 L1261.86,1104.05 L1262.44,1104.06 L1262.92,1104.05 L1263.3,1104.04 L1263.58,1104.02 L1263.74,1104 L1263.8,1103.97" stroke="#15158a" stroke-width="8.2" fill="none" stroke-linecap="round"/>
<path d="M1240.8,1097.55 L1240.86,1097.98 L1241.02,1098.4 L1241.3,1098.82 L1241.68,1099.23 L1242.16,1099.64 L1242.74,1100.03 L1243.41,1100.41 L1244.17,1100.78 L1245,1101.13 L1245.91,1101.47 L1246.88,1101.79 L1247.9,1102.08 L1248.96,1102.36 L1250.06,1102.62 L1251.17,1102.85 L1252.3,1103.06 L1253.43,1103.25 L1254.54,1103.42 L1255.64,1103.57 L1256.7,1103.69 L1257.72,1103.79 L1258.69,1103.88 L1259.6,1103.95 L1260.43,1104 L1261.19,1104.03 L1261.86,1104.05 L1262.44,1104.06 L1262.92,1104.05 L1263.3,1104.04 L1263.58,1104.02 L1263.74,1104 L1263.8,1103.97" stroke="#fff" stroke-width="5.0" fill="none" stroke-linecap="round"/>
<path d="M1240.8,1110.4 L1240.86,1110.83 L1241.02,1111.25 L1241.3,1111.67 L1241.68,1112.08 L1242.16,1112.49 L1242.74,1112.88 L1243.41,1113.26 L1244.17,1113.63 L1245,1113.98 L1245.91,1114.32 L1246.88,1114.64 L1247.9,1114.93 L1248.96,1115.21 L1250.06,1115.47 L1251.17,1115.7 L1252.3,1115.91 L1253.43,1116.1 L1254.54,1116.27 L1255.64,1116.42 L1256.7,1116.54 L1257.72,1116.64 L1258.69,1116.73 L1259.6,1116.8 L1260.43,1116.85 L1261.19,1116.88 L1261.86,1116.9 L1262.44,1116.91 L1262.92,1116.9 L1263.3,1116.89 L1263.58,1116.87 L1263.74,1116.85 L1263.8,1116.83" stroke="#15158a" stroke-width="8.2" fill="none" stroke-linecap="round"/>
<path d="M1240.8,1110.4 L1240.86,1110.83 L1241.02,1111.25 L1241.3,1111.67 L1241.68,1112.08 L1242.16,1112.49 L1242.74,1112.88 L1243.41,1113.26 L1244.17,1113.63 L1245,1113.98 L1245.91,1114.32 L1246.88,1114.64 L1247.9,1114.93 L1248.96,1115.21 L1250.06,1115.47 L1251.17,1115.7 L1252.3,1115.91 L1253.43,1116.1 L1254.54,1116.27 L1255.64,1116.42 L1256.7,1116.54 L1257.72,1116.64 L1258.69,1116.73 L1259.6,1116.8 L1260.43,1116.85 L1261.19,1116.88 L1261.86,1116.9 L1262.44,1116.91 L1262.92,1116.9 L1263.3,1116.89 L1263.58,1116.87 L1263.74,1116.85 L1263.8,1116.83" stroke="#fff" stroke-width="5.0" fill="none" stroke-linecap="round"/>
<path d="M1240.8,1123.25 L1240.86,1123.68 L1241.02,1124.1 L1241.3,1124.52 L1241.68,1124.93 L1242.16,1125.34 L1242.74,1125.73 L1243.41,1126.11 L1244.17,1126.48 L1245,1126.83 L1245.91,1127.17 L1246.88,1127.49 L1247.9,1127.78 L1248.96,1128.06 L1250.06,1128.32 L1251.17,1128.55 L1252.3,1128.76 L1253.43,1128.95 L1254.54,1129.12 L1255.64,1129.27 L1256.7,1129.39 L1257.72,1129.49 L1258.69,1129.58 L1259.6,1129.65 L1260.43,1129.7 L1261.19,1129.73 L1261.86,1129.75 L1262.44,1129.76 L1262.92,1129.75 L1263.3,1129.74 L1263.58,1129.72 L1263.74,1129.7 L1263.8,1129.67" stroke="#15158a" stroke-width="8.2" fill="none" stroke-linecap="round"/>
<path d="M1240.8,1123.25 L1240.86,1123.68 L1241.02,1124.1 L1241.3,1124.52 L1241.68,1124.93 L1242.16,1125.34 L1242.74,1125.73 L1243.41,1126.11 L1244.17,1126.48 L1245,1126.83 L1245.91,1127.17 L1246.88,1127.49 L1247.9,1127.78 L1248.96,1128.06 L1250.06,1128.32 L1251.17,1128.55 L1252.3,1128.76 L1253.43,1128.95 L1254.54,1129.12 L1255.64,1129.27 L1256.7,1129.39 L1257.72,1129.49 L1258.69,1129.58 L1259.6,1129.65 L1260.43,1129.7 L1261.19,1129.73 L1261.86,1129.75 L1262.44,1129.76 L1262.92,1129.75 L1263.3,1129.74 L1263.58,1129.72 L1263.74,1129.7 L1263.8,1129.67" stroke="#fff" stroke-width="5.0" fill="none" stroke-linecap="round"/>
<path d="M1240.8,1136.1 L1240.86,1136.53 L1241.02,1136.95 L1241.3,1137.37 L1241.68,1137.78 L1242.16,1138.19 L1242.74,1138.58 L1243.41,1138.96 L1244.17,1139.33 L1245,1139.68 L1245.91,1140.02 L1246.88,1140.34 L1247.9,1140.63 L1248.96,1140.91 L1250.06,1141.17 L1251.17,1141.4 L1252.3,1141.61 L1253.43,1141.8 L1254.54,1141.97 L1255.64,1142.12 L1256.7,1142.24 L1257.72,1142.34 L1258.69,1142.43 L1259.6,1142.5 L1260.43,1142.55 L1261.19,1142.58 L1261.86,1142.6 L1262.44,1142.61 L1262.92,1142.6 L1263.3,1142.59 L1263.58,1142.57 L1263.74,1142.55 L1263.8,1142.53" stroke="#15158a" stroke-width="8.2" fill="none" stroke-linecap="round"/>
<path d="M1240.8,1136.1 L1240.86,1136.53 L1241.02,1136.95 L1241.3,1137.37 L1241.68,1137.78 L1242.16,1138.19 L1242.74,1138.58 L1243.41,1138.96 L1244.17,1139.33 L1245,1139.68 L1245.91,1140.02 L1246.88,1140.34 L1247.9,1140.63 L1248.96,1140.91 L1250.06,1141.17 L1251.17,1141.4 L1252.3,1141.61 L1253.43,1141.8 L1254.54,1141.97 L1255.64,1142.12 L1256.7,1142.24 L1257.72,1142.34 L1258.69,1142.43 L1259.6,1142.5 L1260.43,1142.55 L1261.19,1142.58 L1261.86,1142.6 L1262.44,1142.61 L1262.92,1142.6 L1263.3,1142.59 L1263.58,1142.57 L1263.74,1142.55 L1263.8,1142.53" stroke="#fff" stroke-width="5.0" fill="none" stroke-linecap="round"/>
<path d="M1240.8,1148.95 L1240.86,1149.38 L1241.02,1149.8 L1241.3,1150.22 L1241.68,1150.63 L1242.16,1151.04 L1242.74,1151.43 L1243.41,1151.81 L1244.17,1152.18 L1245,1152.53 L1245.91,1152.87 L1246.88,1153.19 L1247.9,1153.48 L1248.96,1153.76 L1250.06,1154.02 L1251.17,1154.25 L1252.3,1154.46 L1253.43,1154.65 L1254.54,1154.82 L1255.64,1154.97 L1256.7,1155.09 L1257.72,1155.19 L1258.69,1155.28 L1259.6,1155.35 L1260.43,1155.4 L1261.19,1155.43 L1261.86,1155.45 L1262.44,1155.46 L1262.92,1155.45 L1263.3,1155.44 L1263.58,1155.42 L1263.74,1155.4 L1263.8,1155.38" stroke="#15158a" stroke-width="8.2" fill="none" stroke-linecap="round"/>
<path d="M1240.8,1148.95 L1240.86,1149.38 L1241.02,1149.8 L1241.3,1150.22 L1241.68,1150.63 L1242.16,1151.04 L1242.74,1151.43 L1243.41,1151.81 L1244.17,1152.18 L1245,1152.53 L1245.91,1152.87 L1246.88,1153.19 L1247.9,1153.48 L1248.96,1153.76 L1250.06,1154.02 L1251.17,1154.25 L1252.3,1154.46 L1253.43,1154.65 L1254.54,1154.82 L1255.64,1154.97 L1256.7,1155.09 L1257.72,1155.19 L1258.69,1155.28 L1259.6,1155.35 L1260.43,1155.4 L1261.19,1155.43 L1261.86,1155.45 L1262.44,1155.46 L1262.92,1155.45 L1263.3,1155.44 L1263.58,1155.42 L1263.74,1155.4 L1263.8,1155.38" stroke="#fff" stroke-width="5.0" fill="none" stroke-linecap="round"/>
</g>
<path d="M1238,1160 L1238,1238" stroke="#121250" stroke-width="1.3" fill="none" />
<path d="M1245.6,1161 L1245.6,1238" stroke="#121250" stroke-width="1.3" fill="none" />
<line x1="1238" y1="1172" x2="1245.6" y2="1172" stroke="#888" stroke-width="0.8" />
<path d="M680,894.7 L670,894.7 Q651.7,894.7 651.7,910 L651.7,926" stroke="#3a3a3a" stroke-width="0.9" fill="none" />
<path d="M680,902 L671,902 Q659.3,902 659.3,912 L659.3,927" stroke="#3a3a3a" stroke-width="0.9" fill="none" />
<line x1="668" y1="894.7" x2="668" y2="902" stroke="#3a3a3a" stroke-width="0.8" />
<line x1="651.7" y1="912.5" x2="659.3" y2="912.5" stroke="#3a3a3a" stroke-width="0.8" />
<line x1="651.7" y1="918.5" x2="659.3" y2="918.5" stroke="#3a3a3a" stroke-width="0.8" />
<g clip-path="url(#hidclip)">
<path d="M633.7,936.42 L633.76,936.4 L633.92,936.38 L634.2,936.36 L634.58,936.35 L635.06,936.34 L635.64,936.35 L636.31,936.37 L637.07,936.4 L637.9,936.45 L638.81,936.52 L639.78,936.61 L640.8,936.71 L641.86,936.83 L642.96,936.98 L644.07,937.15 L645.2,937.34 L646.33,937.55 L647.44,937.78 L648.54,938.04 L649.6,938.32 L650.62,938.61 L651.59,938.93 L652.5,939.27 L653.33,939.62 L654.09,939.99 L654.76,940.37 L655.34,940.76 L655.82,941.17 L656.2,941.58 L656.48,942 L656.64,942.42 L656.7,942.85" stroke="#3a3a3a" stroke-width="7.5" fill="none" stroke-linecap="butt"/>
<path d="M633.7,949.27 L633.76,949.25 L633.92,949.23 L634.2,949.21 L634.58,949.2 L635.06,949.19 L635.64,949.2 L636.31,949.22 L637.07,949.25 L637.9,949.3 L638.81,949.37 L639.78,949.46 L640.8,949.56 L641.86,949.68 L642.96,949.83 L644.07,950 L645.2,950.19 L646.33,950.4 L647.44,950.63 L648.54,950.89 L649.6,951.17 L650.62,951.46 L651.59,951.78 L652.5,952.12 L653.33,952.47 L654.09,952.84 L654.76,953.22 L655.34,953.61 L655.82,954.02 L656.2,954.43 L656.48,954.85 L656.64,955.27 L656.7,955.7" stroke="#3a3a3a" stroke-width="7.5" fill="none" stroke-linecap="butt"/>
<path d="M633.7,962.12 L633.76,962.1 L633.92,962.08 L634.2,962.06 L634.58,962.05 L635.06,962.04 L635.64,962.05 L636.31,962.07 L637.07,962.1 L637.9,962.15 L638.81,962.22 L639.78,962.31 L640.8,962.41 L641.86,962.53 L642.96,962.68 L644.07,962.85 L645.2,963.04 L646.33,963.25 L647.44,963.48 L648.54,963.74 L649.6,964.02 L650.62,964.31 L651.59,964.63 L652.5,964.97 L653.33,965.32 L654.09,965.69 L654.76,966.07 L655.34,966.46 L655.82,966.87 L656.2,967.28 L656.48,967.7 L656.64,968.12 L656.7,968.55" stroke="#3a3a3a" stroke-width="7.5" fill="none" stroke-linecap="butt"/>
<path d="M633.7,974.98 L633.76,974.95 L633.92,974.93 L634.2,974.91 L634.58,974.9 L635.06,974.89 L635.64,974.9 L636.31,974.92 L637.07,974.95 L637.9,975 L638.81,975.07 L639.78,975.16 L640.8,975.26 L641.86,975.38 L642.96,975.53 L644.07,975.7 L645.2,975.89 L646.33,976.1 L647.44,976.33 L648.54,976.59 L649.6,976.87 L650.62,977.16 L651.59,977.48 L652.5,977.82 L653.33,978.17 L654.09,978.54 L654.76,978.92 L655.34,979.31 L655.82,979.72 L656.2,980.13 L656.48,980.55 L656.64,980.97 L656.7,981.4" stroke="#3a3a3a" stroke-width="7.5" fill="none" stroke-linecap="butt"/>
<path d="M633.7,987.83 L633.76,987.8 L633.92,987.78 L634.2,987.76 L634.58,987.75 L635.06,987.74 L635.64,987.75 L636.31,987.77 L637.07,987.8 L637.9,987.85 L638.81,987.92 L639.78,988.01 L640.8,988.11 L641.86,988.23 L642.96,988.38 L644.07,988.55 L645.2,988.74 L646.33,988.95 L647.44,989.18 L648.54,989.44 L649.6,989.72 L650.62,990.01 L651.59,990.33 L652.5,990.67 L653.33,991.02 L654.09,991.39 L654.76,991.77 L655.34,992.16 L655.82,992.57 L656.2,992.98 L656.48,993.4 L656.64,993.82 L656.7,994.25" stroke="#3a3a3a" stroke-width="7.5" fill="none" stroke-linecap="butt"/>
<path d="M633.7,1000.67 L633.76,1000.65 L633.92,1000.63 L634.2,1000.61 L634.58,1000.6 L635.06,1000.59 L635.64,1000.6 L636.31,1000.62 L637.07,1000.65 L637.9,1000.7 L638.81,1000.77 L639.78,1000.86 L640.8,1000.96 L641.86,1001.08 L642.96,1001.23 L644.07,1001.4 L645.2,1001.59 L646.33,1001.8 L647.44,1002.03 L648.54,1002.29 L649.6,1002.57 L650.62,1002.86 L651.59,1003.18 L652.5,1003.52 L653.33,1003.87 L654.09,1004.24 L654.76,1004.62 L655.34,1005.01 L655.82,1005.42 L656.2,1005.83 L656.48,1006.25 L656.64,1006.67 L656.7,1007.1" stroke="#3a3a3a" stroke-width="7.5" fill="none" stroke-linecap="butt"/>
<path d="M633.7,1013.52 L633.76,1013.5 L633.92,1013.48 L634.2,1013.46 L634.58,1013.45 L635.06,1013.44 L635.64,1013.45 L636.31,1013.47 L637.07,1013.5 L637.9,1013.55 L638.81,1013.62 L639.78,1013.71 L640.8,1013.81 L641.86,1013.93 L642.96,1014.08 L644.07,1014.25 L645.2,1014.44 L646.33,1014.65 L647.44,1014.88 L648.54,1015.14 L649.6,1015.42 L650.62,1015.71 L651.59,1016.03 L652.5,1016.37 L653.33,1016.72 L654.09,1017.09 L654.76,1017.47 L655.34,1017.86 L655.82,1018.27 L656.2,1018.68 L656.48,1019.1 L656.64,1019.52 L656.7,1019.95" stroke="#3a3a3a" stroke-width="7.5" fill="none" stroke-linecap="butt"/>
<path d="M633.7,1026.38 L633.76,1026.35 L633.92,1026.33 L634.2,1026.31 L634.58,1026.3 L635.06,1026.29 L635.64,1026.3 L636.31,1026.32 L637.07,1026.35 L637.9,1026.4 L638.81,1026.47 L639.78,1026.56 L640.8,1026.66 L641.86,1026.78 L642.96,1026.93 L644.07,1027.1 L645.2,1027.29 L646.33,1027.5 L647.44,1027.73 L648.54,1027.99 L649.6,1028.27 L650.62,1028.56 L651.59,1028.88 L652.5,1029.22 L653.33,1029.57 L654.09,1029.94 L654.76,1030.32 L655.34,1030.71 L655.82,1031.12 L656.2,1031.53 L656.48,1031.95 L656.64,1032.37 L656.7,1032.8" stroke="#3a3a3a" stroke-width="7.5" fill="none" stroke-linecap="butt"/>
<path d="M633.7,1039.22 L633.76,1039.2 L633.92,1039.18 L634.2,1039.16 L634.58,1039.15 L635.06,1039.14 L635.64,1039.15 L636.31,1039.17 L637.07,1039.2 L637.9,1039.25 L638.81,1039.32 L639.78,1039.41 L640.8,1039.51 L641.86,1039.63 L642.96,1039.78 L644.07,1039.95 L645.2,1040.14 L646.33,1040.35 L647.44,1040.58 L648.54,1040.84 L649.6,1041.12 L650.62,1041.41 L651.59,1041.73 L652.5,1042.07 L653.33,1042.42 L654.09,1042.79 L654.76,1043.17 L655.34,1043.56 L655.82,1043.97 L656.2,1044.38 L656.48,1044.8 L656.64,1045.22 L656.7,1045.65" stroke="#3a3a3a" stroke-width="7.5" fill="none" stroke-linecap="butt"/>
<path d="M633.7,1052.08 L633.76,1052.05 L633.92,1052.03 L634.2,1052.01 L634.58,1052 L635.06,1051.99 L635.64,1052 L636.31,1052.02 L637.07,1052.05 L637.9,1052.1 L638.81,1052.17 L639.78,1052.26 L640.8,1052.36 L641.86,1052.48 L642.96,1052.63 L644.07,1052.8 L645.2,1052.99 L646.33,1053.2 L647.44,1053.43 L648.54,1053.69 L649.6,1053.97 L650.62,1054.26 L651.59,1054.58 L652.5,1054.92 L653.33,1055.27 L654.09,1055.64 L654.76,1056.02 L655.34,1056.41 L655.82,1056.82 L656.2,1057.23 L656.48,1057.65 L656.64,1058.07 L656.7,1058.5" stroke="#3a3a3a" stroke-width="7.5" fill="none" stroke-linecap="butt"/>
<path d="M633.7,1064.92 L633.76,1064.9 L633.92,1064.88 L634.2,1064.86 L634.58,1064.85 L635.06,1064.84 L635.64,1064.85 L636.31,1064.87 L637.07,1064.9 L637.9,1064.95 L638.81,1065.02 L639.78,1065.11 L640.8,1065.21 L641.86,1065.33 L642.96,1065.48 L644.07,1065.65 L645.2,1065.84 L646.33,1066.05 L647.44,1066.28 L648.54,1066.54 L649.6,1066.82 L650.62,1067.11 L651.59,1067.43 L652.5,1067.77 L653.33,1068.12 L654.09,1068.49 L654.76,1068.87 L655.34,1069.26 L655.82,1069.67 L656.2,1070.08 L656.48,1070.5 L656.64,1070.92 L656.7,1071.35" stroke="#3a3a3a" stroke-width="7.5" fill="none" stroke-linecap="butt"/>
<path d="M633.7,1077.78 L633.76,1077.75 L633.92,1077.73 L634.2,1077.71 L634.58,1077.7 L635.06,1077.69 L635.64,1077.7 L636.31,1077.72 L637.07,1077.75 L637.9,1077.8 L638.81,1077.87 L639.78,1077.96 L640.8,1078.06 L641.86,1078.18 L642.96,1078.33 L644.07,1078.5 L645.2,1078.69 L646.33,1078.9 L647.44,1079.13 L648.54,1079.39 L649.6,1079.67 L650.62,1079.96 L651.59,1080.28 L652.5,1080.62 L653.33,1080.97 L654.09,1081.34 L654.76,1081.72 L655.34,1082.11 L655.82,1082.52 L656.2,1082.93 L656.48,1083.35 L656.64,1083.77 L656.7,1084.2" stroke="#3a3a3a" stroke-width="7.5" fill="none" stroke-linecap="butt"/>
<path d="M633.7,1090.62 L633.76,1090.6 L633.92,1090.58 L634.2,1090.56 L634.58,1090.55 L635.06,1090.54 L635.64,1090.55 L636.31,1090.57 L637.07,1090.6 L637.9,1090.65 L638.81,1090.72 L639.78,1090.81 L640.8,1090.91 L641.86,1091.03 L642.96,1091.18 L644.07,1091.35 L645.2,1091.54 L646.33,1091.75 L647.44,1091.98 L648.54,1092.24 L649.6,1092.52 L650.62,1092.81 L651.59,1093.13 L652.5,1093.47 L653.33,1093.82 L654.09,1094.19 L654.76,1094.57 L655.34,1094.96 L655.82,1095.37 L656.2,1095.78 L656.48,1096.2 L656.64,1096.62 L656.7,1097.05" stroke="#3a3a3a" stroke-width="7.5" fill="none" stroke-linecap="butt"/>
<path d="M633.7,1103.47 L633.76,1103.45 L633.92,1103.43 L634.2,1103.41 L634.58,1103.4 L635.06,1103.39 L635.64,1103.4 L636.31,1103.42 L637.07,1103.45 L637.9,1103.5 L638.81,1103.57 L639.78,1103.66 L640.8,1103.76 L641.86,1103.88 L642.96,1104.03 L644.07,1104.2 L645.2,1104.39 L646.33,1104.6 L647.44,1104.83 L648.54,1105.09 L649.6,1105.37 L650.62,1105.66 L651.59,1105.98 L652.5,1106.32 L653.33,1106.67 L654.09,1107.04 L654.76,1107.42 L655.34,1107.81 L655.82,1108.22 L656.2,1108.63 L656.48,1109.05 L656.64,1109.47 L656.7,1109.9" stroke="#3a3a3a" stroke-width="7.5" fill="none" stroke-linecap="butt"/>
<path d="M633.7,1116.33 L633.76,1116.3 L633.92,1116.28 L634.2,1116.26 L634.58,1116.25 L635.06,1116.24 L635.64,1116.25 L636.31,1116.27 L637.07,1116.3 L637.9,1116.35 L638.81,1116.42 L639.78,1116.51 L640.8,1116.61 L641.86,1116.73 L642.96,1116.88 L644.07,1117.05 L645.2,1117.24 L646.33,1117.45 L647.44,1117.68 L648.54,1117.94 L649.6,1118.22 L650.62,1118.51 L651.59,1118.83 L652.5,1119.17 L653.33,1119.52 L654.09,1119.89 L654.76,1120.27 L655.34,1120.66 L655.82,1121.07 L656.2,1121.48 L656.48,1121.9 L656.64,1122.32 L656.7,1122.75" stroke="#3a3a3a" stroke-width="7.5" fill="none" stroke-linecap="butt"/>
<path d="M633.7,1129.17 L633.76,1129.15 L633.92,1129.13 L634.2,1129.11 L634.58,1129.1 L635.06,1129.09 L635.64,1129.1 L636.31,1129.12 L637.07,1129.15 L637.9,1129.2 L638.81,1129.27 L639.78,1129.36 L640.8,1129.46 L641.86,1129.58 L642.96,1129.73 L644.07,1129.9 L645.2,1130.09 L646.33,1130.3 L647.44,1130.53 L648.54,1130.79 L649.6,1131.07 L650.62,1131.36 L651.59,1131.68 L652.5,1132.02 L653.33,1132.37 L654.09,1132.74 L654.76,1133.12 L655.34,1133.51 L655.82,1133.92 L656.2,1134.33 L656.48,1134.75 L656.64,1135.17 L656.7,1135.6" stroke="#3a3a3a" stroke-width="7.5" fill="none" stroke-linecap="butt"/>
<path d="M633.7,1142.03 L633.76,1142 L633.92,1141.98 L634.2,1141.96 L634.58,1141.95 L635.06,1141.94 L635.64,1141.95 L636.31,1141.97 L637.07,1142 L637.9,1142.05 L638.81,1142.12 L639.78,1142.21 L640.8,1142.31 L641.86,1142.43 L642.96,1142.58 L644.07,1142.75 L645.2,1142.94 L646.33,1143.15 L647.44,1143.38 L648.54,1143.64 L649.6,1143.92 L650.62,1144.21 L651.59,1144.53 L652.5,1144.87 L653.33,1145.22 L654.09,1145.59 L654.76,1145.97 L655.34,1146.36 L655.82,1146.77 L656.2,1147.18 L656.48,1147.6 L656.64,1148.02 L656.7,1148.45" stroke="#3a3a3a" stroke-width="7.5" fill="none" stroke-linecap="butt"/>
<path d="M633.7,1154.88 L633.76,1154.85 L633.92,1154.83 L634.2,1154.81 L634.58,1154.8 L635.06,1154.79 L635.64,1154.8 L636.31,1154.82 L637.07,1154.85 L637.9,1154.9 L638.81,1154.97 L639.78,1155.06 L640.8,1155.16 L641.86,1155.28 L642.96,1155.43 L644.07,1155.6 L645.2,1155.79 L646.33,1156 L647.44,1156.23 L648.54,1156.49 L649.6,1156.77 L650.62,1157.06 L651.59,1157.38 L652.5,1157.72 L653.33,1158.07 L654.09,1158.44 L654.76,1158.82 L655.34,1159.21 L655.82,1159.62 L656.2,1160.03 L656.48,1160.45 L656.64,1160.87 L656.7,1161.3" stroke="#3a3a3a" stroke-width="7.5" fill="none" stroke-linecap="butt"/>
<path d="M633.7,936.42 L633.76,936.4 L633.92,936.38 L634.2,936.36 L634.58,936.35 L635.06,936.34 L635.64,936.35 L636.31,936.37 L637.07,936.4 L637.9,936.45 L638.81,936.52 L639.78,936.61 L640.8,936.71 L641.86,936.83 L642.96,936.98 L644.07,937.15 L645.2,937.34 L646.33,937.55 L647.44,937.78 L648.54,938.04 L649.6,938.32 L650.62,938.61 L651.59,938.93 L652.5,939.27 L653.33,939.62 L654.09,939.99 L654.76,940.37 L655.34,940.76 L655.82,941.17 L656.2,941.58 L656.48,942 L656.64,942.42 L656.7,942.85" stroke="#fff" stroke-width="5.699999999999999" fill="none" stroke-linecap="butt"/>
<path d="M633.7,949.27 L633.76,949.25 L633.92,949.23 L634.2,949.21 L634.58,949.2 L635.06,949.19 L635.64,949.2 L636.31,949.22 L637.07,949.25 L637.9,949.3 L638.81,949.37 L639.78,949.46 L640.8,949.56 L641.86,949.68 L642.96,949.83 L644.07,950 L645.2,950.19 L646.33,950.4 L647.44,950.63 L648.54,950.89 L649.6,951.17 L650.62,951.46 L651.59,951.78 L652.5,952.12 L653.33,952.47 L654.09,952.84 L654.76,953.22 L655.34,953.61 L655.82,954.02 L656.2,954.43 L656.48,954.85 L656.64,955.27 L656.7,955.7" stroke="#fff" stroke-width="5.699999999999999" fill="none" stroke-linecap="butt"/>
<path d="M633.7,962.12 L633.76,962.1 L633.92,962.08 L634.2,962.06 L634.58,962.05 L635.06,962.04 L635.64,962.05 L636.31,962.07 L637.07,962.1 L637.9,962.15 L638.81,962.22 L639.78,962.31 L640.8,962.41 L641.86,962.53 L642.96,962.68 L644.07,962.85 L645.2,963.04 L646.33,963.25 L647.44,963.48 L648.54,963.74 L649.6,964.02 L650.62,964.31 L651.59,964.63 L652.5,964.97 L653.33,965.32 L654.09,965.69 L654.76,966.07 L655.34,966.46 L655.82,966.87 L656.2,967.28 L656.48,967.7 L656.64,968.12 L656.7,968.55" stroke="#fff" stroke-width="5.699999999999999" fill="none" stroke-linecap="butt"/>
<path d="M633.7,974.98 L633.76,974.95 L633.92,974.93 L634.2,974.91 L634.58,974.9 L635.06,974.89 L635.64,974.9 L636.31,974.92 L637.07,974.95 L637.9,975 L638.81,975.07 L639.78,975.16 L640.8,975.26 L641.86,975.38 L642.96,975.53 L644.07,975.7 L645.2,975.89 L646.33,976.1 L647.44,976.33 L648.54,976.59 L649.6,976.87 L650.62,977.16 L651.59,977.48 L652.5,977.82 L653.33,978.17 L654.09,978.54 L654.76,978.92 L655.34,979.31 L655.82,979.72 L656.2,980.13 L656.48,980.55 L656.64,980.97 L656.7,981.4" stroke="#fff" stroke-width="5.699999999999999" fill="none" stroke-linecap="butt"/>
<path d="M633.7,987.83 L633.76,987.8 L633.92,987.78 L634.2,987.76 L634.58,987.75 L635.06,987.74 L635.64,987.75 L636.31,987.77 L637.07,987.8 L637.9,987.85 L638.81,987.92 L639.78,988.01 L640.8,988.11 L641.86,988.23 L642.96,988.38 L644.07,988.55 L645.2,988.74 L646.33,988.95 L647.44,989.18 L648.54,989.44 L649.6,989.72 L650.62,990.01 L651.59,990.33 L652.5,990.67 L653.33,991.02 L654.09,991.39 L654.76,991.77 L655.34,992.16 L655.82,992.57 L656.2,992.98 L656.48,993.4 L656.64,993.82 L656.7,994.25" stroke="#fff" stroke-width="5.699999999999999" fill="none" stroke-linecap="butt"/>
<path d="M633.7,1000.67 L633.76,1000.65 L633.92,1000.63 L634.2,1000.61 L634.58,1000.6 L635.06,1000.59 L635.64,1000.6 L636.31,1000.62 L637.07,1000.65 L637.9,1000.7 L638.81,1000.77 L639.78,1000.86 L640.8,1000.96 L641.86,1001.08 L642.96,1001.23 L644.07,1001.4 L645.2,1001.59 L646.33,1001.8 L647.44,1002.03 L648.54,1002.29 L649.6,1002.57 L650.62,1002.86 L651.59,1003.18 L652.5,1003.52 L653.33,1003.87 L654.09,1004.24 L654.76,1004.62 L655.34,1005.01 L655.82,1005.42 L656.2,1005.83 L656.48,1006.25 L656.64,1006.67 L656.7,1007.1" stroke="#fff" stroke-width="5.699999999999999" fill="none" stroke-linecap="butt"/>
<path d="M633.7,1013.52 L633.76,1013.5 L633.92,1013.48 L634.2,1013.46 L634.58,1013.45 L635.06,1013.44 L635.64,1013.45 L636.31,1013.47 L637.07,1013.5 L637.9,1013.55 L638.81,1013.62 L639.78,1013.71 L640.8,1013.81 L641.86,1013.93 L642.96,1014.08 L644.07,1014.25 L645.2,1014.44 L646.33,1014.65 L647.44,1014.88 L648.54,1015.14 L649.6,1015.42 L650.62,1015.71 L651.59,1016.03 L652.5,1016.37 L653.33,1016.72 L654.09,1017.09 L654.76,1017.47 L655.34,1017.86 L655.82,1018.27 L656.2,1018.68 L656.48,1019.1 L656.64,1019.52 L656.7,1019.95" stroke="#fff" stroke-width="5.699999999999999" fill="none" stroke-linecap="butt"/>
<path d="M633.7,1026.38 L633.76,1026.35 L633.92,1026.33 L634.2,1026.31 L634.58,1026.3 L635.06,1026.29 L635.64,1026.3 L636.31,1026.32 L637.07,1026.35 L637.9,1026.4 L638.81,1026.47 L639.78,1026.56 L640.8,1026.66 L641.86,1026.78 L642.96,1026.93 L644.07,1027.1 L645.2,1027.29 L646.33,1027.5 L647.44,1027.73 L648.54,1027.99 L649.6,1028.27 L650.62,1028.56 L651.59,1028.88 L652.5,1029.22 L653.33,1029.57 L654.09,1029.94 L654.76,1030.32 L655.34,1030.71 L655.82,1031.12 L656.2,1031.53 L656.48,1031.95 L656.64,1032.37 L656.7,1032.8" stroke="#fff" stroke-width="5.699999999999999" fill="none" stroke-linecap="butt"/>
<path d="M633.7,1039.22 L633.76,1039.2 L633.92,1039.18 L634.2,1039.16 L634.58,1039.15 L635.06,1039.14 L635.64,1039.15 L636.31,1039.17 L637.07,1039.2 L637.9,1039.25 L638.81,1039.32 L639.78,1039.41 L640.8,1039.51 L641.86,1039.63 L642.96,1039.78 L644.07,1039.95 L645.2,1040.14 L646.33,1040.35 L647.44,1040.58 L648.54,1040.84 L649.6,1041.12 L650.62,1041.41 L651.59,1041.73 L652.5,1042.07 L653.33,1042.42 L654.09,1042.79 L654.76,1043.17 L655.34,1043.56 L655.82,1043.97 L656.2,1044.38 L656.48,1044.8 L656.64,1045.22 L656.7,1045.65" stroke="#fff" stroke-width="5.699999999999999" fill="none" stroke-linecap="butt"/>
<path d="M633.7,1052.08 L633.76,1052.05 L633.92,1052.03 L634.2,1052.01 L634.58,1052 L635.06,1051.99 L635.64,1052 L636.31,1052.02 L637.07,1052.05 L637.9,1052.1 L638.81,1052.17 L639.78,1052.26 L640.8,1052.36 L641.86,1052.48 L642.96,1052.63 L644.07,1052.8 L645.2,1052.99 L646.33,1053.2 L647.44,1053.43 L648.54,1053.69 L649.6,1053.97 L650.62,1054.26 L651.59,1054.58 L652.5,1054.92 L653.33,1055.27 L654.09,1055.64 L654.76,1056.02 L655.34,1056.41 L655.82,1056.82 L656.2,1057.23 L656.48,1057.65 L656.64,1058.07 L656.7,1058.5" stroke="#fff" stroke-width="5.699999999999999" fill="none" stroke-linecap="butt"/>
<path d="M633.7,1064.92 L633.76,1064.9 L633.92,1064.88 L634.2,1064.86 L634.58,1064.85 L635.06,1064.84 L635.64,1064.85 L636.31,1064.87 L637.07,1064.9 L637.9,1064.95 L638.81,1065.02 L639.78,1065.11 L640.8,1065.21 L641.86,1065.33 L642.96,1065.48 L644.07,1065.65 L645.2,1065.84 L646.33,1066.05 L647.44,1066.28 L648.54,1066.54 L649.6,1066.82 L650.62,1067.11 L651.59,1067.43 L652.5,1067.77 L653.33,1068.12 L654.09,1068.49 L654.76,1068.87 L655.34,1069.26 L655.82,1069.67 L656.2,1070.08 L656.48,1070.5 L656.64,1070.92 L656.7,1071.35" stroke="#fff" stroke-width="5.699999999999999" fill="none" stroke-linecap="butt"/>
<path d="M633.7,1077.78 L633.76,1077.75 L633.92,1077.73 L634.2,1077.71 L634.58,1077.7 L635.06,1077.69 L635.64,1077.7 L636.31,1077.72 L637.07,1077.75 L637.9,1077.8 L638.81,1077.87 L639.78,1077.96 L640.8,1078.06 L641.86,1078.18 L642.96,1078.33 L644.07,1078.5 L645.2,1078.69 L646.33,1078.9 L647.44,1079.13 L648.54,1079.39 L649.6,1079.67 L650.62,1079.96 L651.59,1080.28 L652.5,1080.62 L653.33,1080.97 L654.09,1081.34 L654.76,1081.72 L655.34,1082.11 L655.82,1082.52 L656.2,1082.93 L656.48,1083.35 L656.64,1083.77 L656.7,1084.2" stroke="#fff" stroke-width="5.699999999999999" fill="none" stroke-linecap="butt"/>
<path d="M633.7,1090.62 L633.76,1090.6 L633.92,1090.58 L634.2,1090.56 L634.58,1090.55 L635.06,1090.54 L635.64,1090.55 L636.31,1090.57 L637.07,1090.6 L637.9,1090.65 L638.81,1090.72 L639.78,1090.81 L640.8,1090.91 L641.86,1091.03 L642.96,1091.18 L644.07,1091.35 L645.2,1091.54 L646.33,1091.75 L647.44,1091.98 L648.54,1092.24 L649.6,1092.52 L650.62,1092.81 L651.59,1093.13 L652.5,1093.47 L653.33,1093.82 L654.09,1094.19 L654.76,1094.57 L655.34,1094.96 L655.82,1095.37 L656.2,1095.78 L656.48,1096.2 L656.64,1096.62 L656.7,1097.05" stroke="#fff" stroke-width="5.699999999999999" fill="none" stroke-linecap="butt"/>
<path d="M633.7,1103.47 L633.76,1103.45 L633.92,1103.43 L634.2,1103.41 L634.58,1103.4 L635.06,1103.39 L635.64,1103.4 L636.31,1103.42 L637.07,1103.45 L637.9,1103.5 L638.81,1103.57 L639.78,1103.66 L640.8,1103.76 L641.86,1103.88 L642.96,1104.03 L644.07,1104.2 L645.2,1104.39 L646.33,1104.6 L647.44,1104.83 L648.54,1105.09 L649.6,1105.37 L650.62,1105.66 L651.59,1105.98 L652.5,1106.32 L653.33,1106.67 L654.09,1107.04 L654.76,1107.42 L655.34,1107.81 L655.82,1108.22 L656.2,1108.63 L656.48,1109.05 L656.64,1109.47 L656.7,1109.9" stroke="#fff" stroke-width="5.699999999999999" fill="none" stroke-linecap="butt"/>
<path d="M633.7,1116.33 L633.76,1116.3 L633.92,1116.28 L634.2,1116.26 L634.58,1116.25 L635.06,1116.24 L635.64,1116.25 L636.31,1116.27 L637.07,1116.3 L637.9,1116.35 L638.81,1116.42 L639.78,1116.51 L640.8,1116.61 L641.86,1116.73 L642.96,1116.88 L644.07,1117.05 L645.2,1117.24 L646.33,1117.45 L647.44,1117.68 L648.54,1117.94 L649.6,1118.22 L650.62,1118.51 L651.59,1118.83 L652.5,1119.17 L653.33,1119.52 L654.09,1119.89 L654.76,1120.27 L655.34,1120.66 L655.82,1121.07 L656.2,1121.48 L656.48,1121.9 L656.64,1122.32 L656.7,1122.75" stroke="#fff" stroke-width="5.699999999999999" fill="none" stroke-linecap="butt"/>
<path d="M633.7,1129.17 L633.76,1129.15 L633.92,1129.13 L634.2,1129.11 L634.58,1129.1 L635.06,1129.09 L635.64,1129.1 L636.31,1129.12 L637.07,1129.15 L637.9,1129.2 L638.81,1129.27 L639.78,1129.36 L640.8,1129.46 L641.86,1129.58 L642.96,1129.73 L644.07,1129.9 L645.2,1130.09 L646.33,1130.3 L647.44,1130.53 L648.54,1130.79 L649.6,1131.07 L650.62,1131.36 L651.59,1131.68 L652.5,1132.02 L653.33,1132.37 L654.09,1132.74 L654.76,1133.12 L655.34,1133.51 L655.82,1133.92 L656.2,1134.33 L656.48,1134.75 L656.64,1135.17 L656.7,1135.6" stroke="#fff" stroke-width="5.699999999999999" fill="none" stroke-linecap="butt"/>
<path d="M633.7,1142.03 L633.76,1142 L633.92,1141.98 L634.2,1141.96 L634.58,1141.95 L635.06,1141.94 L635.64,1141.95 L636.31,1141.97 L637.07,1142 L637.9,1142.05 L638.81,1142.12 L639.78,1142.21 L640.8,1142.31 L641.86,1142.43 L642.96,1142.58 L644.07,1142.75 L645.2,1142.94 L646.33,1143.15 L647.44,1143.38 L648.54,1143.64 L649.6,1143.92 L650.62,1144.21 L651.59,1144.53 L652.5,1144.87 L653.33,1145.22 L654.09,1145.59 L654.76,1145.97 L655.34,1146.36 L655.82,1146.77 L656.2,1147.18 L656.48,1147.6 L656.64,1148.02 L656.7,1148.45" stroke="#fff" stroke-width="5.699999999999999" fill="none" stroke-linecap="butt"/>
<path d="M633.7,1154.88 L633.76,1154.85 L633.92,1154.83 L634.2,1154.81 L634.58,1154.8 L635.06,1154.79 L635.64,1154.8 L636.31,1154.82 L637.07,1154.85 L637.9,1154.9 L638.81,1154.97 L639.78,1155.06 L640.8,1155.16 L641.86,1155.28 L642.96,1155.43 L644.07,1155.6 L645.2,1155.79 L646.33,1156 L647.44,1156.23 L648.54,1156.49 L649.6,1156.77 L650.62,1157.06 L651.59,1157.38 L652.5,1157.72 L653.33,1158.07 L654.09,1158.44 L654.76,1158.82 L655.34,1159.21 L655.82,1159.62 L656.2,1160.03 L656.48,1160.45 L656.64,1160.87 L656.7,1161.3" stroke="#fff" stroke-width="5.699999999999999" fill="none" stroke-linecap="butt"/>
<path d="M656.7,930 L656.64,930.43 L656.48,930.85 L656.2,931.27 L655.82,931.68 L655.34,932.09 L654.76,932.48 L654.09,932.86 L653.33,933.23 L652.5,933.58 L651.59,933.92 L650.62,934.24 L649.6,934.53 L648.54,934.81 L647.44,935.07 L646.33,935.3 L645.2,935.51 L644.07,935.7 L642.96,935.87 L641.86,936.02 L640.8,936.14 L639.78,936.24 L638.81,936.33 L637.9,936.4 L637.07,936.45 L636.31,936.48 L635.64,936.5 L635.06,936.51 L634.58,936.5 L634.2,936.49 L633.92,936.47 L633.76,936.45 L633.7,936.42" stroke="#3a3a3a" stroke-width="7.5" fill="none" stroke-linecap="round"/>
<path d="M656.7,930 L656.64,930.43 L656.48,930.85 L656.2,931.27 L655.82,931.68 L655.34,932.09 L654.76,932.48 L654.09,932.86 L653.33,933.23 L652.5,933.58 L651.59,933.92 L650.62,934.24 L649.6,934.53 L648.54,934.81 L647.44,935.07 L646.33,935.3 L645.2,935.51 L644.07,935.7 L642.96,935.87 L641.86,936.02 L640.8,936.14 L639.78,936.24 L638.81,936.33 L637.9,936.4 L637.07,936.45 L636.31,936.48 L635.64,936.5 L635.06,936.51 L634.58,936.5 L634.2,936.49 L633.92,936.47 L633.76,936.45 L633.7,936.42" stroke="#fff" stroke-width="5.699999999999999" fill="none" stroke-linecap="round"/>
<path d="M656.7,942.85 L656.64,943.28 L656.48,943.7 L656.2,944.12 L655.82,944.53 L655.34,944.94 L654.76,945.33 L654.09,945.71 L653.33,946.08 L652.5,946.43 L651.59,946.77 L650.62,947.09 L649.6,947.38 L648.54,947.66 L647.44,947.92 L646.33,948.15 L645.2,948.36 L644.07,948.55 L642.96,948.72 L641.86,948.87 L640.8,948.99 L639.78,949.09 L638.81,949.18 L637.9,949.25 L637.07,949.3 L636.31,949.33 L635.64,949.35 L635.06,949.36 L634.58,949.35 L634.2,949.34 L633.92,949.32 L633.76,949.3 L633.7,949.27" stroke="#3a3a3a" stroke-width="7.5" fill="none" stroke-linecap="round"/>
<path d="M656.7,942.85 L656.64,943.28 L656.48,943.7 L656.2,944.12 L655.82,944.53 L655.34,944.94 L654.76,945.33 L654.09,945.71 L653.33,946.08 L652.5,946.43 L651.59,946.77 L650.62,947.09 L649.6,947.38 L648.54,947.66 L647.44,947.92 L646.33,948.15 L645.2,948.36 L644.07,948.55 L642.96,948.72 L641.86,948.87 L640.8,948.99 L639.78,949.09 L638.81,949.18 L637.9,949.25 L637.07,949.3 L636.31,949.33 L635.64,949.35 L635.06,949.36 L634.58,949.35 L634.2,949.34 L633.92,949.32 L633.76,949.3 L633.7,949.27" stroke="#fff" stroke-width="5.699999999999999" fill="none" stroke-linecap="round"/>
<path d="M656.7,955.7 L656.64,956.13 L656.48,956.55 L656.2,956.97 L655.82,957.38 L655.34,957.79 L654.76,958.18 L654.09,958.56 L653.33,958.93 L652.5,959.28 L651.59,959.62 L650.62,959.94 L649.6,960.23 L648.54,960.51 L647.44,960.77 L646.33,961 L645.2,961.21 L644.07,961.4 L642.96,961.57 L641.86,961.72 L640.8,961.84 L639.78,961.94 L638.81,962.03 L637.9,962.1 L637.07,962.15 L636.31,962.18 L635.64,962.2 L635.06,962.21 L634.58,962.2 L634.2,962.19 L633.92,962.17 L633.76,962.15 L633.7,962.12" stroke="#3a3a3a" stroke-width="7.5" fill="none" stroke-linecap="round"/>
<path d="M656.7,955.7 L656.64,956.13 L656.48,956.55 L656.2,956.97 L655.82,957.38 L655.34,957.79 L654.76,958.18 L654.09,958.56 L653.33,958.93 L652.5,959.28 L651.59,959.62 L650.62,959.94 L649.6,960.23 L648.54,960.51 L647.44,960.77 L646.33,961 L645.2,961.21 L644.07,961.4 L642.96,961.57 L641.86,961.72 L640.8,961.84 L639.78,961.94 L638.81,962.03 L637.9,962.1 L637.07,962.15 L636.31,962.18 L635.64,962.2 L635.06,962.21 L634.58,962.2 L634.2,962.19 L633.92,962.17 L633.76,962.15 L633.7,962.12" stroke="#fff" stroke-width="5.699999999999999" fill="none" stroke-linecap="round"/>
<path d="M656.7,968.55 L656.64,968.98 L656.48,969.4 L656.2,969.82 L655.82,970.23 L655.34,970.64 L654.76,971.03 L654.09,971.41 L653.33,971.78 L652.5,972.13 L651.59,972.47 L650.62,972.79 L649.6,973.08 L648.54,973.36 L647.44,973.62 L646.33,973.85 L645.2,974.06 L644.07,974.25 L642.96,974.42 L641.86,974.57 L640.8,974.69 L639.78,974.79 L638.81,974.88 L637.9,974.95 L637.07,975 L636.31,975.03 L635.64,975.05 L635.06,975.06 L634.58,975.05 L634.2,975.04 L633.92,975.02 L633.76,975 L633.7,974.98" stroke="#3a3a3a" stroke-width="7.5" fill="none" stroke-linecap="round"/>
<path d="M656.7,968.55 L656.64,968.98 L656.48,969.4 L656.2,969.82 L655.82,970.23 L655.34,970.64 L654.76,971.03 L654.09,971.41 L653.33,971.78 L652.5,972.13 L651.59,972.47 L650.62,972.79 L649.6,973.08 L648.54,973.36 L647.44,973.62 L646.33,973.85 L645.2,974.06 L644.07,974.25 L642.96,974.42 L641.86,974.57 L640.8,974.69 L639.78,974.79 L638.81,974.88 L637.9,974.95 L637.07,975 L636.31,975.03 L635.64,975.05 L635.06,975.06 L634.58,975.05 L634.2,975.04 L633.92,975.02 L633.76,975 L633.7,974.98" stroke="#fff" stroke-width="5.699999999999999" fill="none" stroke-linecap="round"/>
<path d="M656.7,981.4 L656.64,981.83 L656.48,982.25 L656.2,982.67 L655.82,983.08 L655.34,983.49 L654.76,983.88 L654.09,984.26 L653.33,984.63 L652.5,984.98 L651.59,985.32 L650.62,985.64 L649.6,985.93 L648.54,986.21 L647.44,986.47 L646.33,986.7 L645.2,986.91 L644.07,987.1 L642.96,987.27 L641.86,987.42 L640.8,987.54 L639.78,987.64 L638.81,987.73 L637.9,987.8 L637.07,987.85 L636.31,987.88 L635.64,987.9 L635.06,987.91 L634.58,987.9 L634.2,987.89 L633.92,987.87 L633.76,987.85 L633.7,987.83" stroke="#3a3a3a" stroke-width="7.5" fill="none" stroke-linecap="round"/>
<path d="M656.7,981.4 L656.64,981.83 L656.48,982.25 L656.2,982.67 L655.82,983.08 L655.34,983.49 L654.76,983.88 L654.09,984.26 L653.33,984.63 L652.5,984.98 L651.59,985.32 L650.62,985.64 L649.6,985.93 L648.54,986.21 L647.44,986.47 L646.33,986.7 L645.2,986.91 L644.07,987.1 L642.96,987.27 L641.86,987.42 L640.8,987.54 L639.78,987.64 L638.81,987.73 L637.9,987.8 L637.07,987.85 L636.31,987.88 L635.64,987.9 L635.06,987.91 L634.58,987.9 L634.2,987.89 L633.92,987.87 L633.76,987.85 L633.7,987.83" stroke="#fff" stroke-width="5.699999999999999" fill="none" stroke-linecap="round"/>
<path d="M656.7,994.25 L656.64,994.68 L656.48,995.1 L656.2,995.52 L655.82,995.93 L655.34,996.34 L654.76,996.73 L654.09,997.11 L653.33,997.48 L652.5,997.83 L651.59,998.17 L650.62,998.49 L649.6,998.78 L648.54,999.06 L647.44,999.32 L646.33,999.55 L645.2,999.76 L644.07,999.95 L642.96,1000.12 L641.86,1000.27 L640.8,1000.39 L639.78,1000.49 L638.81,1000.58 L637.9,1000.65 L637.07,1000.7 L636.31,1000.73 L635.64,1000.75 L635.06,1000.76 L634.58,1000.75 L634.2,1000.74 L633.92,1000.72 L633.76,1000.7 L633.7,1000.67" stroke="#3a3a3a" stroke-width="7.5" fill="none" stroke-linecap="round"/>
<path d="M656.7,994.25 L656.64,994.68 L656.48,995.1 L656.2,995.52 L655.82,995.93 L655.34,996.34 L654.76,996.73 L654.09,997.11 L653.33,997.48 L652.5,997.83 L651.59,998.17 L650.62,998.49 L649.6,998.78 L648.54,999.06 L647.44,999.32 L646.33,999.55 L645.2,999.76 L644.07,999.95 L642.96,1000.12 L641.86,1000.27 L640.8,1000.39 L639.78,1000.49 L638.81,1000.58 L637.9,1000.65 L637.07,1000.7 L636.31,1000.73 L635.64,1000.75 L635.06,1000.76 L634.58,1000.75 L634.2,1000.74 L633.92,1000.72 L633.76,1000.7 L633.7,1000.67" stroke="#fff" stroke-width="5.699999999999999" fill="none" stroke-linecap="round"/>
<path d="M656.7,1007.1 L656.64,1007.53 L656.48,1007.95 L656.2,1008.37 L655.82,1008.78 L655.34,1009.19 L654.76,1009.58 L654.09,1009.96 L653.33,1010.33 L652.5,1010.68 L651.59,1011.02 L650.62,1011.34 L649.6,1011.63 L648.54,1011.91 L647.44,1012.17 L646.33,1012.4 L645.2,1012.61 L644.07,1012.8 L642.96,1012.97 L641.86,1013.12 L640.8,1013.24 L639.78,1013.34 L638.81,1013.43 L637.9,1013.5 L637.07,1013.55 L636.31,1013.58 L635.64,1013.6 L635.06,1013.61 L634.58,1013.6 L634.2,1013.59 L633.92,1013.57 L633.76,1013.55 L633.7,1013.52" stroke="#3a3a3a" stroke-width="7.5" fill="none" stroke-linecap="round"/>
<path d="M656.7,1007.1 L656.64,1007.53 L656.48,1007.95 L656.2,1008.37 L655.82,1008.78 L655.34,1009.19 L654.76,1009.58 L654.09,1009.96 L653.33,1010.33 L652.5,1010.68 L651.59,1011.02 L650.62,1011.34 L649.6,1011.63 L648.54,1011.91 L647.44,1012.17 L646.33,1012.4 L645.2,1012.61 L644.07,1012.8 L642.96,1012.97 L641.86,1013.12 L640.8,1013.24 L639.78,1013.34 L638.81,1013.43 L637.9,1013.5 L637.07,1013.55 L636.31,1013.58 L635.64,1013.6 L635.06,1013.61 L634.58,1013.6 L634.2,1013.59 L633.92,1013.57 L633.76,1013.55 L633.7,1013.52" stroke="#fff" stroke-width="5.699999999999999" fill="none" stroke-linecap="round"/>
<path d="M656.7,1019.95 L656.64,1020.38 L656.48,1020.8 L656.2,1021.22 L655.82,1021.63 L655.34,1022.04 L654.76,1022.43 L654.09,1022.81 L653.33,1023.18 L652.5,1023.53 L651.59,1023.87 L650.62,1024.19 L649.6,1024.48 L648.54,1024.76 L647.44,1025.02 L646.33,1025.25 L645.2,1025.46 L644.07,1025.65 L642.96,1025.82 L641.86,1025.97 L640.8,1026.09 L639.78,1026.19 L638.81,1026.28 L637.9,1026.35 L637.07,1026.4 L636.31,1026.43 L635.64,1026.45 L635.06,1026.46 L634.58,1026.45 L634.2,1026.44 L633.92,1026.42 L633.76,1026.4 L633.7,1026.38" stroke="#3a3a3a" stroke-width="7.5" fill="none" stroke-linecap="round"/>
<path d="M656.7,1019.95 L656.64,1020.38 L656.48,1020.8 L656.2,1021.22 L655.82,1021.63 L655.34,1022.04 L654.76,1022.43 L654.09,1022.81 L653.33,1023.18 L652.5,1023.53 L651.59,1023.87 L650.62,1024.19 L649.6,1024.48 L648.54,1024.76 L647.44,1025.02 L646.33,1025.25 L645.2,1025.46 L644.07,1025.65 L642.96,1025.82 L641.86,1025.97 L640.8,1026.09 L639.78,1026.19 L638.81,1026.28 L637.9,1026.35 L637.07,1026.4 L636.31,1026.43 L635.64,1026.45 L635.06,1026.46 L634.58,1026.45 L634.2,1026.44 L633.92,1026.42 L633.76,1026.4 L633.7,1026.38" stroke="#fff" stroke-width="5.699999999999999" fill="none" stroke-linecap="round"/>
<path d="M656.7,1032.8 L656.64,1033.23 L656.48,1033.65 L656.2,1034.07 L655.82,1034.48 L655.34,1034.89 L654.76,1035.28 L654.09,1035.66 L653.33,1036.03 L652.5,1036.38 L651.59,1036.72 L650.62,1037.04 L649.6,1037.33 L648.54,1037.61 L647.44,1037.87 L646.33,1038.1 L645.2,1038.31 L644.07,1038.5 L642.96,1038.67 L641.86,1038.82 L640.8,1038.94 L639.78,1039.04 L638.81,1039.13 L637.9,1039.2 L637.07,1039.25 L636.31,1039.28 L635.64,1039.3 L635.06,1039.31 L634.58,1039.3 L634.2,1039.29 L633.92,1039.27 L633.76,1039.25 L633.7,1039.22" stroke="#3a3a3a" stroke-width="7.5" fill="none" stroke-linecap="round"/>
<path d="M656.7,1032.8 L656.64,1033.23 L656.48,1033.65 L656.2,1034.07 L655.82,1034.48 L655.34,1034.89 L654.76,1035.28 L654.09,1035.66 L653.33,1036.03 L652.5,1036.38 L651.59,1036.72 L650.62,1037.04 L649.6,1037.33 L648.54,1037.61 L647.44,1037.87 L646.33,1038.1 L645.2,1038.31 L644.07,1038.5 L642.96,1038.67 L641.86,1038.82 L640.8,1038.94 L639.78,1039.04 L638.81,1039.13 L637.9,1039.2 L637.07,1039.25 L636.31,1039.28 L635.64,1039.3 L635.06,1039.31 L634.58,1039.3 L634.2,1039.29 L633.92,1039.27 L633.76,1039.25 L633.7,1039.22" stroke="#fff" stroke-width="5.699999999999999" fill="none" stroke-linecap="round"/>
<path d="M656.7,1045.65 L656.64,1046.08 L656.48,1046.5 L656.2,1046.92 L655.82,1047.33 L655.34,1047.74 L654.76,1048.13 L654.09,1048.51 L653.33,1048.88 L652.5,1049.23 L651.59,1049.57 L650.62,1049.89 L649.6,1050.18 L648.54,1050.46 L647.44,1050.72 L646.33,1050.95 L645.2,1051.16 L644.07,1051.35 L642.96,1051.52 L641.86,1051.67 L640.8,1051.79 L639.78,1051.89 L638.81,1051.98 L637.9,1052.05 L637.07,1052.1 L636.31,1052.13 L635.64,1052.15 L635.06,1052.16 L634.58,1052.15 L634.2,1052.14 L633.92,1052.12 L633.76,1052.1 L633.7,1052.08" stroke="#3a3a3a" stroke-width="7.5" fill="none" stroke-linecap="round"/>
<path d="M656.7,1045.65 L656.64,1046.08 L656.48,1046.5 L656.2,1046.92 L655.82,1047.33 L655.34,1047.74 L654.76,1048.13 L654.09,1048.51 L653.33,1048.88 L652.5,1049.23 L651.59,1049.57 L650.62,1049.89 L649.6,1050.18 L648.54,1050.46 L647.44,1050.72 L646.33,1050.95 L645.2,1051.16 L644.07,1051.35 L642.96,1051.52 L641.86,1051.67 L640.8,1051.79 L639.78,1051.89 L638.81,1051.98 L637.9,1052.05 L637.07,1052.1 L636.31,1052.13 L635.64,1052.15 L635.06,1052.16 L634.58,1052.15 L634.2,1052.14 L633.92,1052.12 L633.76,1052.1 L633.7,1052.08" stroke="#fff" stroke-width="5.699999999999999" fill="none" stroke-linecap="round"/>
<path d="M656.7,1058.5 L656.64,1058.93 L656.48,1059.35 L656.2,1059.77 L655.82,1060.18 L655.34,1060.59 L654.76,1060.98 L654.09,1061.36 L653.33,1061.73 L652.5,1062.08 L651.59,1062.42 L650.62,1062.74 L649.6,1063.03 L648.54,1063.31 L647.44,1063.57 L646.33,1063.8 L645.2,1064.01 L644.07,1064.2 L642.96,1064.37 L641.86,1064.52 L640.8,1064.64 L639.78,1064.74 L638.81,1064.83 L637.9,1064.9 L637.07,1064.95 L636.31,1064.98 L635.64,1065 L635.06,1065.01 L634.58,1065 L634.2,1064.99 L633.92,1064.97 L633.76,1064.95 L633.7,1064.92" stroke="#3a3a3a" stroke-width="7.5" fill="none" stroke-linecap="round"/>
<path d="M656.7,1058.5 L656.64,1058.93 L656.48,1059.35 L656.2,1059.77 L655.82,1060.18 L655.34,1060.59 L654.76,1060.98 L654.09,1061.36 L653.33,1061.73 L652.5,1062.08 L651.59,1062.42 L650.62,1062.74 L649.6,1063.03 L648.54,1063.31 L647.44,1063.57 L646.33,1063.8 L645.2,1064.01 L644.07,1064.2 L642.96,1064.37 L641.86,1064.52 L640.8,1064.64 L639.78,1064.74 L638.81,1064.83 L637.9,1064.9 L637.07,1064.95 L636.31,1064.98 L635.64,1065 L635.06,1065.01 L634.58,1065 L634.2,1064.99 L633.92,1064.97 L633.76,1064.95 L633.7,1064.92" stroke="#fff" stroke-width="5.699999999999999" fill="none" stroke-linecap="round"/>
<path d="M656.7,1071.35 L656.64,1071.78 L656.48,1072.2 L656.2,1072.62 L655.82,1073.03 L655.34,1073.44 L654.76,1073.83 L654.09,1074.21 L653.33,1074.58 L652.5,1074.93 L651.59,1075.27 L650.62,1075.59 L649.6,1075.88 L648.54,1076.16 L647.44,1076.42 L646.33,1076.65 L645.2,1076.86 L644.07,1077.05 L642.96,1077.22 L641.86,1077.37 L640.8,1077.49 L639.78,1077.59 L638.81,1077.68 L637.9,1077.75 L637.07,1077.8 L636.31,1077.83 L635.64,1077.85 L635.06,1077.86 L634.58,1077.85 L634.2,1077.84 L633.92,1077.82 L633.76,1077.8 L633.7,1077.78" stroke="#3a3a3a" stroke-width="7.5" fill="none" stroke-linecap="round"/>
<path d="M656.7,1071.35 L656.64,1071.78 L656.48,1072.2 L656.2,1072.62 L655.82,1073.03 L655.34,1073.44 L654.76,1073.83 L654.09,1074.21 L653.33,1074.58 L652.5,1074.93 L651.59,1075.27 L650.62,1075.59 L649.6,1075.88 L648.54,1076.16 L647.44,1076.42 L646.33,1076.65 L645.2,1076.86 L644.07,1077.05 L642.96,1077.22 L641.86,1077.37 L640.8,1077.49 L639.78,1077.59 L638.81,1077.68 L637.9,1077.75 L637.07,1077.8 L636.31,1077.83 L635.64,1077.85 L635.06,1077.86 L634.58,1077.85 L634.2,1077.84 L633.92,1077.82 L633.76,1077.8 L633.7,1077.78" stroke="#fff" stroke-width="5.699999999999999" fill="none" stroke-linecap="round"/>
<path d="M656.7,1084.2 L656.64,1084.63 L656.48,1085.05 L656.2,1085.47 L655.82,1085.88 L655.34,1086.29 L654.76,1086.68 L654.09,1087.06 L653.33,1087.43 L652.5,1087.78 L651.59,1088.12 L650.62,1088.44 L649.6,1088.73 L648.54,1089.01 L647.44,1089.27 L646.33,1089.5 L645.2,1089.71 L644.07,1089.9 L642.96,1090.07 L641.86,1090.22 L640.8,1090.34 L639.78,1090.44 L638.81,1090.53 L637.9,1090.6 L637.07,1090.65 L636.31,1090.68 L635.64,1090.7 L635.06,1090.71 L634.58,1090.7 L634.2,1090.69 L633.92,1090.67 L633.76,1090.65 L633.7,1090.62" stroke="#3a3a3a" stroke-width="7.5" fill="none" stroke-linecap="round"/>
<path d="M656.7,1084.2 L656.64,1084.63 L656.48,1085.05 L656.2,1085.47 L655.82,1085.88 L655.34,1086.29 L654.76,1086.68 L654.09,1087.06 L653.33,1087.43 L652.5,1087.78 L651.59,1088.12 L650.62,1088.44 L649.6,1088.73 L648.54,1089.01 L647.44,1089.27 L646.33,1089.5 L645.2,1089.71 L644.07,1089.9 L642.96,1090.07 L641.86,1090.22 L640.8,1090.34 L639.78,1090.44 L638.81,1090.53 L637.9,1090.6 L637.07,1090.65 L636.31,1090.68 L635.64,1090.7 L635.06,1090.71 L634.58,1090.7 L634.2,1090.69 L633.92,1090.67 L633.76,1090.65 L633.7,1090.62" stroke="#fff" stroke-width="5.699999999999999" fill="none" stroke-linecap="round"/>
<path d="M656.7,1097.05 L656.64,1097.48 L656.48,1097.9 L656.2,1098.32 L655.82,1098.73 L655.34,1099.14 L654.76,1099.53 L654.09,1099.91 L653.33,1100.28 L652.5,1100.63 L651.59,1100.97 L650.62,1101.29 L649.6,1101.58 L648.54,1101.86 L647.44,1102.12 L646.33,1102.35 L645.2,1102.56 L644.07,1102.75 L642.96,1102.92 L641.86,1103.07 L640.8,1103.19 L639.78,1103.29 L638.81,1103.38 L637.9,1103.45 L637.07,1103.5 L636.31,1103.53 L635.64,1103.55 L635.06,1103.56 L634.58,1103.55 L634.2,1103.54 L633.92,1103.52 L633.76,1103.5 L633.7,1103.47" stroke="#3a3a3a" stroke-width="7.5" fill="none" stroke-linecap="round"/>
<path d="M656.7,1097.05 L656.64,1097.48 L656.48,1097.9 L656.2,1098.32 L655.82,1098.73 L655.34,1099.14 L654.76,1099.53 L654.09,1099.91 L653.33,1100.28 L652.5,1100.63 L651.59,1100.97 L650.62,1101.29 L649.6,1101.58 L648.54,1101.86 L647.44,1102.12 L646.33,1102.35 L645.2,1102.56 L644.07,1102.75 L642.96,1102.92 L641.86,1103.07 L640.8,1103.19 L639.78,1103.29 L638.81,1103.38 L637.9,1103.45 L637.07,1103.5 L636.31,1103.53 L635.64,1103.55 L635.06,1103.56 L634.58,1103.55 L634.2,1103.54 L633.92,1103.52 L633.76,1103.5 L633.7,1103.47" stroke="#fff" stroke-width="5.699999999999999" fill="none" stroke-linecap="round"/>
<path d="M656.7,1109.9 L656.64,1110.33 L656.48,1110.75 L656.2,1111.17 L655.82,1111.58 L655.34,1111.99 L654.76,1112.38 L654.09,1112.76 L653.33,1113.13 L652.5,1113.48 L651.59,1113.82 L650.62,1114.14 L649.6,1114.43 L648.54,1114.71 L647.44,1114.97 L646.33,1115.2 L645.2,1115.41 L644.07,1115.6 L642.96,1115.77 L641.86,1115.92 L640.8,1116.04 L639.78,1116.14 L638.81,1116.23 L637.9,1116.3 L637.07,1116.35 L636.31,1116.38 L635.64,1116.4 L635.06,1116.41 L634.58,1116.4 L634.2,1116.39 L633.92,1116.37 L633.76,1116.35 L633.7,1116.33" stroke="#3a3a3a" stroke-width="7.5" fill="none" stroke-linecap="round"/>
<path d="M656.7,1109.9 L656.64,1110.33 L656.48,1110.75 L656.2,1111.17 L655.82,1111.58 L655.34,1111.99 L654.76,1112.38 L654.09,1112.76 L653.33,1113.13 L652.5,1113.48 L651.59,1113.82 L650.62,1114.14 L649.6,1114.43 L648.54,1114.71 L647.44,1114.97 L646.33,1115.2 L645.2,1115.41 L644.07,1115.6 L642.96,1115.77 L641.86,1115.92 L640.8,1116.04 L639.78,1116.14 L638.81,1116.23 L637.9,1116.3 L637.07,1116.35 L636.31,1116.38 L635.64,1116.4 L635.06,1116.41 L634.58,1116.4 L634.2,1116.39 L633.92,1116.37 L633.76,1116.35 L633.7,1116.33" stroke="#fff" stroke-width="5.699999999999999" fill="none" stroke-linecap="round"/>
<path d="M656.7,1122.75 L656.64,1123.18 L656.48,1123.6 L656.2,1124.02 L655.82,1124.43 L655.34,1124.84 L654.76,1125.23 L654.09,1125.61 L653.33,1125.98 L652.5,1126.33 L651.59,1126.67 L650.62,1126.99 L649.6,1127.28 L648.54,1127.56 L647.44,1127.82 L646.33,1128.05 L645.2,1128.26 L644.07,1128.45 L642.96,1128.62 L641.86,1128.77 L640.8,1128.89 L639.78,1128.99 L638.81,1129.08 L637.9,1129.15 L637.07,1129.2 L636.31,1129.23 L635.64,1129.25 L635.06,1129.26 L634.58,1129.25 L634.2,1129.24 L633.92,1129.22 L633.76,1129.2 L633.7,1129.17" stroke="#3a3a3a" stroke-width="7.5" fill="none" stroke-linecap="round"/>
<path d="M656.7,1122.75 L656.64,1123.18 L656.48,1123.6 L656.2,1124.02 L655.82,1124.43 L655.34,1124.84 L654.76,1125.23 L654.09,1125.61 L653.33,1125.98 L652.5,1126.33 L651.59,1126.67 L650.62,1126.99 L649.6,1127.28 L648.54,1127.56 L647.44,1127.82 L646.33,1128.05 L645.2,1128.26 L644.07,1128.45 L642.96,1128.62 L641.86,1128.77 L640.8,1128.89 L639.78,1128.99 L638.81,1129.08 L637.9,1129.15 L637.07,1129.2 L636.31,1129.23 L635.64,1129.25 L635.06,1129.26 L634.58,1129.25 L634.2,1129.24 L633.92,1129.22 L633.76,1129.2 L633.7,1129.17" stroke="#fff" stroke-width="5.699999999999999" fill="none" stroke-linecap="round"/>
<path d="M656.7,1135.6 L656.64,1136.03 L656.48,1136.45 L656.2,1136.87 L655.82,1137.28 L655.34,1137.69 L654.76,1138.08 L654.09,1138.46 L653.33,1138.83 L652.5,1139.18 L651.59,1139.52 L650.62,1139.84 L649.6,1140.13 L648.54,1140.41 L647.44,1140.67 L646.33,1140.9 L645.2,1141.11 L644.07,1141.3 L642.96,1141.47 L641.86,1141.62 L640.8,1141.74 L639.78,1141.84 L638.81,1141.93 L637.9,1142 L637.07,1142.05 L636.31,1142.08 L635.64,1142.1 L635.06,1142.11 L634.58,1142.1 L634.2,1142.09 L633.92,1142.07 L633.76,1142.05 L633.7,1142.03" stroke="#3a3a3a" stroke-width="7.5" fill="none" stroke-linecap="round"/>
<path d="M656.7,1135.6 L656.64,1136.03 L656.48,1136.45 L656.2,1136.87 L655.82,1137.28 L655.34,1137.69 L654.76,1138.08 L654.09,1138.46 L653.33,1138.83 L652.5,1139.18 L651.59,1139.52 L650.62,1139.84 L649.6,1140.13 L648.54,1140.41 L647.44,1140.67 L646.33,1140.9 L645.2,1141.11 L644.07,1141.3 L642.96,1141.47 L641.86,1141.62 L640.8,1141.74 L639.78,1141.84 L638.81,1141.93 L637.9,1142 L637.07,1142.05 L636.31,1142.08 L635.64,1142.1 L635.06,1142.11 L634.58,1142.1 L634.2,1142.09 L633.92,1142.07 L633.76,1142.05 L633.7,1142.03" stroke="#fff" stroke-width="5.699999999999999" fill="none" stroke-linecap="round"/>
<path d="M656.7,1148.45 L656.64,1148.88 L656.48,1149.3 L656.2,1149.72 L655.82,1150.13 L655.34,1150.54 L654.76,1150.93 L654.09,1151.31 L653.33,1151.68 L652.5,1152.03 L651.59,1152.37 L650.62,1152.69 L649.6,1152.98 L648.54,1153.26 L647.44,1153.52 L646.33,1153.75 L645.2,1153.96 L644.07,1154.15 L642.96,1154.32 L641.86,1154.47 L640.8,1154.59 L639.78,1154.69 L638.81,1154.78 L637.9,1154.85 L637.07,1154.9 L636.31,1154.93 L635.64,1154.95 L635.06,1154.96 L634.58,1154.95 L634.2,1154.94 L633.92,1154.92 L633.76,1154.9 L633.7,1154.88" stroke="#3a3a3a" stroke-width="7.5" fill="none" stroke-linecap="round"/>
<path d="M656.7,1148.45 L656.64,1148.88 L656.48,1149.3 L656.2,1149.72 L655.82,1150.13 L655.34,1150.54 L654.76,1150.93 L654.09,1151.31 L653.33,1151.68 L652.5,1152.03 L651.59,1152.37 L650.62,1152.69 L649.6,1152.98 L648.54,1153.26 L647.44,1153.52 L646.33,1153.75 L645.2,1153.96 L644.07,1154.15 L642.96,1154.32 L641.86,1154.47 L640.8,1154.59 L639.78,1154.69 L638.81,1154.78 L637.9,1154.85 L637.07,1154.9 L636.31,1154.93 L635.64,1154.95 L635.06,1154.96 L634.58,1154.95 L634.2,1154.94 L633.92,1154.92 L633.76,1154.9 L633.7,1154.88" stroke="#fff" stroke-width="5.699999999999999" fill="none" stroke-linecap="round"/>
</g>
<line x1="651.7" y1="1160" x2="651.7" y2="1238" stroke="#3a3a3a" stroke-width="0.9" stroke-dasharray="16 4"/>
<line x1="659.8" y1="1160" x2="659.8" y2="1238" stroke="#3a3a3a" stroke-width="0.9" stroke-dasharray="16 4"/>
<rect x="646.1" y="1237.8" width="18.8" height="38.5" rx="0" stroke="#2e2e2e" stroke-width="0.9" fill="#fff"/>
<line x1="646.1" y1="1240.8" x2="664.9" y2="1240.8" stroke="#2e2e2e" stroke-width="1.0" />
<line x1="646.1" y1="1243.5" x2="664.9" y2="1243.5" stroke="#2e2e2e" stroke-width="1.2" />
<line x1="646.1" y1="1245.3" x2="664.9" y2="1245.3" stroke="#2e2e2e" stroke-width="0.8" />
<line x1="646.1" y1="1246.8" x2="664.9" y2="1246.8" stroke="#2e2e2e" stroke-width="1.2" />
<line x1="646.1" y1="1249" x2="664.9" y2="1249" stroke="#2e2e2e" stroke-width="0.8" />
<line x1="646.1" y1="1251.6" x2="664.9" y2="1251.6" stroke="#2e2e2e" stroke-width="1.4" />
<line x1="646.1" y1="1254.3" x2="664.9" y2="1254.3" stroke="#2e2e2e" stroke-width="1.2" />
<line x1="646.1" y1="1256.3" x2="664.9" y2="1256.3" stroke="#2e2e2e" stroke-width="0.8" />
<line x1="646.1" y1="1258.6" x2="664.9" y2="1258.6" stroke="#2e2e2e" stroke-width="1.4" />
<line x1="646.1" y1="1261.2" x2="664.9" y2="1261.2" stroke="#2e2e2e" stroke-width="1.0" />
<line x1="646.1" y1="1264" x2="664.9" y2="1264" stroke="#2e2e2e" stroke-width="1.4" />
<line x1="646.1" y1="1266.5" x2="664.9" y2="1266.5" stroke="#2e2e2e" stroke-width="0.8" />
<line x1="646.1" y1="1268.3" x2="664.9" y2="1268.3" stroke="#2e2e2e" stroke-width="1.2" />
<line x1="646.1" y1="1271.3" x2="664.9" y2="1271.3" stroke="#2e2e2e" stroke-width="1.0" />
<line x1="646.1" y1="1272.5" x2="664.9" y2="1272.5" stroke="#2e2e2e" stroke-width="0.8" />
<path d="M646.1,1276.3 L634.9,1286.3 L634.9,1308.8 C637.5,1316 645.5,1321.6 655.5,1321.6 C665.5,1321.6 673.5,1316 675.9,1308.8 L675.9,1286.3 L664.9,1276.3" stroke="#2e2e2e" stroke-width="0.9" fill="none" />
<rect x="645.2" y="1276.3" width="20" height="31.5" rx="0" stroke="#2e2e2e" stroke-width="0.9" fill="none"/>
<line x1="645.2" y1="1307.8" x2="645.2" y2="1319.5" stroke="#2e2e2e" stroke-width="1.08" />
<line x1="665.2" y1="1307.8" x2="665.2" y2="1319.5" stroke="#2e2e2e" stroke-width="1.08" />
<line x1="645.2" y1="1278.5" x2="636.3" y2="1286" stroke="#2e2e2e" stroke-width="0.7200000000000001" />
<line x1="665.2" y1="1278.5" x2="674.5" y2="1286" stroke="#2e2e2e" stroke-width="0.7200000000000001" />
<line x1="635.7" y1="1287.3" x2="645.2" y2="1286.3" stroke="#2e2e2e" stroke-width="0.7200000000000001" />
<line x1="675.1" y1="1287.3" x2="665.2" y2="1286.3" stroke="#2e2e2e" stroke-width="0.7200000000000001" />
<line x1="634.9" y1="1304.5" x2="645.2" y2="1308.6" stroke="#2e2e2e" stroke-width="0.81" />
<line x1="675.9" y1="1304.5" x2="665.2" y2="1308.6" stroke="#2e2e2e" stroke-width="0.81" />
<line x1="640.2" y1="1287.8" x2="640.2" y2="1303.8" stroke="#222" stroke-width="1.0" />
<line x1="670.5" y1="1287.8" x2="670.5" y2="1303.8" stroke="#222" stroke-width="1.0" />
<rect x="631.5" y="1294.7" width="3.4" height="5.9" rx="0" stroke="#2e2e2e" stroke-width="0.81" fill="none"/>
<rect x="675.9" y="1294.7" width="2.6" height="5.9" rx="0" stroke="#2e2e2e" stroke-width="0.81" fill="none"/>
<rect x="1232.15" y="1237.8" width="18.8" height="38.5" rx="0" stroke="#1c1c90" stroke-width="1.3" fill="#2424b0"/>
<rect x="1233.15" y="1238.8" width="16.8" height="1.6" rx="0" stroke="none" stroke-width="0" fill="#ffffff"/>
<rect x="1233.15" y="1272.5" width="16.8" height="2.9" rx="0" stroke="none" stroke-width="0" fill="#ffffff"/>
<line x1="1233.55" y1="1244" x2="1249.55" y2="1244" stroke="#c8c8ff" stroke-width="0.7" />
<line x1="1233.55" y1="1247.2" x2="1249.55" y2="1247.2" stroke="#c8c8ff" stroke-width="0.7" />
<line x1="1233.55" y1="1249.4" x2="1249.55" y2="1249.4" stroke="#c8c8ff" stroke-width="0.7" />
<line x1="1233.55" y1="1251.6" x2="1249.55" y2="1251.6" stroke="#c8c8ff" stroke-width="0.7" />
<line x1="1233.55" y1="1256.3" x2="1249.55" y2="1256.3" stroke="#c8c8ff" stroke-width="0.7" />
<line x1="1233.55" y1="1258.4" x2="1249.55" y2="1258.4" stroke="#c8c8ff" stroke-width="0.7" />
<line x1="1233.55" y1="1260.6" x2="1249.55" y2="1260.6" stroke="#c8c8ff" stroke-width="0.7" />
<line x1="1233.55" y1="1267.2" x2="1249.55" y2="1267.2" stroke="#c8c8ff" stroke-width="0.7" />
<line x1="1233.55" y1="1269.4" x2="1249.55" y2="1269.4" stroke="#c8c8ff" stroke-width="0.7" />
<line x1="1232.15" y1="1276.3" x2="1250.95" y2="1276.3" stroke="#1c1c90" stroke-width="1.3" />
<path d="M1232.1499999999999,1276.3 L1220.95,1286.3 L1220.95,1308.8 C1223.55,1316 1231.55,1321.6 1241.55,1321.6 C1251.55,1321.6 1259.55,1316 1261.95,1308.8 L1261.95,1286.3 L1250.95,1276.3" stroke="#1c1c90" stroke-width="1.3" fill="none" />
<rect x="1231.25" y="1276.3" width="20" height="31.5" rx="0" stroke="#1c1c90" stroke-width="1.3" fill="none"/>
<line x1="1231.25" y1="1307.8" x2="1231.25" y2="1319.5" stroke="#1c1c90" stroke-width="1.56" />
<line x1="1251.25" y1="1307.8" x2="1251.25" y2="1319.5" stroke="#1c1c90" stroke-width="1.56" />
<line x1="1231.25" y1="1278.5" x2="1222.35" y2="1286" stroke="#1c1c90" stroke-width="1.04" />
<line x1="1251.25" y1="1278.5" x2="1260.55" y2="1286" stroke="#1c1c90" stroke-width="1.04" />
<line x1="1221.75" y1="1287.3" x2="1231.25" y2="1286.3" stroke="#1c1c90" stroke-width="1.04" />
<line x1="1261.15" y1="1287.3" x2="1251.25" y2="1286.3" stroke="#1c1c90" stroke-width="1.04" />
<line x1="1220.95" y1="1304.5" x2="1231.25" y2="1308.6" stroke="#1c1c90" stroke-width="1.1700000000000002" />
<line x1="1261.95" y1="1304.5" x2="1251.25" y2="1308.6" stroke="#1c1c90" stroke-width="1.1700000000000002" />
<line x1="1226.25" y1="1287.8" x2="1226.25" y2="1303.8" stroke="#222" stroke-width="1.0" />
<line x1="1256.55" y1="1287.8" x2="1256.55" y2="1303.8" stroke="#222" stroke-width="1.0" />
<rect x="1217.55" y="1294.7" width="3.4" height="5.9" rx="0" stroke="#1c1c90" stroke-width="1.1700000000000002" fill="none"/>
<rect x="1261.95" y="1294.7" width="2.6" height="5.9" rx="0" stroke="#1c1c90" stroke-width="1.1700000000000002" fill="none"/>
<line x1="588" y1="103.8" x2="678.9" y2="103.8" stroke="#555" stroke-width="1" />
<line x1="588" y1="948" x2="678.9" y2="948" stroke="#555" stroke-width="1" />
<line x1="593" y1="103.8" x2="593" y2="948" stroke="#777" stroke-width="1.1" />
<path d="M593,103.8 L592.1,106.8 L591.5,116.8 L590.3,121.6 L590,122.8 L593,121.2 L596,122.8 L595.7,121.6 L594.5,116.8 L593.9,106.8 Z" stroke="#111" stroke-width="0.5" fill="#111" />
<path d="M593,948 L592.1,945 L591.5,935 L590.3,930.2 L590,929 L593,930.6 L596,929 L595.7,930.2 L594.5,935 L593.9,945 Z" stroke="#111" stroke-width="0.5" fill="#111" />
<path d="M572.26,564.31 L571.33,563.98 L570.43,563.54 L569.56,563.01 L568.74,562.39 L567.99,561.70 L567.32,560.95 L566.75,560.16 L566.29,559.34 L565.94,558.50 L565.72,557.67 L565.62,556.86 L565.65,556.08 L565.81,555.35 L566.10,554.68 L566.51,554.09 L567.02,553.60 L567.64,553.20 L568.35,552.90 L569.14,552.72 L569.99,552.65 L570.88,552.70 L571.79,552.87 L572.72,553.14 L573.64,553.53 L574.53,554.01 L575.38,554.59 L576.16,555.24 L576.87,555.96 L577.49,556.74 L578.01,557.55 L578.42,558.38 L578.70,559.21 L578.86,560.04 L578.90,560.84 L578.80,561.59 L578.57,562.29 L578.23,562.92 L577.76,563.47 L577.19,563.92 L576.53,564.26 L575.78,564.50 L574.96,564.63 L574.09,564.64 L573.18,564.53 L572.26,564.31 M572.26,564.31 L569.59,563.32 L566.97,562.00 L564.48,560.37 L562.16,558.46 L560.06,556.31 L558.24,553.99 L556.72,551.53 L555.56,548.99 L554.76,546.43 M572.26,548.64 L571.33,548.31 L570.43,547.87 L569.56,547.34 L568.74,546.72 L567.99,546.04 L567.32,545.29 L566.75,544.49 L566.29,543.67 L565.94,542.84 L565.72,542.00 L565.62,541.19 L565.65,540.41 L565.81,539.68 L566.10,539.02 L566.51,538.43 L567.02,537.93 L567.64,537.53 L568.35,537.23 L569.14,537.05 L569.99,536.98 L570.88,537.03 L571.79,537.20 L572.72,537.48 L573.64,537.86 L574.53,538.35 L575.38,538.92 L576.16,539.58 L576.87,540.30 L577.49,541.07 L578.01,541.88 L578.42,542.71 L578.70,543.55 L578.86,544.37 L578.90,545.17 L578.80,545.93 L578.57,546.63 L578.23,547.25 L577.76,547.80 L577.19,548.25 L576.53,548.60 L575.78,548.84 L574.96,548.96 L574.09,548.97 L573.18,548.86 L572.26,548.64 M572.26,548.64 L569.59,547.66 L566.97,546.33 L564.48,544.70 L562.16,542.79 L560.06,540.65 L558.24,538.32 L556.72,535.86 L555.56,533.32 L554.76,530.76 M560.45,529.43 L572.75,533.12 L572.75,533.12 L573.63,533.33 L574.48,533.41 L575.30,533.38 L576.07,533.22 L576.78,532.95 L577.40,532.56 L577.92,532.07 L578.34,531.49 L578.65,530.83 L578.84,530.09 L578.90,529.31 L578.84,528.48 L578.65,527.64 L578.34,526.79 L577.92,525.96 L577.40,525.15 L576.78,524.40 L576.07,523.70 L575.30,523.08 L574.48,522.55 L573.63,522.13 L572.75,521.81 L560.45,518.12 L560.45,518.12 L559.57,517.91 L558.72,517.82 L557.90,517.86 L557.13,518.02 L556.42,518.29 L555.80,518.67 L555.28,519.16 L554.86,519.74 L554.55,520.41 L554.36,521.14 L554.30,521.93 L554.36,522.75 L554.55,523.60 L554.86,524.45 L555.28,525.28 L555.80,526.08 L556.42,526.84 L557.13,527.54 L557.90,528.15 L558.72,528.68 L559.57,529.11 L560.45,529.43 M564.14,510.35 L573.98,513.30 M569.06,516.35 L569.06,507.29 M578.41,519.15 L578.41,510.10 M558.86,499.69 L558.04,499.19 L557.27,498.60 L556.57,497.93 L555.94,497.20 L555.40,496.41 L554.96,495.60 L554.62,494.77 L554.41,493.93 L554.31,493.12 L554.33,492.33 L554.47,491.59 L554.73,490.91 L555.10,490.30 L555.58,489.79 L556.15,489.37 L556.81,489.05 L557.54,488.85 L558.33,488.76 L559.16,488.78 L560.01,488.93 L560.87,489.19 L561.73,489.55 L578.90,505.90 L578.90,494.58" stroke="#111" stroke-width="1.8" fill="none" stroke-linecap="round" stroke-linejoin="round"/>
<line x1="649" y1="283" x2="852.7" y2="283" stroke="#777" stroke-width="1.1" />
<path d="M679.9,283 L676.9,282.1 L666.9,281.5 L662.1,280.3 L660.9,280 L662.5,283 L660.9,286 L662.1,285.7 L666.9,284.5 L676.9,283.9 Z" stroke="#111" stroke-width="0.5" fill="#111" />
<path d="M718.1,283 L721.1,282.1 L731.1,281.5 L735.9,280.3 L737.1,280 L735.5,283 L737.1,286 L735.9,285.7 L731.1,284.5 L721.1,283.9 Z" stroke="#111" stroke-width="0.5" fill="#111" />
<path d="M762.62,256.59 L762.28,257.54 L761.85,258.47 L761.33,259.36 L760.74,260.20 L760.08,260.97 L759.36,261.66 L758.61,262.24 L757.83,262.72 L757.05,263.07 L756.27,263.30 L755.51,263.40 L754.79,263.37 L754.12,263.20 L753.51,262.91 L752.97,262.49 L752.53,261.96 L752.17,261.33 L751.92,260.60 L751.77,259.79 L751.74,258.92 L751.81,258.01 L751.99,257.07 L752.27,256.12 L752.66,255.18 L753.13,254.26 L753.69,253.39 L754.32,252.59 L755.01,251.86 L755.75,251.22 L756.51,250.69 L757.30,250.27 L758.08,249.98 L758.85,249.82 L759.60,249.78 L760.29,249.88 L760.94,250.11 L761.51,250.47 L762.00,250.94 L762.40,251.53 L762.71,252.21 L762.90,252.98 L763.00,253.82 L762.98,254.71 L762.85,255.64 L762.62,256.59 M749.30,268.40 L765.51,243.80 M772.67,243.80 L777.65,243.80 L777.65,243.80 L778.31,243.85 L778.93,244.00 L779.49,244.24 L779.98,244.58 L780.40,245.00 L780.73,245.50 L780.97,246.06 L781.11,246.68 L781.15,247.33 L781.09,248.02 L780.93,248.72 L780.67,249.42 L780.32,250.11 L779.88,250.76 L779.37,251.38 L778.80,251.94 L778.17,252.44 L777.50,252.86 L776.80,253.20 L776.10,253.44 L775.39,253.59 L774.70,253.64 L771.23,253.89 M771.23,253.89 L773.26,253.89 L773.26,253.89 L774.14,253.96 L774.96,254.18 L775.70,254.54 L776.35,255.04 L776.88,255.66 L777.30,256.39 L777.60,257.22 L777.76,258.13 L777.78,259.10 L777.67,260.11 L777.42,261.14 L777.05,262.18 L776.55,263.19 L775.95,264.16 L775.24,265.07 L774.45,265.90 L773.59,266.63 L772.68,267.25 L771.74,267.74 L770.78,268.11 L769.83,268.33 L768.91,268.40 L763.93,268.40 M784.10,249.95 L780.41,262.25 L780.41,262.25 L780.20,263.13 L780.12,263.98 L780.15,264.80 L780.31,265.57 L780.58,266.28 L780.97,266.90 L781.45,267.42 L782.04,267.84 L782.70,268.15 L783.43,268.34 L784.22,268.40 L785.04,268.34 L785.89,268.15 L786.74,267.84 L787.57,267.42 L788.38,266.90 L789.13,266.28 L789.83,265.57 L790.45,264.80 L790.97,263.98 L791.40,263.13 L791.72,262.25 L795.41,249.95 L795.41,249.95 L795.62,249.07 L795.70,248.22 L795.67,247.40 L795.51,246.63 L795.24,245.92 L794.86,245.30 L794.37,244.78 L793.78,244.36 L793.12,244.05 L792.39,243.86 L791.60,243.80 L790.78,243.86 L789.93,244.05 L789.08,244.36 L788.25,244.78 L787.44,245.30 L786.69,245.92 L785.99,246.63 L785.38,247.40 L784.85,248.22 L784.42,249.07 L784.10,249.95 M797.18,255.12 L802.37,264.96 M805.33,255.12 L794.23,264.96 M810.42,250.69 L821.09,243.80 L813.71,268.40 M819.72,265.45 L815.92,272.09 M840.85,243.80 L831.34,243.80 L827.26,254.38 L829.63,253.96 L830.57,253.54 L831.52,253.26 L832.43,253.15 L833.31,253.20 L834.11,253.41 L834.84,253.77 L835.48,254.28 L836.00,254.93 L836.41,255.70 L836.69,256.58 L836.83,257.55 L836.83,258.59 L836.70,259.67 L836.43,260.77 L836.43,260.77 L836.05,261.86 L835.55,262.92 L834.94,263.93 L834.24,264.89 L833.46,265.76 L832.61,266.52 L831.72,267.18 L830.80,267.70 L829.87,268.08 L828.96,268.32 L828.06,268.40 L827.22,268.33 L826.44,268.10 L825.73,267.73 L825.12,267.22 L824.61,266.57 L824.22,265.81 L823.96,264.95 L823.82,264.00" stroke="#111" stroke-width="1.8" fill="none" stroke-linecap="round" stroke-linejoin="round"/>
<line x1="1042" y1="283.3" x2="1248" y2="283.3" stroke="#777" stroke-width="1.1" />
<path d="M1178.2,283.3 L1175.2,282.4 L1165.2,281.8 L1160.4,280.6 L1159.2,280.3 L1160.8,283.3 L1159.2,286.3 L1160.4,286 L1165.2,284.8 L1175.2,284.2 Z" stroke="#111" stroke-width="0.5" fill="#111" />
<path d="M1217,283.3 L1220,282.4 L1230,281.8 L1234.8,280.6 L1236,280.3 L1234.4,283.3 L1236,286.3 L1234.8,286 L1230,284.8 L1220,284.2 Z" stroke="#111" stroke-width="0.5" fill="#111" />
<path d="M1068.22,256.79 L1067.88,257.74 L1067.45,258.67 L1066.93,259.56 L1066.34,260.40 L1065.68,261.17 L1064.96,261.86 L1064.21,262.44 L1063.43,262.92 L1062.65,263.27 L1061.87,263.50 L1061.11,263.60 L1060.39,263.57 L1059.72,263.40 L1059.11,263.11 L1058.57,262.69 L1058.13,262.16 L1057.77,261.53 L1057.52,260.80 L1057.37,259.99 L1057.34,259.12 L1057.41,258.21 L1057.59,257.27 L1057.87,256.32 L1058.26,255.38 L1058.73,254.46 L1059.29,253.59 L1059.92,252.79 L1060.61,252.06 L1061.35,251.42 L1062.11,250.89 L1062.90,250.47 L1063.68,250.18 L1064.45,250.02 L1065.20,249.98 L1065.89,250.08 L1066.54,250.31 L1067.11,250.67 L1067.60,251.14 L1068.00,251.73 L1068.31,252.41 L1068.50,253.18 L1068.60,254.02 L1068.58,254.91 L1068.45,255.84 L1068.22,256.79 M1054.90,268.60 L1071.11,244.00 M1078.10,244.00 L1083.08,244.00 L1083.08,244.00 L1083.74,244.05 L1084.36,244.20 L1084.92,244.44 L1085.42,244.78 L1085.83,245.20 L1086.16,245.70 L1086.40,246.26 L1086.54,246.88 L1086.58,247.53 L1086.52,248.22 L1086.36,248.92 L1086.10,249.62 L1085.75,250.31 L1085.32,250.96 L1084.81,251.58 L1084.23,252.14 L1083.60,252.64 L1082.93,253.06 L1082.24,253.40 L1081.53,253.64 L1080.82,253.79 L1080.13,253.84 L1076.66,254.09 M1076.66,254.09 L1078.70,254.09 L1078.70,254.09 L1079.58,254.16 L1080.40,254.38 L1081.13,254.74 L1081.78,255.24 L1082.32,255.86 L1082.74,256.59 L1083.03,257.42 L1083.19,258.33 L1083.21,259.30 L1083.10,260.31 L1082.86,261.34 L1082.48,262.38 L1081.99,263.39 L1081.38,264.36 L1080.67,265.27 L1079.88,266.10 L1079.03,266.83 L1078.12,267.45 L1077.17,267.94 L1076.22,268.31 L1075.27,268.53 L1074.34,268.60 L1069.36,268.60 M1089.36,250.15 L1085.67,262.45 L1085.67,262.45 L1085.47,263.33 L1085.38,264.18 L1085.42,265.00 L1085.58,265.77 L1085.85,266.48 L1086.23,267.10 L1086.72,267.62 L1087.30,268.04 L1087.97,268.35 L1088.70,268.54 L1089.49,268.60 L1090.31,268.54 L1091.16,268.35 L1092.00,268.04 L1092.84,267.62 L1093.64,267.10 L1094.40,266.48 L1095.09,265.77 L1095.71,265.00 L1096.24,264.18 L1096.67,263.33 L1096.99,262.45 L1100.68,250.15 L1100.68,250.15 L1100.89,249.27 L1100.97,248.42 L1100.94,247.60 L1100.78,246.83 L1100.51,246.12 L1100.12,245.50 L1099.63,244.98 L1099.05,244.56 L1098.39,244.25 L1097.65,244.06 L1096.87,244.00 L1096.04,244.06 L1095.20,244.25 L1094.35,244.56 L1093.52,244.98 L1092.71,245.50 L1091.95,246.12 L1091.26,246.83 L1090.64,247.60 L1090.11,248.42 L1089.68,249.27 L1089.36,250.15 M1102.28,255.32 L1107.47,265.16 M1110.43,255.32 L1099.33,265.16 M1115.36,250.89 L1126.02,244.00 L1118.64,268.60 M1124.49,265.65 L1120.69,272.29 M1145.45,244.00 L1135.94,244.00 L1131.86,254.58 L1134.23,254.16 L1135.17,253.74 L1136.12,253.46 L1137.03,253.35 L1137.91,253.40 L1138.71,253.61 L1139.44,253.97 L1140.08,254.48 L1140.60,255.13 L1141.01,255.90 L1141.29,256.78 L1141.43,257.75 L1141.43,258.79 L1141.30,259.87 L1141.03,260.97 L1141.03,260.97 L1140.65,262.06 L1140.15,263.12 L1139.54,264.13 L1138.84,265.09 L1138.06,265.96 L1137.21,266.72 L1136.32,267.38 L1135.40,267.90 L1134.47,268.28 L1133.56,268.52 L1132.66,268.60 L1131.82,268.53 L1131.04,268.30 L1130.33,267.93 L1129.72,267.42 L1129.21,266.77 L1128.82,266.01 L1128.56,265.15 L1128.42,264.20" stroke="#111" stroke-width="1.8" fill="none" stroke-linecap="round" stroke-linejoin="round"/>
<line x1="994.6" y1="472.6" x2="1113" y2="472.6" stroke="#777" stroke-width="1.1" />
<line x1="1113" y1="472.6" x2="1113" y2="568.8" stroke="#777" stroke-width="1.1" />
<path d="M1113,513.3 L1112.1,510.3 L1111.5,500.3 L1110.3,495.5 L1110,494.3 L1113,495.9 L1116,494.3 L1115.7,495.5 L1114.5,500.3 L1113.9,510.3 Z" stroke="#111" stroke-width="0.5" fill="#111" />
<path d="M1113,538.7 L1112.1,541.7 L1111.5,551.7 L1110.3,556.5 L1110,557.7 L1113,556.1 L1116,557.7 L1115.7,556.5 L1114.5,551.7 L1113.9,541.7 Z" stroke="#111" stroke-width="0.5" fill="#111" />
<path d="M1020.22,445.29 L1019.88,446.24 L1019.45,447.17 L1018.93,448.06 L1018.34,448.90 L1017.68,449.67 L1016.96,450.36 L1016.21,450.94 L1015.43,451.42 L1014.65,451.77 L1013.87,452.00 L1013.11,452.10 L1012.39,452.07 L1011.72,451.90 L1011.11,451.61 L1010.57,451.19 L1010.13,450.66 L1009.77,450.03 L1009.52,449.30 L1009.37,448.49 L1009.34,447.62 L1009.41,446.71 L1009.59,445.77 L1009.87,444.82 L1010.26,443.88 L1010.73,442.96 L1011.29,442.09 L1011.92,441.29 L1012.61,440.56 L1013.35,439.92 L1014.11,439.39 L1014.90,438.97 L1015.68,438.68 L1016.45,438.52 L1017.20,438.48 L1017.89,438.58 L1018.54,438.81 L1019.11,439.17 L1019.60,439.64 L1020.00,440.23 L1020.31,440.91 L1020.50,441.68 L1020.60,442.52 L1020.58,443.41 L1020.45,444.34 L1020.22,445.29 M1006.90,457.10 L1023.11,432.50 M1028.20,437.06 L1028.71,436.24 L1029.30,435.47 L1029.97,434.77 L1030.70,434.14 L1031.48,433.60 L1032.29,433.16 L1033.13,432.82 L1033.96,432.61 L1034.78,432.51 L1035.57,432.53 L1036.31,432.67 L1036.99,432.93 L1037.59,433.30 L1038.11,433.78 L1038.53,434.35 L1038.84,435.01 L1039.05,435.74 L1039.14,436.53 L1039.11,437.36 L1038.97,438.21 L1038.71,439.07 L1038.34,439.93 L1022.00,457.10 L1033.31,457.10 M1042.63,438.65 L1038.94,450.95 L1038.94,450.95 L1038.74,451.83 L1038.65,452.68 L1038.69,453.50 L1038.84,454.27 L1039.11,454.98 L1039.50,455.60 L1039.99,456.12 L1040.57,456.54 L1041.23,456.85 L1041.97,457.04 L1042.75,457.10 L1043.58,457.04 L1044.42,456.85 L1045.27,456.54 L1046.11,456.12 L1046.91,455.60 L1047.67,454.98 L1048.36,454.27 L1048.98,453.50 L1049.51,452.68 L1049.94,451.83 L1050.26,450.95 L1053.95,438.65 L1053.95,438.65 L1054.15,437.77 L1054.24,436.92 L1054.20,436.10 L1054.05,435.33 L1053.77,434.62 L1053.39,434.00 L1052.90,433.48 L1052.32,433.06 L1051.65,432.75 L1050.92,432.56 L1050.13,432.50 L1049.31,432.56 L1048.47,432.75 L1047.62,433.06 L1046.78,433.48 L1045.98,434.00 L1045.22,434.62 L1044.53,435.33 L1043.91,436.10 L1043.38,436.92 L1042.95,437.77 L1042.63,438.65 M1056.18,443.82 L1061.37,453.66 M1064.33,443.82 L1053.23,453.66 M1069.89,439.39 L1080.56,432.50 L1073.18,457.10 M1079.65,454.15 L1075.85,460.79 M1101.25,432.50 L1091.74,432.50 L1087.66,443.08 L1090.03,442.66 L1090.97,442.24 L1091.92,441.96 L1092.83,441.85 L1093.71,441.90 L1094.51,442.11 L1095.24,442.47 L1095.88,442.98 L1096.40,443.63 L1096.81,444.40 L1097.09,445.28 L1097.23,446.25 L1097.23,447.29 L1097.10,448.37 L1096.83,449.47 L1096.83,449.47 L1096.45,450.56 L1095.95,451.62 L1095.34,452.63 L1094.64,453.59 L1093.86,454.46 L1093.01,455.22 L1092.12,455.88 L1091.20,456.40 L1090.27,456.78 L1089.36,457.02 L1088.46,457.10 L1087.62,457.03 L1086.84,456.80 L1086.13,456.43 L1085.52,455.92 L1085.01,455.27 L1084.62,454.51 L1084.36,453.65 L1084.22,452.70" stroke="#111" stroke-width="1.8" fill="none" stroke-linecap="round" stroke-linejoin="round"/>
<line x1="1214" y1="842" x2="1332" y2="842" stroke="#555" stroke-width="1" />
<line x1="1218" y1="945.3" x2="1332" y2="945.3" stroke="#555" stroke-width="1" />
<line x1="1328.8" y1="842" x2="1328.8" y2="945.3" stroke="#777" stroke-width="1.1" />
<path d="M1328.8,842 L1327.9,845 L1327.3,855 L1326.1,859.8 L1325.8,861 L1328.8,859.4 L1331.8,861 L1331.5,859.8 L1330.3,855 L1329.7,845 Z" stroke="#111" stroke-width="0.5" fill="#111" />
<path d="M1328.8,945.3 L1327.9,942.3 L1327.3,932.3 L1326.1,927.5 L1325.8,926.3 L1328.8,927.9 L1331.8,926.3 L1331.5,927.5 L1330.3,932.3 L1329.7,942.3 Z" stroke="#111" stroke-width="0.5" fill="#111" />
<path d="M1303.05,906.68 L1303.00,907.35 L1302.82,907.98 L1302.53,908.55 L1302.14,909.04 L1301.64,909.46 L1301.06,909.78 L1300.40,910.01 L1299.67,910.14 L1298.89,910.16 L1298.07,910.09 L1297.24,909.91 L1296.40,909.63 L1295.57,909.26 L1294.77,908.81 L1294.01,908.28 L1293.32,907.68 L1292.69,907.03 L1292.15,906.33 L1291.71,905.61 L1291.36,904.87 L1291.13,904.14 L1291.01,903.41 L1291.01,902.72 L1291.13,902.07 L1291.36,901.47 L1291.71,900.94 L1292.15,900.48 L1292.69,900.11 L1293.32,899.83 L1294.01,899.65 L1294.77,899.58 L1295.57,899.60 L1296.40,899.73 L1297.24,899.96 L1298.07,900.28 L1298.89,900.69 L1299.67,901.19 L1300.40,901.75 L1301.06,902.38 L1301.64,903.05 L1302.14,903.76 L1302.53,904.50 L1302.82,905.24 L1303.00,905.97 L1303.05,906.68 M1303.05,906.68 L1303.12,905.91 L1303.30,905.19 L1303.60,904.54 L1304.01,903.97 L1304.52,903.48 L1305.13,903.10 L1305.82,902.82 L1306.58,902.65 L1307.39,902.60 L1308.24,902.66 L1309.11,902.84 L1309.98,903.13 L1310.84,903.53 L1311.68,904.02 L1312.46,904.60 L1313.19,905.26 L1313.84,905.98 L1314.40,906.76 L1314.87,907.57 L1315.22,908.39 L1315.46,909.22 L1315.58,910.04 L1315.58,910.83 L1315.46,911.58 L1315.22,912.26 L1314.87,912.88 L1314.40,913.41 L1313.84,913.84 L1313.19,914.18 L1312.46,914.40 L1311.68,914.51 L1310.84,914.51 L1309.98,914.38 L1309.11,914.15 L1308.24,913.81 L1307.39,913.36 L1306.58,912.82 L1305.82,912.20 L1305.13,911.51 L1304.52,910.76 L1304.01,909.96 L1303.60,909.14 L1303.30,908.31 L1303.12,907.48 L1303.05,906.68 M1297.89,895.07 L1291.00,884.40 L1315.60,891.78 M1291.00,876.37 L1300.84,879.33 M1292.97,881.04 L1298.87,874.66 M1292.97,872.89 L1298.87,882.81" stroke="#111" stroke-width="1.8" fill="none" stroke-linecap="round" stroke-linejoin="round"/>
<line x1="699" y1="950" x2="699" y2="1062" stroke="#777" stroke-width="1" />
<line x1="1197.7" y1="950" x2="1197.7" y2="1062" stroke="#777" stroke-width="1" />
<line x1="699" y1="1058.9" x2="1197.7" y2="1058.9" stroke="#777" stroke-width="1.1" />
<path d="M699,1058.9 L702,1058 L712,1057.4 L716.8,1056.2 L718,1055.9 L716.4,1058.9 L718,1061.9 L716.8,1061.6 L712,1060.4 L702,1059.8 Z" stroke="#111" stroke-width="0.5" fill="#111" />
<path d="M1197.7,1058.9 L1194.7,1058 L1184.7,1057.4 L1179.9,1056.2 L1178.7,1055.9 L1180.3,1058.9 L1178.7,1061.9 L1179.9,1061.6 L1184.7,1060.4 L1194.7,1059.8 Z" stroke="#111" stroke-width="0.5" fill="#111" />
<path d="M917.44,1020.10 L922.42,1020.10 L922.42,1020.10 L923.08,1020.15 L923.70,1020.30 L924.26,1020.54 L924.75,1020.88 L925.17,1021.30 L925.50,1021.80 L925.74,1022.36 L925.88,1022.98 L925.92,1023.63 L925.86,1024.32 L925.69,1025.02 L925.44,1025.72 L925.09,1026.41 L924.65,1027.06 L924.14,1027.68 L923.57,1028.24 L922.94,1028.74 L922.27,1029.16 L921.57,1029.50 L920.86,1029.74 L920.16,1029.89 L919.46,1029.94 L916.00,1030.19 M916.00,1030.19 L918.03,1030.19 L918.03,1030.19 L918.91,1030.26 L919.73,1030.48 L920.47,1030.84 L921.11,1031.34 L921.65,1031.96 L922.07,1032.69 L922.36,1033.52 L922.52,1034.43 L922.55,1035.40 L922.44,1036.41 L922.19,1037.44 L921.82,1038.48 L921.32,1039.49 L920.72,1040.46 L920.01,1041.37 L919.22,1042.20 L918.36,1042.93 L917.45,1043.55 L916.51,1044.04 L915.55,1044.41 L914.60,1044.63 L913.68,1044.70 L908.70,1044.70 M940.77,1026.74 L940.44,1027.67 L940.00,1028.57 L939.47,1029.44 L938.85,1030.26 L938.17,1031.01 L937.42,1031.68 L936.62,1032.25 L935.80,1032.71 L934.97,1033.06 L934.13,1033.28 L933.32,1033.38 L932.54,1033.35 L931.81,1033.19 L931.15,1032.90 L930.56,1032.49 L930.06,1031.98 L929.66,1031.36 L929.36,1030.65 L929.18,1029.86 L929.11,1029.01 L929.16,1028.12 L929.33,1027.21 L929.61,1026.28 L929.99,1025.36 L930.48,1024.47 L931.05,1023.62 L931.71,1022.84 L932.43,1022.13 L933.20,1021.51 L934.01,1020.99 L934.84,1020.58 L935.68,1020.30 L936.50,1020.14 L937.30,1020.10 L938.06,1020.20 L938.76,1020.43 L939.38,1020.77 L939.93,1021.24 L940.38,1021.81 L940.73,1022.47 L940.97,1023.22 L941.09,1024.04 L941.10,1024.91 L940.99,1025.82 L940.77,1026.74 M940.77,1026.74 L939.79,1029.41 L938.46,1032.03 L936.83,1034.52 L934.92,1036.84 L932.78,1038.94 L930.45,1040.76 L927.99,1042.28 L925.45,1043.44 L922.89,1044.24 M944.97,1026.25 L941.28,1038.55 L941.28,1038.55 L941.07,1039.43 L940.99,1040.28 L941.02,1041.10 L941.18,1041.87 L941.45,1042.58 L941.84,1043.20 L942.33,1043.72 L942.91,1044.14 L943.57,1044.45 L944.31,1044.64 L945.09,1044.70 L945.92,1044.64 L946.76,1044.45 L947.61,1044.14 L948.44,1043.72 L949.25,1043.20 L950.00,1042.58 L950.70,1041.87 L951.32,1041.10 L951.85,1040.28 L952.27,1039.43 L952.59,1038.55 L956.28,1026.25 L956.28,1026.25 L956.49,1025.37 L956.58,1024.52 L956.54,1023.70 L956.38,1022.93 L956.11,1022.22 L955.73,1021.60 L955.24,1021.08 L954.66,1020.66 L953.99,1020.35 L953.26,1020.16 L952.47,1020.10 L951.65,1020.16 L950.80,1020.35 L949.95,1020.66 L949.12,1021.08 L948.32,1021.60 L947.56,1022.22 L946.86,1022.93 L946.25,1023.70 L945.72,1024.52 L945.29,1025.37 L944.97,1026.25 M963.75,1029.94 L960.80,1039.78 M957.75,1034.86 L966.81,1034.86 M954.95,1044.21 L964.00,1044.21 M974.11,1024.66 L974.61,1023.84 L975.20,1023.07 L975.87,1022.37 L976.60,1021.74 L977.39,1021.20 L978.20,1020.76 L979.03,1020.42 L979.87,1020.21 L980.68,1020.11 L981.47,1020.13 L982.21,1020.27 L982.89,1020.53 L983.50,1020.90 L984.01,1021.38 L984.43,1021.95 L984.75,1022.61 L984.95,1023.34 L985.04,1024.13 L985.02,1024.96 L984.87,1025.81 L984.61,1026.67 L984.25,1027.53 L967.90,1044.70 L979.22,1044.70" stroke="#111" stroke-width="1.8" fill="none" stroke-linecap="round" stroke-linejoin="round"/>
<line x1="680.4" y1="950" x2="680.4" y2="1140" stroke="#777" stroke-width="1" />
<line x1="1216.9" y1="950" x2="1216.9" y2="1140" stroke="#777" stroke-width="1" />
<line x1="680.4" y1="1135.8" x2="1216.9" y2="1135.8" stroke="#777" stroke-width="1.1" />
<path d="M680.4,1135.8 L683.4,1134.9 L693.4,1134.3 L698.2,1133.1 L699.4,1132.8 L697.8,1135.8 L699.4,1138.8 L698.2,1138.5 L693.4,1137.3 L683.4,1136.7 Z" stroke="#111" stroke-width="0.5" fill="#111" />
<path d="M1216.9,1135.8 L1213.9,1134.9 L1203.9,1134.3 L1199.1,1133.1 L1197.9,1132.8 L1199.5,1135.8 L1197.9,1138.8 L1199.1,1138.5 L1203.9,1137.3 L1213.9,1136.7 Z" stroke="#111" stroke-width="0.5" fill="#111" />
<path d="M926.09,1096.70 L911.41,1113.92 L923.18,1113.92 M922.83,1106.05 L918.25,1121.30 M930.90,1101.26 L931.40,1100.44 L931.99,1099.67 L932.66,1098.97 L933.39,1098.34 L934.17,1097.80 L934.99,1097.36 L935.82,1097.02 L936.65,1096.81 L937.47,1096.71 L938.26,1096.73 L939.00,1096.87 L939.68,1097.13 L940.28,1097.50 L940.80,1097.98 L941.22,1098.55 L941.54,1099.21 L941.74,1099.94 L941.83,1100.73 L941.80,1101.56 L941.66,1102.41 L941.40,1103.27 L941.04,1104.13 L924.69,1121.30 L936.01,1121.30 M945.72,1102.85 L942.03,1115.15 L942.03,1115.15 L941.82,1116.03 L941.74,1116.88 L941.77,1117.70 L941.93,1118.47 L942.20,1119.18 L942.59,1119.80 L943.08,1120.32 L943.66,1120.74 L944.32,1121.05 L945.06,1121.24 L945.84,1121.30 L946.67,1121.24 L947.51,1121.05 L948.36,1120.74 L949.19,1120.32 L950.00,1119.80 L950.75,1119.18 L951.45,1118.47 L952.07,1117.70 L952.60,1116.88 L953.02,1116.03 L953.34,1115.15 L957.03,1102.85 L957.03,1102.85 L957.24,1101.97 L957.33,1101.12 L957.29,1100.30 L957.13,1099.53 L956.86,1098.82 L956.48,1098.20 L955.99,1097.68 L955.41,1097.26 L954.74,1096.95 L954.01,1096.76 L953.22,1096.70 L952.40,1096.76 L951.55,1096.95 L950.70,1097.26 L949.87,1097.68 L949.07,1098.20 L948.31,1098.82 L947.61,1099.53 L947.00,1100.30 L946.47,1101.12 L946.04,1101.97 L945.72,1102.85 M964.63,1106.54 L961.68,1116.38 M958.63,1111.46 L967.68,1111.46 M955.82,1120.81 L964.88,1120.81 M975.11,1101.26 L975.61,1100.44 L976.20,1099.67 L976.87,1098.97 L977.60,1098.34 L978.39,1097.80 L979.20,1097.36 L980.03,1097.02 L980.87,1096.81 L981.68,1096.71 L982.47,1096.73 L983.21,1096.87 L983.89,1097.13 L984.50,1097.50 L985.01,1097.98 L985.43,1098.55 L985.75,1099.21 L985.95,1099.94 L986.04,1100.73 L986.02,1101.56 L985.87,1102.41 L985.61,1103.27 L985.25,1104.13 L968.90,1121.30 L980.22,1121.30" stroke="#111" stroke-width="1.8" fill="none" stroke-linecap="round" stroke-linejoin="round"/>
<line x1="581.2" y1="1364.7" x2="581.2" y2="1591.2" stroke="#555" stroke-width="1.1" />
<line x1="576.6" y1="1496.2" x2="666.8" y2="1496.2" stroke="#555" stroke-width="1" />
<line x1="576" y1="1591.2" x2="694" y2="1591.2" stroke="#555" stroke-width="1" />
<path d="M581.2,1496.2 L580.3,1499.2 L579.7,1509.2 L578.5,1514 L578.2,1515.2 L581.2,1513.6 L584.2,1515.2 L583.9,1514 L582.7,1509.2 L582.1,1499.2 Z" stroke="#111" stroke-width="0.5" fill="#111" />
<path d="M581.2,1591.2 L580.3,1588.2 L579.7,1578.2 L578.5,1573.4 L578.2,1572.2 L581.2,1573.8 L584.2,1572.2 L583.9,1573.4 L582.7,1578.2 L582.1,1588.2 Z" stroke="#111" stroke-width="0.5" fill="#111" />
<path d="M555.85,1455.68 L555.80,1456.35 L555.62,1456.98 L555.33,1457.55 L554.94,1458.04 L554.44,1458.46 L553.86,1458.78 L553.20,1459.01 L552.47,1459.14 L551.69,1459.16 L550.87,1459.09 L550.04,1458.91 L549.20,1458.63 L548.37,1458.26 L547.57,1457.81 L546.81,1457.28 L546.12,1456.68 L545.49,1456.03 L544.95,1455.33 L544.51,1454.61 L544.16,1453.87 L543.93,1453.14 L543.81,1452.41 L543.81,1451.72 L543.93,1451.07 L544.16,1450.47 L544.51,1449.94 L544.95,1449.48 L545.49,1449.11 L546.12,1448.83 L546.81,1448.65 L547.57,1448.58 L548.37,1448.60 L549.20,1448.73 L550.04,1448.96 L550.87,1449.28 L551.69,1449.69 L552.47,1450.19 L553.20,1450.75 L553.86,1451.38 L554.44,1452.05 L554.94,1452.76 L555.33,1453.50 L555.62,1454.24 L555.80,1454.97 L555.85,1455.68 M555.85,1455.68 L555.92,1454.91 L556.10,1454.19 L556.40,1453.54 L556.81,1452.97 L557.32,1452.48 L557.93,1452.10 L558.62,1451.82 L559.38,1451.65 L560.19,1451.60 L561.04,1451.66 L561.91,1451.84 L562.78,1452.13 L563.64,1452.53 L564.48,1453.02 L565.26,1453.60 L565.99,1454.26 L566.64,1454.98 L567.20,1455.76 L567.67,1456.57 L568.02,1457.39 L568.26,1458.22 L568.38,1459.04 L568.38,1459.83 L568.26,1460.58 L568.02,1461.26 L567.67,1461.88 L567.20,1462.41 L566.64,1462.84 L565.99,1463.18 L565.26,1463.40 L564.48,1463.51 L563.64,1463.51 L562.78,1463.38 L561.91,1463.15 L561.04,1462.81 L560.19,1462.36 L559.38,1461.82 L558.62,1461.20 L557.93,1460.51 L557.32,1459.76 L556.81,1458.96 L556.40,1458.14 L556.10,1457.31 L555.92,1456.48 L555.85,1455.68 M543.80,1431.93 L543.80,1441.44 L554.38,1445.52 L553.96,1443.16 L553.54,1442.21 L553.26,1441.27 L553.15,1440.35 L553.20,1439.48 L553.41,1438.67 L553.77,1437.94 L554.28,1437.30 L554.93,1436.78 L555.70,1436.37 L556.58,1436.10 L557.55,1435.95 L558.59,1435.95 L559.67,1436.08 L560.77,1436.35 L560.77,1436.35 L561.86,1436.73 L562.92,1437.24 L563.93,1437.84 L564.89,1438.55 L565.76,1439.33 L566.52,1440.17 L567.18,1441.06 L567.70,1441.98 L568.08,1442.91 L568.32,1443.83 L568.40,1444.72 L568.33,1445.56 L568.10,1446.35 L567.73,1447.05 L567.22,1447.66 L566.57,1448.17 L565.81,1448.56 L564.95,1448.82 L564.00,1448.96 M568.40,1424.86 L551.18,1419.69 L551.18,1415.62 L551.18,1415.62 L551.21,1415.30 L551.30,1415.02 L551.45,1414.76 L551.65,1414.53 L551.90,1414.35 L552.20,1414.21 L552.54,1414.12 L552.91,1414.08 L553.30,1414.08 L553.71,1414.14 L554.13,1414.24 L568.40,1418.52 M554.13,1414.24 L554.13,1414.24 L553.71,1414.09 L553.30,1413.90 L552.91,1413.67 L552.54,1413.40 L552.20,1413.11 L551.90,1412.79 L551.65,1412.46 L551.45,1412.11 L551.30,1411.76 L551.21,1411.42 L551.18,1411.09 L551.18,1409.28 L551.18,1409.28 L551.21,1408.97 L551.30,1408.68 L551.45,1408.42 L551.65,1408.20 L551.90,1408.02 L552.20,1407.88 L552.54,1407.78 L552.91,1407.74 L553.30,1407.75 L553.71,1407.80 L554.13,1407.90 L568.40,1412.18 M551.18,1393.91 L568.40,1399.07 M551.18,1393.91 L551.18,1400.24 L551.18,1400.24 L551.22,1400.70 L551.32,1401.18 L551.49,1401.65 L551.73,1402.12 L552.02,1402.57 L552.37,1402.99 L552.76,1403.38 L553.19,1403.73 L553.65,1404.02 L554.13,1404.26 L554.62,1404.44 L564.96,1407.54 L564.96,1407.54 L565.45,1407.66 L565.93,1407.71 L566.39,1407.69 L566.82,1407.60 L567.21,1407.45 L567.56,1407.23 L567.85,1406.96 L568.09,1406.63 L568.26,1406.26 L568.36,1405.85 L568.40,1405.41 L568.40,1399.07 M551.18,1390.30 L568.40,1385.28 M551.18,1380.11 L568.40,1395.46" stroke="#111" stroke-width="1.8" fill="none" stroke-linecap="round" stroke-linejoin="round"/>
<path d="M667.0,1496 L731.0,1496 Q730.0,1499 725.0,1500 L709.0,1504 L689.0,1504 L673.0,1500 Q668.0,1499 667.0,1496 Z" stroke="#121250" stroke-width="1.3" fill="none" />
<line x1="671" y1="1499.3" x2="727" y2="1499.3" stroke="#222" stroke-width="1.2" />
<rect x="689.5" y="1504" width="19" height="42" rx="0" stroke="#121250" stroke-width="1.3" fill="none"/>
<rect x="692.2" y="1546" width="13.6" height="7.4" rx="0" stroke="#121250" stroke-width="1.3" fill="none"/>
<circle cx="699" cy="1539.8" r="2.2" stroke="#121250" stroke-width="1.6" fill="#8080c0"/>
<line x1="688" y1="1539.8" x2="710" y2="1539.8" stroke="#c9ae7c" stroke-width="1.0" stroke-dasharray="73 8 6 8"/>
<circle cx="699" cy="1572.3" r="19.3" stroke="#121250" stroke-width="1.6" fill="none"/>
<line x1="699" y1="1488" x2="699" y2="1600" stroke="#c9ae7c" stroke-width="1.0" stroke-dasharray="73 8 6 8"/>
<path d="M1165.7,1496 L1229.7,1496 Q1228.7,1499 1223.7,1500 L1207.7,1504 L1187.7,1504 L1171.7,1500 Q1166.7,1499 1165.7,1496 Z" stroke="#121250" stroke-width="1.3" fill="none" />
<line x1="1169.7" y1="1499.3" x2="1225.7" y2="1499.3" stroke="#222" stroke-width="1.2" />
<rect x="1188.2" y="1504" width="19" height="42" rx="0" stroke="#121250" stroke-width="1.3" fill="none"/>
<rect x="1190.9" y="1546" width="13.6" height="7.4" rx="0" stroke="#121250" stroke-width="1.3" fill="none"/>
<circle cx="1197.7" cy="1539.8" r="2.2" stroke="#121250" stroke-width="1.6" fill="#8080c0"/>
<line x1="1186.7" y1="1539.8" x2="1208.7" y2="1539.8" stroke="#c9ae7c" stroke-width="1.0" stroke-dasharray="73 8 6 8"/>
<line x1="1197.7" y1="1488" x2="1197.7" y2="1600" stroke="#c9ae7c" stroke-width="1.0" stroke-dasharray="73 8 6 8"/>
<path d="M1184.43,1558.7 A19,19 0 1 1 1182.73,1584" stroke="#121250" stroke-width="1.6" fill="none" />
<circle cx="699" cy="1572.3" r="17.8" stroke="#121250" stroke-width="1" fill="none"/>
<line x1="718" y1="1558.7" x2="1178.7" y2="1558.7" stroke="#121250" stroke-width="1.3" />
<line x1="718" y1="1584" x2="1178.7" y2="1584" stroke="#121250" stroke-width="1.3" />
<line x1="672" y1="1572.3" x2="1225" y2="1572.3" stroke="#c9ae7c" stroke-width="1.0" stroke-dasharray="73 8 6 8"/>
<path d="M1224.6,1437.5 L1224.6,1415.5 Q1224.6,1413 1228.15,1413 Q1231.7,1413 1231.7,1415.5 L1231.7,1437.5" stroke="#121250" stroke-width="1.3" fill="none" />
<path d="M1249.6,1437.5 L1249.6,1415.5 Q1249.6,1413 1252.9499999999998,1413 Q1256.3,1413 1256.3,1415.5 L1256.3,1437.5" stroke="#121250" stroke-width="1.3" fill="none" />
<rect x="1217" y="1437.2" width="47.6" height="13.2" rx="0" stroke="#121250" stroke-width="1.3" fill="none"/>
<line x1="1220" y1="1437.2" x2="1220" y2="1450.4" stroke="#121250" stroke-width="1.1" />
<line x1="1262.2" y1="1437.2" x2="1262.2" y2="1450.4" stroke="#121250" stroke-width="0.8" />
<path d="M1221.5,1450.4 L1225,1463.6 L1237,1463.6" stroke="#121250" stroke-width="1.3" fill="none" />
<line x1="1231.1" y1="1450.4" x2="1231.1" y2="1463.6" stroke="#121250" stroke-width="1" />
<rect x="1229.9" y="1471.5" width="21.5" height="8.8" rx="0" stroke="#121250" stroke-width="1.3" fill="none"/>
<path d="M1232,1471.5 Q1234,1476 1238,1476 Q1242,1476 1244,1471.5" stroke="#121250" stroke-width="0.9" fill="none" />
<path d="M1256,1464.5 L1211,1464.5 Q1193.8,1464.5 1193.8,1481 L1193.8,1495.5" stroke="#121250" stroke-width="1.3" fill="none" />
<path d="M1256,1471.5 L1211,1471.5 Q1201.2,1471.5 1201.2,1480 L1201.2,1495.5" stroke="#121250" stroke-width="1.3" fill="none" />
<line x1="1211" y1="1464.5" x2="1211" y2="1471.5" stroke="#121250" stroke-width="0.9" />
<line x1="1193.8" y1="1480.3" x2="1201.2" y2="1480.3" stroke="#121250" stroke-width="0.9" />
<circle cx="1251.4" cy="1457.1" r="15" stroke="#121250" stroke-width="1.3" fill="none"/>
<circle cx="1251.4" cy="1457.1" r="7" stroke="#121250" stroke-width="1.3" fill="none"/>
<line x1="1251.4" y1="1450.5" x2="1251.4" y2="1464" stroke="#121250" stroke-width="1" />
<path d="M641,1437.5 L641,1415.5 Q641,1413 644.35,1413 Q647.7,1413 647.7,1415.5 L647.7,1437.5" stroke="#2a2a2a" stroke-width="0.9" fill="none" />
<path d="M665,1437.5 L665,1415.5 Q665,1413 668.35,1413 Q671.7,1413 671.7,1415.5 L671.7,1437.5" stroke="#2a2a2a" stroke-width="0.9" fill="none" />
<rect x="633.5" y="1437.5" width="46.1" height="13.1" rx="0" stroke="#2a2a2a" stroke-width="0.9" fill="none"/>
<line x1="635.5" y1="1437.5" x2="635.5" y2="1450.6" stroke="#2a2a2a" stroke-width="0.8" />
<line x1="677" y1="1437.5" x2="677" y2="1450.6" stroke="#2a2a2a" stroke-width="1.6" />
<line x1="677" y1="1450.6" x2="672" y2="1464.4" stroke="#2a2a2a" stroke-width="1.4" />
<line x1="665.7" y1="1450.6" x2="665.7" y2="1464.4" stroke="#2a2a2a" stroke-width="0.8" />
<rect x="645.5" y="1472.3" width="21.7" height="8.2" rx="0" stroke="#2a2a2a" stroke-width="0.9" fill="none"/>
<path d="M652,1472.3 Q654,1477 656.5,1477 Q659,1477 661,1472.3" stroke="#2a2a2a" stroke-width="0.8" fill="none" />
<path d="M643.26,1471.38 A14.6,14.6 0 0 1 643.26,1442.62" stroke="#2a2a2a" stroke-width="0.9" fill="none" />
<path d="M649.58,1442.9 A14.6,14.6 0 0 1 660.34,1458.27" stroke="#2a2a2a" stroke-width="0.9" fill="none" />
<path d="M638.63,1459.33 A7.1,7.1 0 1 1 648.85,1463.05" stroke="#2a2a2a" stroke-width="0.9" fill="none" />
<line x1="646" y1="1450" x2="646" y2="1464.4" stroke="#2a2a2a" stroke-width="0.9" />
<path d="M644.7,1464.4 L686.7,1464.4 Q702.8,1464.4 702.8,1480 L702.8,1496" stroke="#2a2a2a" stroke-width="0.9" fill="none" />
<path d="M671,1472.3 L686.7,1472.3 Q694.9,1472.3 694.9,1480 L694.9,1496" stroke="#2a2a2a" stroke-width="0.9" fill="none" />
<line x1="686.7" y1="1464.4" x2="686.7" y2="1472.3" stroke="#2a2a2a" stroke-width="0.8" />
<line x1="694.9" y1="1480" x2="702.8" y2="1480" stroke="#2a2a2a" stroke-width="0.8" />
<text x="0" y="0" font-size="52" fill="#9a9a9a" fill-opacity="0.24" style="font-family:'Liberation Sans',sans-serif" transform="translate(620,867) rotate(-45)">rent.sk</text>
</svg>
</body></html>
